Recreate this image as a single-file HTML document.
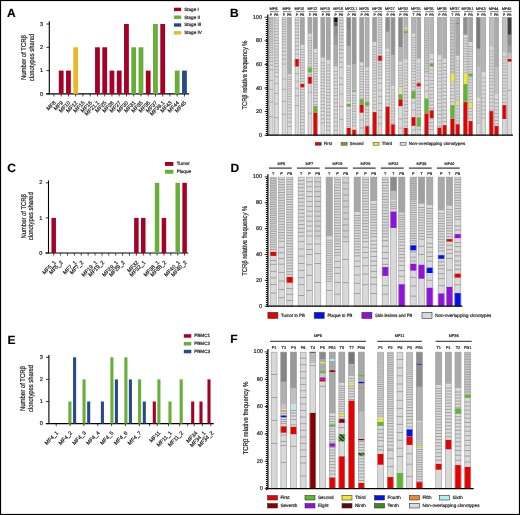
<!DOCTYPE html>
<html><head><meta charset="utf-8"><style>
html,body{margin:0;padding:0;background:#fff;}
svg{display:block;will-change:transform;}
text{font-family:"Liberation Sans", sans-serif;text-rendering:geometricPrecision;stroke:#333;stroke-width:0.22px;}
</style></head><body>
<svg width="520" height="515" viewBox="0 0 520 515">
<rect x="0" y="0" width="520" height="515" fill="#fff"/>
<defs>
<pattern id="hr" patternUnits="userSpaceOnUse" width="2.8" height="2.8" patternTransform="rotate(-45)"><rect width="2.8" height="2.8" fill="#e60000"/><rect width="1.3" height="2.8" fill="#111"/></pattern>
<pattern id="hg" patternUnits="userSpaceOnUse" width="2.8" height="2.8" patternTransform="rotate(-45)"><rect width="2.8" height="2.8" fill="#5cb82e"/><rect width="1.3" height="2.8" fill="#111"/></pattern>
</defs>
<text x="7.00" y="17.20" font-size="12" text-anchor="start" font-weight="bold" fill="#000" >A</text>
<text x="229.90" y="17.00" font-size="12" text-anchor="start" font-weight="bold" fill="#000" >B</text>
<text x="7.20" y="172.20" font-size="12" text-anchor="start" font-weight="bold" fill="#000" >C</text>
<text x="230.40" y="171.90" font-size="12" text-anchor="start" font-weight="bold" fill="#000" >D</text>
<text x="7.60" y="344.00" font-size="12" text-anchor="start" font-weight="bold" fill="#000" >E</text>
<text x="230.20" y="343.30" font-size="12" text-anchor="start" font-weight="bold" fill="#000" >F</text>
<line x1="49.30" y1="21.20" x2="49.30" y2="94.40" stroke="#000" stroke-width="1.1" />
<line x1="46.30" y1="93.90" x2="189.10" y2="93.90" stroke="#000" stroke-width="1.1" />
<line x1="46.50" y1="93.90" x2="49.30" y2="93.90" stroke="#000" stroke-width="0.8" />
<text x="43.20" y="95.50" font-size="5.6" text-anchor="end" font-weight="normal" fill="#222" >0</text>
<line x1="46.50" y1="70.60" x2="49.30" y2="70.60" stroke="#000" stroke-width="0.8" />
<text x="43.20" y="72.20" font-size="5.6" text-anchor="end" font-weight="normal" fill="#222" >1</text>
<line x1="46.50" y1="47.30" x2="49.30" y2="47.30" stroke="#000" stroke-width="0.8" />
<text x="43.20" y="48.90" font-size="5.6" text-anchor="end" font-weight="normal" fill="#222" >2</text>
<line x1="46.50" y1="24.00" x2="49.30" y2="24.00" stroke="#000" stroke-width="0.8" />
<text x="43.20" y="25.60" font-size="5.6" text-anchor="end" font-weight="normal" fill="#222" >3</text>
<line x1="53.95" y1="93.90" x2="53.95" y2="96.50" stroke="#000" stroke-width="0.7" />
<line x1="61.20" y1="93.90" x2="61.20" y2="96.50" stroke="#000" stroke-width="0.7" />
<line x1="68.45" y1="93.90" x2="68.45" y2="96.50" stroke="#000" stroke-width="0.7" />
<line x1="75.70" y1="93.90" x2="75.70" y2="96.50" stroke="#000" stroke-width="0.7" />
<line x1="82.95" y1="93.90" x2="82.95" y2="96.50" stroke="#000" stroke-width="0.7" />
<line x1="90.20" y1="93.90" x2="90.20" y2="96.50" stroke="#000" stroke-width="0.7" />
<line x1="97.45" y1="93.90" x2="97.45" y2="96.50" stroke="#000" stroke-width="0.7" />
<line x1="104.70" y1="93.90" x2="104.70" y2="96.50" stroke="#000" stroke-width="0.7" />
<line x1="111.95" y1="93.90" x2="111.95" y2="96.50" stroke="#000" stroke-width="0.7" />
<line x1="119.20" y1="93.90" x2="119.20" y2="96.50" stroke="#000" stroke-width="0.7" />
<line x1="126.45" y1="93.90" x2="126.45" y2="96.50" stroke="#000" stroke-width="0.7" />
<line x1="133.70" y1="93.90" x2="133.70" y2="96.50" stroke="#000" stroke-width="0.7" />
<line x1="140.95" y1="93.90" x2="140.95" y2="96.50" stroke="#000" stroke-width="0.7" />
<line x1="148.20" y1="93.90" x2="148.20" y2="96.50" stroke="#000" stroke-width="0.7" />
<line x1="155.45" y1="93.90" x2="155.45" y2="96.50" stroke="#000" stroke-width="0.7" />
<line x1="162.70" y1="93.90" x2="162.70" y2="96.50" stroke="#000" stroke-width="0.7" />
<line x1="169.95" y1="93.90" x2="169.95" y2="96.50" stroke="#000" stroke-width="0.7" />
<line x1="177.20" y1="93.90" x2="177.20" y2="96.50" stroke="#000" stroke-width="0.7" />
<line x1="184.45" y1="93.90" x2="184.45" y2="96.50" stroke="#000" stroke-width="0.7" />
<rect x="58.80" y="70.60" width="4.80" height="23.30" fill="#a50026" />
<rect x="66.05" y="70.60" width="4.80" height="23.30" fill="#a50026" />
<rect x="73.30" y="47.30" width="4.80" height="46.60" fill="#e8b828" />
<rect x="95.05" y="47.30" width="4.80" height="46.60" fill="#a50026" />
<rect x="102.30" y="47.30" width="4.80" height="46.60" fill="#a50026" />
<rect x="109.55" y="70.60" width="4.80" height="23.30" fill="#a50026" />
<rect x="116.80" y="70.60" width="4.80" height="23.30" fill="#a50026" />
<rect x="124.05" y="24.00" width="4.80" height="69.90" fill="#a50026" />
<rect x="131.30" y="47.30" width="4.80" height="46.60" fill="#6aae3a" />
<rect x="138.55" y="47.30" width="4.80" height="46.60" fill="#6aae3a" />
<rect x="145.80" y="70.60" width="4.80" height="23.30" fill="#a50026" />
<rect x="153.05" y="24.00" width="4.80" height="69.90" fill="#6aae3a" />
<rect x="160.30" y="24.00" width="4.80" height="69.90" fill="#a50026" />
<rect x="174.80" y="70.60" width="4.80" height="23.30" fill="#6aae3a" />
<rect x="182.05" y="70.60" width="4.80" height="23.30" fill="#284a8a" />
<text x="26.00" y="57.50" font-size="7" text-anchor="middle" font-weight="normal" fill="#111" transform="rotate(-90 26.00 57.50)" textLength="45" lengthAdjust="spacingAndGlyphs" >Number of TCRβ</text>
<text x="33.50" y="57.50" font-size="7" text-anchor="middle" font-weight="normal" fill="#111" transform="rotate(-90 33.50 57.50)" textLength="47.3" lengthAdjust="spacingAndGlyphs" >clonotypes shared</text>
<text x="56.25" y="103.20" font-size="5.4" text-anchor="end" font-weight="normal" fill="#111" transform="rotate(-45 56.25 103.20)" >MF8</text>
<text x="63.50" y="103.20" font-size="5.4" text-anchor="end" font-weight="normal" fill="#111" transform="rotate(-45 63.50 103.20)" >MF9</text>
<text x="70.75" y="103.20" font-size="5.4" text-anchor="end" font-weight="normal" fill="#111" transform="rotate(-45 70.75 103.20)" >MF10</text>
<text x="78.00" y="103.20" font-size="5.4" text-anchor="end" font-weight="normal" fill="#111" transform="rotate(-45 78.00 103.20)" >MF12</text>
<text x="85.25" y="103.20" font-size="5.4" text-anchor="end" font-weight="normal" fill="#111" transform="rotate(-45 85.25 103.20)" >MF15</text>
<text x="92.50" y="103.20" font-size="5.4" text-anchor="end" font-weight="normal" fill="#111" transform="rotate(-45 92.50 103.20)" >MF16</text>
<text x="99.75" y="103.20" font-size="5.4" text-anchor="end" font-weight="normal" fill="#111" transform="rotate(-45 99.75 103.20)" >MF21.1</text>
<text x="107.00" y="103.20" font-size="5.4" text-anchor="end" font-weight="normal" fill="#111" transform="rotate(-45 107.00 103.20)" >MF25</text>
<text x="114.25" y="103.20" font-size="5.4" text-anchor="end" font-weight="normal" fill="#111" transform="rotate(-45 114.25 103.20)" >MF26</text>
<text x="121.50" y="103.20" font-size="5.4" text-anchor="end" font-weight="normal" fill="#111" transform="rotate(-45 121.50 103.20)" >MF27</text>
<text x="128.75" y="103.20" font-size="5.4" text-anchor="end" font-weight="normal" fill="#111" transform="rotate(-45 128.75 103.20)" >MF30</text>
<text x="136.00" y="103.20" font-size="5.4" text-anchor="end" font-weight="normal" fill="#111" transform="rotate(-45 136.00 103.20)" >MF31</text>
<text x="143.25" y="103.20" font-size="5.4" text-anchor="end" font-weight="normal" fill="#111" transform="rotate(-45 143.25 103.20)" >MF35</text>
<text x="150.50" y="103.20" font-size="5.4" text-anchor="end" font-weight="normal" fill="#111" transform="rotate(-45 150.50 103.20)" >MF36</text>
<text x="157.75" y="103.20" font-size="5.4" text-anchor="end" font-weight="normal" fill="#111" transform="rotate(-45 157.75 103.20)" >MF37</text>
<text x="165.00" y="103.20" font-size="5.4" text-anchor="end" font-weight="normal" fill="#111" transform="rotate(-45 165.00 103.20)" >MF39.1</text>
<text x="172.25" y="103.20" font-size="5.4" text-anchor="end" font-weight="normal" fill="#111" transform="rotate(-45 172.25 103.20)" >MF43</text>
<text x="179.50" y="103.20" font-size="5.4" text-anchor="end" font-weight="normal" fill="#111" transform="rotate(-45 179.50 103.20)" >MF44</text>
<text x="186.75" y="103.20" font-size="5.4" text-anchor="end" font-weight="normal" fill="#111" transform="rotate(-45 186.75 103.20)" >MF45</text>
<rect x="173.90" y="7.70" width="7.30" height="3.40" fill="#a50026" />
<text x="184.20" y="10.80" font-size="4.6" text-anchor="start" font-weight="normal" fill="#111" >Stage I</text>
<rect x="173.90" y="15.50" width="7.30" height="3.40" fill="#6aae3a" />
<text x="184.20" y="18.60" font-size="4.6" text-anchor="start" font-weight="normal" fill="#111" >Stage II</text>
<rect x="173.90" y="23.30" width="7.30" height="3.40" fill="#284a8a" />
<text x="184.20" y="26.40" font-size="4.6" text-anchor="start" font-weight="normal" fill="#111" >Stage III</text>
<rect x="173.90" y="31.10" width="7.30" height="3.40" fill="#e8b828" />
<text x="184.20" y="34.20" font-size="4.6" text-anchor="start" font-weight="normal" fill="#111" >Stage IV</text>
<line x1="48.50" y1="180.40" x2="48.50" y2="253.50" stroke="#000" stroke-width="1.1" />
<line x1="45.50" y1="253.00" x2="188.30" y2="253.00" stroke="#000" stroke-width="1.1" />
<line x1="45.70" y1="253.00" x2="48.50" y2="253.00" stroke="#000" stroke-width="0.8" />
<text x="42.40" y="254.60" font-size="5.6" text-anchor="end" font-weight="normal" fill="#222" >0</text>
<line x1="45.70" y1="217.90" x2="48.50" y2="217.90" stroke="#000" stroke-width="0.8" />
<text x="42.40" y="219.50" font-size="5.6" text-anchor="end" font-weight="normal" fill="#222" >1</text>
<line x1="45.70" y1="182.80" x2="48.50" y2="182.80" stroke="#000" stroke-width="0.8" />
<text x="42.40" y="184.40" font-size="5.6" text-anchor="end" font-weight="normal" fill="#222" >2</text>
<line x1="53.70" y1="253.00" x2="53.70" y2="255.60" stroke="#000" stroke-width="0.7" />
<line x1="60.59" y1="253.00" x2="60.59" y2="255.60" stroke="#000" stroke-width="0.7" />
<line x1="67.48" y1="253.00" x2="67.48" y2="255.60" stroke="#000" stroke-width="0.7" />
<line x1="74.37" y1="253.00" x2="74.37" y2="255.60" stroke="#000" stroke-width="0.7" />
<line x1="81.26" y1="253.00" x2="81.26" y2="255.60" stroke="#000" stroke-width="0.7" />
<line x1="88.15" y1="253.00" x2="88.15" y2="255.60" stroke="#000" stroke-width="0.7" />
<line x1="95.04" y1="253.00" x2="95.04" y2="255.60" stroke="#000" stroke-width="0.7" />
<line x1="101.93" y1="253.00" x2="101.93" y2="255.60" stroke="#000" stroke-width="0.7" />
<line x1="108.82" y1="253.00" x2="108.82" y2="255.60" stroke="#000" stroke-width="0.7" />
<line x1="115.71" y1="253.00" x2="115.71" y2="255.60" stroke="#000" stroke-width="0.7" />
<line x1="122.60" y1="253.00" x2="122.60" y2="255.60" stroke="#000" stroke-width="0.7" />
<line x1="129.49" y1="253.00" x2="129.49" y2="255.60" stroke="#000" stroke-width="0.7" />
<line x1="136.38" y1="253.00" x2="136.38" y2="255.60" stroke="#000" stroke-width="0.7" />
<line x1="143.27" y1="253.00" x2="143.27" y2="255.60" stroke="#000" stroke-width="0.7" />
<line x1="150.16" y1="253.00" x2="150.16" y2="255.60" stroke="#000" stroke-width="0.7" />
<line x1="157.05" y1="253.00" x2="157.05" y2="255.60" stroke="#000" stroke-width="0.7" />
<line x1="163.94" y1="253.00" x2="163.94" y2="255.60" stroke="#000" stroke-width="0.7" />
<line x1="170.83" y1="253.00" x2="170.83" y2="255.60" stroke="#000" stroke-width="0.7" />
<line x1="177.72" y1="253.00" x2="177.72" y2="255.60" stroke="#000" stroke-width="0.7" />
<line x1="184.61" y1="253.00" x2="184.61" y2="255.60" stroke="#000" stroke-width="0.7" />
<rect x="51.45" y="217.90" width="4.50" height="35.10" fill="#a50026" />
<rect x="134.13" y="217.90" width="4.50" height="35.10" fill="#a50026" />
<rect x="141.02" y="217.90" width="4.50" height="35.10" fill="#a50026" />
<rect x="154.80" y="182.80" width="4.50" height="70.20" fill="#6aae3a" />
<rect x="161.69" y="217.90" width="4.50" height="35.10" fill="#a50026" />
<rect x="175.47" y="182.80" width="4.50" height="70.20" fill="#6aae3a" />
<rect x="182.36" y="182.80" width="4.50" height="70.20" fill="#a50026" />
<text x="25.90" y="216.30" font-size="7" text-anchor="middle" font-weight="normal" fill="#111" transform="rotate(-90 25.90 216.30)" textLength="44.5" lengthAdjust="spacingAndGlyphs" >Number of TCRβ</text>
<text x="33.40" y="216.30" font-size="7" text-anchor="middle" font-weight="normal" fill="#111" transform="rotate(-90 33.40 216.30)" textLength="48" lengthAdjust="spacingAndGlyphs" >clonotypes shared</text>
<text x="56.30" y="262.90" font-size="5.4" text-anchor="end" font-weight="normal" fill="#111" transform="rotate(-45 56.30 262.90)" >MF5_1</text>
<text x="63.19" y="262.90" font-size="5.4" text-anchor="end" font-weight="normal" fill="#111" transform="rotate(-45 63.19 262.90)" >MF5_2</text>
<text x="76.97" y="262.90" font-size="5.4" text-anchor="end" font-weight="normal" fill="#111" transform="rotate(-45 76.97 262.90)" >MF7_1</text>
<text x="83.86" y="262.90" font-size="5.4" text-anchor="end" font-weight="normal" fill="#111" transform="rotate(-45 83.86 262.90)" >MF7_2</text>
<text x="97.64" y="262.90" font-size="5.4" text-anchor="end" font-weight="normal" fill="#111" transform="rotate(-45 97.64 262.90)" >MF19_1</text>
<text x="104.53" y="262.90" font-size="5.4" text-anchor="end" font-weight="normal" fill="#111" transform="rotate(-45 104.53 262.90)" >MF19_2</text>
<text x="118.31" y="262.90" font-size="5.4" text-anchor="end" font-weight="normal" fill="#111" transform="rotate(-45 118.31 262.90)" >MF29_1</text>
<text x="125.20" y="262.90" font-size="5.4" text-anchor="end" font-weight="normal" fill="#111" transform="rotate(-45 125.20 262.90)" >MF29_2</text>
<text x="138.98" y="262.90" font-size="5.4" text-anchor="end" font-weight="normal" fill="#111" transform="rotate(-45 138.98 262.90)" >MF32</text>
<text x="145.87" y="262.90" font-size="5.4" text-anchor="end" font-weight="normal" fill="#111" transform="rotate(-45 145.87 262.90)" >MF32_1</text>
<text x="159.65" y="262.90" font-size="5.4" text-anchor="end" font-weight="normal" fill="#111" transform="rotate(-45 159.65 262.90)" >MF38_1</text>
<text x="166.54" y="262.90" font-size="5.4" text-anchor="end" font-weight="normal" fill="#111" transform="rotate(-45 166.54 262.90)" >MF38_2</text>
<text x="180.32" y="262.90" font-size="5.4" text-anchor="end" font-weight="normal" fill="#111" transform="rotate(-45 180.32 262.90)" >MF40_1</text>
<text x="187.21" y="262.90" font-size="5.4" text-anchor="end" font-weight="normal" fill="#111" transform="rotate(-45 187.21 262.90)" >MF40_2</text>
<rect x="165.00" y="162.00" width="8.40" height="3.90" fill="#a50026" />
<text x="176.70" y="165.30" font-size="4.6" text-anchor="start" font-weight="normal" fill="#111" >Tumor</text>
<rect x="165.00" y="169.80" width="8.40" height="3.90" fill="#6aae3a" />
<text x="176.70" y="173.10" font-size="4.6" text-anchor="start" font-weight="normal" fill="#111" >Plaque</text>
<line x1="48.90" y1="354.90" x2="48.90" y2="424.10" stroke="#000" stroke-width="1.1" />
<line x1="45.90" y1="423.60" x2="213.70" y2="423.60" stroke="#000" stroke-width="1.1" />
<line x1="46.10" y1="423.60" x2="48.90" y2="423.60" stroke="#000" stroke-width="0.8" />
<text x="42.80" y="425.20" font-size="5.6" text-anchor="end" font-weight="normal" fill="#222" >0</text>
<line x1="46.10" y1="401.50" x2="48.90" y2="401.50" stroke="#000" stroke-width="0.8" />
<text x="42.80" y="403.10" font-size="5.6" text-anchor="end" font-weight="normal" fill="#222" >1</text>
<line x1="46.10" y1="379.40" x2="48.90" y2="379.40" stroke="#000" stroke-width="0.8" />
<text x="42.80" y="381.00" font-size="5.6" text-anchor="end" font-weight="normal" fill="#222" >2</text>
<line x1="46.10" y1="357.30" x2="48.90" y2="357.30" stroke="#000" stroke-width="0.8" />
<text x="42.80" y="358.90" font-size="5.6" text-anchor="end" font-weight="normal" fill="#222" >3</text>
<line x1="56.20" y1="423.60" x2="56.20" y2="426.20" stroke="#000" stroke-width="0.7" />
<line x1="70.05" y1="423.60" x2="70.05" y2="426.20" stroke="#000" stroke-width="0.7" />
<line x1="83.90" y1="423.60" x2="83.90" y2="426.20" stroke="#000" stroke-width="0.7" />
<line x1="97.75" y1="423.60" x2="97.75" y2="426.20" stroke="#000" stroke-width="0.7" />
<line x1="111.60" y1="423.60" x2="111.60" y2="426.20" stroke="#000" stroke-width="0.7" />
<line x1="125.45" y1="423.60" x2="125.45" y2="426.20" stroke="#000" stroke-width="0.7" />
<line x1="139.30" y1="423.60" x2="139.30" y2="426.20" stroke="#000" stroke-width="0.7" />
<line x1="149.50" y1="423.60" x2="149.50" y2="426.20" stroke="#000" stroke-width="0.7" />
<line x1="157.20" y1="423.60" x2="157.20" y2="426.20" stroke="#000" stroke-width="0.7" />
<line x1="168.50" y1="423.60" x2="168.50" y2="426.20" stroke="#000" stroke-width="0.7" />
<line x1="179.70" y1="423.60" x2="179.70" y2="426.20" stroke="#000" stroke-width="0.7" />
<line x1="187.70" y1="423.60" x2="187.70" y2="426.20" stroke="#000" stroke-width="0.7" />
<line x1="194.20" y1="423.60" x2="194.20" y2="426.20" stroke="#000" stroke-width="0.7" />
<line x1="202.30" y1="423.60" x2="202.30" y2="426.20" stroke="#000" stroke-width="0.7" />
<line x1="210.80" y1="423.60" x2="210.80" y2="426.20" stroke="#000" stroke-width="0.7" />
<rect x="68.35" y="401.50" width="3.10" height="22.10" fill="#6aae3a" />
<rect x="73.05" y="357.30" width="3.10" height="66.30" fill="#284a8a" />
<rect x="82.50" y="379.40" width="3.10" height="44.20" fill="#6aae3a" />
<rect x="87.15" y="401.50" width="3.10" height="22.10" fill="#284a8a" />
<rect x="100.85" y="401.50" width="3.10" height="22.10" fill="#284a8a" />
<rect x="110.35" y="357.30" width="3.10" height="66.30" fill="#6aae3a" />
<rect x="114.85" y="379.40" width="3.10" height="44.20" fill="#284a8a" />
<rect x="124.35" y="357.30" width="3.10" height="66.30" fill="#6aae3a" />
<rect x="128.85" y="379.40" width="3.10" height="44.20" fill="#284a8a" />
<rect x="138.05" y="379.40" width="3.10" height="44.20" fill="#6aae3a" />
<rect x="142.75" y="401.50" width="3.10" height="22.10" fill="#284a8a" />
<rect x="152.75" y="401.50" width="3.10" height="22.10" fill="#a50026" />
<rect x="157.35" y="379.40" width="3.10" height="44.20" fill="#6aae3a" />
<rect x="168.45" y="401.50" width="3.10" height="22.10" fill="#6aae3a" />
<rect x="179.65" y="379.40" width="3.10" height="44.20" fill="#6aae3a" />
<rect x="191.15" y="401.50" width="3.10" height="22.10" fill="#a50026" />
<rect x="199.45" y="401.50" width="3.10" height="22.10" fill="#a50026" />
<rect x="207.45" y="379.40" width="3.10" height="44.20" fill="#a50026" />
<text x="25.10" y="388.50" font-size="7" text-anchor="middle" font-weight="normal" fill="#111" transform="rotate(-90 25.10 388.50)" textLength="45" lengthAdjust="spacingAndGlyphs" >Number of TCRβ</text>
<text x="32.60" y="388.50" font-size="7" text-anchor="middle" font-weight="normal" fill="#111" transform="rotate(-90 32.60 388.50)" textLength="47" lengthAdjust="spacingAndGlyphs" >clonotypes shared</text>
<text x="58.60" y="433.40" font-size="5.4" text-anchor="end" font-weight="normal" fill="#111" transform="rotate(-45 58.60 433.40)" >MF4_1</text>
<text x="72.50" y="433.40" font-size="5.4" text-anchor="end" font-weight="normal" fill="#111" transform="rotate(-45 72.50 433.40)" >MF4_2</text>
<text x="86.30" y="433.40" font-size="5.4" text-anchor="end" font-weight="normal" fill="#111" transform="rotate(-45 86.30 433.40)" >MF4_3</text>
<text x="100.20" y="433.40" font-size="5.4" text-anchor="end" font-weight="normal" fill="#111" transform="rotate(-45 100.20 433.40)" >MF4_4</text>
<text x="114.00" y="433.40" font-size="5.4" text-anchor="end" font-weight="normal" fill="#111" transform="rotate(-45 114.00 433.40)" >MF4_5</text>
<text x="127.80" y="433.40" font-size="5.4" text-anchor="end" font-weight="normal" fill="#111" transform="rotate(-45 127.80 433.40)" >MF4_6</text>
<text x="141.70" y="433.40" font-size="5.4" text-anchor="end" font-weight="normal" fill="#111" transform="rotate(-45 141.70 433.40)" >MF4_7</text>
<text x="160.90" y="433.40" font-size="5.4" text-anchor="end" font-weight="normal" fill="#111" transform="rotate(-45 160.90 433.40)" >MF11</text>
<text x="172.40" y="433.40" font-size="5.4" text-anchor="end" font-weight="normal" fill="#111" transform="rotate(-45 172.40 433.40)" >MF11_1</text>
<text x="183.60" y="433.40" font-size="5.4" text-anchor="end" font-weight="normal" fill="#111" transform="rotate(-45 183.60 433.40)" >MF11_2</text>
<text x="197.90" y="433.40" font-size="5.4" text-anchor="end" font-weight="normal" fill="#111" transform="rotate(-45 197.90 433.40)" >MF34</text>
<text x="205.90" y="433.40" font-size="5.4" text-anchor="end" font-weight="normal" fill="#111" transform="rotate(-45 205.90 433.40)" >MF34_1</text>
<text x="213.90" y="433.40" font-size="5.4" text-anchor="end" font-weight="normal" fill="#111" transform="rotate(-45 213.90 433.40)" >MF34_2</text>
<rect x="183.80" y="334.20" width="7.50" height="3.50" fill="#a50026" />
<text x="194.20" y="337.30" font-size="4.6" text-anchor="start" font-weight="normal" fill="#111" >PBMC1</text>
<rect x="183.80" y="342.00" width="7.50" height="3.50" fill="#6aae3a" />
<text x="194.20" y="345.10" font-size="4.6" text-anchor="start" font-weight="normal" fill="#111" >PBMC2</text>
<rect x="183.80" y="349.80" width="7.50" height="3.50" fill="#284a8a" />
<text x="194.20" y="352.90" font-size="4.6" text-anchor="start" font-weight="normal" fill="#111" >PBMC3</text>
<rect x="268.90" y="17.20" width="4.40" height="118.00" fill="#d9d9d9" />
<line x1="268.90" y1="18.60" x2="273.30" y2="18.60" stroke="#a2a2a2" stroke-width="0.8" />
<line x1="268.90" y1="20.00" x2="273.30" y2="20.00" stroke="#a2a2a2" stroke-width="0.8" />
<line x1="268.90" y1="21.41" x2="273.30" y2="21.41" stroke="#a2a2a2" stroke-width="0.8" />
<line x1="268.90" y1="22.82" x2="273.30" y2="22.82" stroke="#a2a2a2" stroke-width="0.8" />
<line x1="268.90" y1="24.24" x2="273.30" y2="24.24" stroke="#a2a2a2" stroke-width="0.8" />
<line x1="268.90" y1="25.68" x2="273.30" y2="25.68" stroke="#a2a2a2" stroke-width="0.8" />
<line x1="268.90" y1="27.13" x2="273.30" y2="27.13" stroke="#a2a2a2" stroke-width="0.8" />
<line x1="268.90" y1="28.61" x2="273.30" y2="28.61" stroke="#a2a2a2" stroke-width="0.8" />
<line x1="268.90" y1="30.10" x2="273.30" y2="30.10" stroke="#a2a2a2" stroke-width="0.8" />
<line x1="268.90" y1="31.63" x2="273.30" y2="31.63" stroke="#a2a2a2" stroke-width="0.8" />
<line x1="268.90" y1="33.19" x2="273.30" y2="33.19" stroke="#a2a2a2" stroke-width="0.8" />
<line x1="268.90" y1="34.79" x2="273.30" y2="34.79" stroke="#a2a2a2" stroke-width="0.8" />
<line x1="268.90" y1="36.43" x2="273.30" y2="36.43" stroke="#a2a2a2" stroke-width="0.8" />
<line x1="268.90" y1="38.12" x2="273.30" y2="38.12" stroke="#a2a2a2" stroke-width="0.8" />
<line x1="268.90" y1="39.88" x2="273.30" y2="39.88" stroke="#a2a2a2" stroke-width="0.8" />
<line x1="268.90" y1="41.71" x2="273.30" y2="41.71" stroke="#a2a2a2" stroke-width="0.8" />
<line x1="268.90" y1="43.61" x2="273.30" y2="43.61" stroke="#a2a2a2" stroke-width="0.8" />
<line x1="268.90" y1="45.62" x2="273.30" y2="45.62" stroke="#a2a2a2" stroke-width="0.8" />
<line x1="268.90" y1="47.75" x2="273.30" y2="47.75" stroke="#a2a2a2" stroke-width="0.8" />
<line x1="268.90" y1="50.02" x2="273.30" y2="50.02" stroke="#a2a2a2" stroke-width="0.8" />
<line x1="268.90" y1="52.46" x2="273.30" y2="52.46" stroke="#a2a2a2" stroke-width="0.8" />
<line x1="268.90" y1="55.12" x2="273.30" y2="55.12" stroke="#a2a2a2" stroke-width="0.8" />
<line x1="268.90" y1="58.06" x2="273.30" y2="58.06" stroke="#a2a2a2" stroke-width="0.8" />
<line x1="268.90" y1="61.38" x2="273.30" y2="61.38" stroke="#a2a2a2" stroke-width="0.8" />
<line x1="268.90" y1="65.22" x2="273.30" y2="65.22" stroke="#a2a2a2" stroke-width="0.8" />
<line x1="268.90" y1="69.84" x2="273.30" y2="69.84" stroke="#a2a2a2" stroke-width="0.8" />
<line x1="268.90" y1="80.40" x2="273.30" y2="80.40" stroke="#a2a2a2" stroke-width="0.8" />
<line x1="268.90" y1="89.40" x2="273.30" y2="89.40" stroke="#a2a2a2" stroke-width="0.8" />
<line x1="268.90" y1="102.20" x2="273.30" y2="102.20" stroke="#a2a2a2" stroke-width="0.8" />
<line x1="268.90" y1="116.80" x2="273.30" y2="116.80" stroke="#a2a2a2" stroke-width="0.8" />
<rect x="269.20" y="17.50" width="3.80" height="117.70" fill="none" stroke="#a3a3a3" stroke-width="0.6"/>
<rect x="274.20" y="17.20" width="4.40" height="118.00" fill="#d9d9d9" />
<line x1="274.20" y1="20.10" x2="278.60" y2="20.10" stroke="#a2a2a2" stroke-width="0.8" />
<line x1="274.20" y1="23.00" x2="278.60" y2="23.00" stroke="#a2a2a2" stroke-width="0.8" />
<line x1="274.20" y1="25.90" x2="278.60" y2="25.90" stroke="#a2a2a2" stroke-width="0.8" />
<line x1="274.20" y1="28.80" x2="278.60" y2="28.80" stroke="#a2a2a2" stroke-width="0.8" />
<line x1="274.20" y1="31.70" x2="278.60" y2="31.70" stroke="#a2a2a2" stroke-width="0.8" />
<line x1="274.20" y1="34.60" x2="278.60" y2="34.60" stroke="#a2a2a2" stroke-width="0.8" />
<line x1="274.20" y1="37.50" x2="278.60" y2="37.50" stroke="#a2a2a2" stroke-width="0.8" />
<line x1="274.20" y1="40.40" x2="278.60" y2="40.40" stroke="#a2a2a2" stroke-width="0.8" />
<line x1="274.20" y1="43.30" x2="278.60" y2="43.30" stroke="#a2a2a2" stroke-width="0.8" />
<line x1="274.20" y1="46.20" x2="278.60" y2="46.20" stroke="#a2a2a2" stroke-width="0.8" />
<line x1="274.20" y1="49.10" x2="278.60" y2="49.10" stroke="#a2a2a2" stroke-width="0.8" />
<line x1="274.20" y1="52.00" x2="278.60" y2="52.00" stroke="#a2a2a2" stroke-width="0.8" />
<line x1="274.20" y1="54.90" x2="278.60" y2="54.90" stroke="#a2a2a2" stroke-width="0.8" />
<line x1="274.20" y1="57.80" x2="278.60" y2="57.80" stroke="#a2a2a2" stroke-width="0.8" />
<line x1="274.20" y1="60.70" x2="278.60" y2="60.70" stroke="#a2a2a2" stroke-width="0.8" />
<line x1="274.20" y1="63.60" x2="278.60" y2="63.60" stroke="#a2a2a2" stroke-width="0.8" />
<line x1="274.20" y1="66.50" x2="278.60" y2="66.50" stroke="#a2a2a2" stroke-width="0.8" />
<line x1="274.20" y1="69.40" x2="278.60" y2="69.40" stroke="#a2a2a2" stroke-width="0.8" />
<line x1="274.20" y1="72.30" x2="278.60" y2="72.30" stroke="#a2a2a2" stroke-width="0.8" />
<line x1="274.20" y1="76.60" x2="278.60" y2="76.60" stroke="#a2a2a2" stroke-width="0.8" />
<line x1="274.20" y1="83.60" x2="278.60" y2="83.60" stroke="#a2a2a2" stroke-width="0.8" />
<line x1="274.20" y1="93.50" x2="278.60" y2="93.50" stroke="#a2a2a2" stroke-width="0.8" />
<line x1="274.20" y1="104.00" x2="278.60" y2="104.00" stroke="#a2a2a2" stroke-width="0.8" />
<line x1="274.20" y1="117.70" x2="278.60" y2="117.70" stroke="#a2a2a2" stroke-width="0.8" />
<rect x="274.50" y="17.50" width="3.80" height="117.70" fill="none" stroke="#a3a3a3" stroke-width="0.6"/>
<rect x="281.85" y="17.20" width="4.40" height="118.00" fill="#d9d9d9" />
<line x1="281.85" y1="19.50" x2="286.25" y2="19.50" stroke="#a2a2a2" stroke-width="0.8" />
<line x1="281.85" y1="21.81" x2="286.25" y2="21.81" stroke="#a2a2a2" stroke-width="0.8" />
<line x1="281.85" y1="24.13" x2="286.25" y2="24.13" stroke="#a2a2a2" stroke-width="0.8" />
<line x1="281.85" y1="26.47" x2="286.25" y2="26.47" stroke="#a2a2a2" stroke-width="0.8" />
<line x1="281.85" y1="28.86" x2="286.25" y2="28.86" stroke="#a2a2a2" stroke-width="0.8" />
<line x1="281.85" y1="31.29" x2="286.25" y2="31.29" stroke="#a2a2a2" stroke-width="0.8" />
<line x1="281.85" y1="33.79" x2="286.25" y2="33.79" stroke="#a2a2a2" stroke-width="0.8" />
<line x1="281.85" y1="36.36" x2="286.25" y2="36.36" stroke="#a2a2a2" stroke-width="0.8" />
<line x1="281.85" y1="39.04" x2="286.25" y2="39.04" stroke="#a2a2a2" stroke-width="0.8" />
<line x1="281.85" y1="41.85" x2="286.25" y2="41.85" stroke="#a2a2a2" stroke-width="0.8" />
<line x1="281.85" y1="44.80" x2="286.25" y2="44.80" stroke="#a2a2a2" stroke-width="0.8" />
<line x1="281.85" y1="47.96" x2="286.25" y2="47.96" stroke="#a2a2a2" stroke-width="0.8" />
<line x1="281.85" y1="51.36" x2="286.25" y2="51.36" stroke="#a2a2a2" stroke-width="0.8" />
<line x1="281.85" y1="55.10" x2="286.25" y2="55.10" stroke="#a2a2a2" stroke-width="0.8" />
<line x1="281.85" y1="59.27" x2="286.25" y2="59.27" stroke="#a2a2a2" stroke-width="0.8" />
<line x1="281.85" y1="64.06" x2="286.25" y2="64.06" stroke="#a2a2a2" stroke-width="0.8" />
<line x1="281.85" y1="78.90" x2="286.25" y2="78.90" stroke="#a2a2a2" stroke-width="0.8" />
<line x1="281.85" y1="89.40" x2="286.25" y2="89.40" stroke="#a2a2a2" stroke-width="0.8" />
<line x1="281.85" y1="101.40" x2="286.25" y2="101.40" stroke="#a2a2a2" stroke-width="0.8" />
<line x1="281.85" y1="114.20" x2="286.25" y2="114.20" stroke="#a2a2a2" stroke-width="0.8" />
<rect x="282.15" y="17.50" width="3.80" height="117.70" fill="none" stroke="#a3a3a3" stroke-width="0.6"/>
<rect x="287.15" y="17.20" width="4.40" height="118.00" fill="#d9d9d9" />
<rect x="287.15" y="17.20" width="4.40" height="57.10" fill="#acacac" />
<line x1="287.15" y1="77.20" x2="291.55" y2="77.20" stroke="#a2a2a2" stroke-width="0.8" />
<line x1="287.15" y1="79.50" x2="291.55" y2="79.50" stroke="#a2a2a2" stroke-width="0.8" />
<line x1="287.15" y1="81.82" x2="291.55" y2="81.82" stroke="#a2a2a2" stroke-width="0.8" />
<line x1="287.15" y1="84.15" x2="291.55" y2="84.15" stroke="#a2a2a2" stroke-width="0.8" />
<line x1="287.15" y1="86.51" x2="291.55" y2="86.51" stroke="#a2a2a2" stroke-width="0.8" />
<line x1="287.15" y1="88.91" x2="291.55" y2="88.91" stroke="#a2a2a2" stroke-width="0.8" />
<line x1="287.15" y1="91.35" x2="291.55" y2="91.35" stroke="#a2a2a2" stroke-width="0.8" />
<line x1="287.15" y1="93.85" x2="291.55" y2="93.85" stroke="#a2a2a2" stroke-width="0.8" />
<line x1="287.15" y1="96.41" x2="291.55" y2="96.41" stroke="#a2a2a2" stroke-width="0.8" />
<line x1="287.15" y1="99.06" x2="291.55" y2="99.06" stroke="#a2a2a2" stroke-width="0.8" />
<line x1="287.15" y1="101.81" x2="291.55" y2="101.81" stroke="#a2a2a2" stroke-width="0.8" />
<line x1="287.15" y1="104.68" x2="291.55" y2="104.68" stroke="#a2a2a2" stroke-width="0.8" />
<line x1="287.15" y1="107.69" x2="291.55" y2="107.69" stroke="#a2a2a2" stroke-width="0.8" />
<line x1="287.15" y1="110.88" x2="291.55" y2="110.88" stroke="#a2a2a2" stroke-width="0.8" />
<line x1="287.15" y1="114.30" x2="291.55" y2="114.30" stroke="#a2a2a2" stroke-width="0.8" />
<line x1="287.15" y1="117.99" x2="291.55" y2="117.99" stroke="#a2a2a2" stroke-width="0.8" />
<line x1="287.15" y1="122.04" x2="291.55" y2="122.04" stroke="#a2a2a2" stroke-width="0.8" />
<line x1="287.15" y1="126.56" x2="291.55" y2="126.56" stroke="#a2a2a2" stroke-width="0.8" />
<rect x="287.45" y="17.50" width="3.80" height="117.70" fill="none" stroke="#a3a3a3" stroke-width="0.6"/>
<rect x="294.80" y="17.20" width="4.40" height="118.00" fill="#d9d9d9" />
<line x1="294.80" y1="20.10" x2="299.20" y2="20.10" stroke="#a2a2a2" stroke-width="0.8" />
<line x1="294.80" y1="23.01" x2="299.20" y2="23.01" stroke="#a2a2a2" stroke-width="0.8" />
<line x1="294.80" y1="25.95" x2="299.20" y2="25.95" stroke="#a2a2a2" stroke-width="0.8" />
<line x1="294.80" y1="28.94" x2="299.20" y2="28.94" stroke="#a2a2a2" stroke-width="0.8" />
<line x1="294.80" y1="32.00" x2="299.20" y2="32.00" stroke="#a2a2a2" stroke-width="0.8" />
<line x1="294.80" y1="35.17" x2="299.20" y2="35.17" stroke="#a2a2a2" stroke-width="0.8" />
<line x1="294.80" y1="38.47" x2="299.20" y2="38.47" stroke="#a2a2a2" stroke-width="0.8" />
<line x1="294.80" y1="41.95" x2="299.20" y2="41.95" stroke="#a2a2a2" stroke-width="0.8" />
<line x1="294.80" y1="45.65" x2="299.20" y2="45.65" stroke="#a2a2a2" stroke-width="0.8" />
<line x1="294.80" y1="49.66" x2="299.20" y2="49.66" stroke="#a2a2a2" stroke-width="0.8" />
<line x1="294.80" y1="54.09" x2="299.20" y2="54.09" stroke="#a2a2a2" stroke-width="0.8" />
<line x1="294.80" y1="73.70" x2="299.20" y2="73.70" stroke="#a2a2a2" stroke-width="0.8" />
<line x1="294.80" y1="81.20" x2="299.20" y2="81.20" stroke="#a2a2a2" stroke-width="0.8" />
<line x1="294.80" y1="88.20" x2="299.20" y2="88.20" stroke="#a2a2a2" stroke-width="0.8" />
<line x1="294.80" y1="95.80" x2="299.20" y2="95.80" stroke="#a2a2a2" stroke-width="0.8" />
<line x1="294.80" y1="105.70" x2="299.20" y2="105.70" stroke="#a2a2a2" stroke-width="0.8" />
<rect x="294.80" y="58.00" width="4.40" height="0.80" fill="#a8f4f4" />
<rect x="294.80" y="59.10" width="4.40" height="7.60" fill="#e60000" />
<rect x="294.80" y="66.70" width="4.40" height="0.80" fill="#a8f4f4" />
<rect x="295.10" y="17.50" width="3.80" height="117.70" fill="none" stroke="#a3a3a3" stroke-width="0.6"/>
<rect x="300.10" y="17.20" width="4.40" height="118.00" fill="#d9d9d9" />
<rect x="300.10" y="17.20" width="4.40" height="27.50" fill="#a6a6a6" />
<line x1="300.10" y1="49.60" x2="304.50" y2="49.60" stroke="#a2a2a2" stroke-width="0.8" />
<line x1="300.10" y1="52.20" x2="304.50" y2="52.20" stroke="#a2a2a2" stroke-width="0.8" />
<line x1="300.10" y1="54.80" x2="304.50" y2="54.80" stroke="#a2a2a2" stroke-width="0.8" />
<line x1="300.10" y1="57.41" x2="304.50" y2="57.41" stroke="#a2a2a2" stroke-width="0.8" />
<line x1="300.10" y1="60.02" x2="304.50" y2="60.02" stroke="#a2a2a2" stroke-width="0.8" />
<line x1="300.10" y1="62.64" x2="304.50" y2="62.64" stroke="#a2a2a2" stroke-width="0.8" />
<line x1="300.10" y1="65.27" x2="304.50" y2="65.27" stroke="#a2a2a2" stroke-width="0.8" />
<line x1="300.10" y1="67.90" x2="304.50" y2="67.90" stroke="#a2a2a2" stroke-width="0.8" />
<line x1="300.10" y1="70.55" x2="304.50" y2="70.55" stroke="#a2a2a2" stroke-width="0.8" />
<line x1="300.10" y1="73.21" x2="304.50" y2="73.21" stroke="#a2a2a2" stroke-width="0.8" />
<line x1="300.10" y1="75.89" x2="304.50" y2="75.89" stroke="#a2a2a2" stroke-width="0.8" />
<line x1="300.10" y1="78.58" x2="304.50" y2="78.58" stroke="#a2a2a2" stroke-width="0.8" />
<line x1="300.10" y1="81.29" x2="304.50" y2="81.29" stroke="#a2a2a2" stroke-width="0.8" />
<line x1="300.10" y1="84.03" x2="304.50" y2="84.03" stroke="#a2a2a2" stroke-width="0.8" />
<line x1="300.10" y1="86.78" x2="304.50" y2="86.78" stroke="#a2a2a2" stroke-width="0.8" />
<line x1="300.10" y1="89.56" x2="304.50" y2="89.56" stroke="#a2a2a2" stroke-width="0.8" />
<line x1="300.10" y1="92.36" x2="304.50" y2="92.36" stroke="#a2a2a2" stroke-width="0.8" />
<line x1="300.10" y1="95.20" x2="304.50" y2="95.20" stroke="#a2a2a2" stroke-width="0.8" />
<line x1="300.10" y1="98.07" x2="304.50" y2="98.07" stroke="#a2a2a2" stroke-width="0.8" />
<line x1="300.10" y1="100.97" x2="304.50" y2="100.97" stroke="#a2a2a2" stroke-width="0.8" />
<line x1="300.10" y1="103.91" x2="304.50" y2="103.91" stroke="#a2a2a2" stroke-width="0.8" />
<line x1="300.10" y1="106.88" x2="304.50" y2="106.88" stroke="#a2a2a2" stroke-width="0.8" />
<line x1="300.10" y1="109.91" x2="304.50" y2="109.91" stroke="#a2a2a2" stroke-width="0.8" />
<line x1="300.10" y1="112.98" x2="304.50" y2="112.98" stroke="#a2a2a2" stroke-width="0.8" />
<line x1="300.10" y1="116.10" x2="304.50" y2="116.10" stroke="#a2a2a2" stroke-width="0.8" />
<line x1="300.10" y1="119.28" x2="304.50" y2="119.28" stroke="#a2a2a2" stroke-width="0.8" />
<line x1="300.10" y1="122.52" x2="304.50" y2="122.52" stroke="#a2a2a2" stroke-width="0.8" />
<line x1="300.10" y1="125.82" x2="304.50" y2="125.82" stroke="#a2a2a2" stroke-width="0.8" />
<line x1="300.10" y1="129.20" x2="304.50" y2="129.20" stroke="#a2a2a2" stroke-width="0.8" />
<line x1="300.10" y1="132.65" x2="304.50" y2="132.65" stroke="#a2a2a2" stroke-width="0.8" />
<rect x="300.10" y="84.00" width="4.40" height="3.30" fill="#e60000" />
<rect x="300.40" y="17.50" width="3.80" height="117.70" fill="none" stroke="#a3a3a3" stroke-width="0.6"/>
<rect x="307.75" y="17.20" width="4.40" height="118.00" fill="#d9d9d9" />
<rect x="307.75" y="17.20" width="4.40" height="16.40" fill="#a6a6a6" />
<line x1="307.75" y1="38.00" x2="312.15" y2="38.00" stroke="#a2a2a2" stroke-width="0.8" />
<line x1="307.75" y1="40.50" x2="312.15" y2="40.50" stroke="#a2a2a2" stroke-width="0.8" />
<line x1="307.75" y1="43.01" x2="312.15" y2="43.01" stroke="#a2a2a2" stroke-width="0.8" />
<line x1="307.75" y1="45.52" x2="312.15" y2="45.52" stroke="#a2a2a2" stroke-width="0.8" />
<line x1="307.75" y1="48.05" x2="312.15" y2="48.05" stroke="#a2a2a2" stroke-width="0.8" />
<line x1="307.75" y1="50.60" x2="312.15" y2="50.60" stroke="#a2a2a2" stroke-width="0.8" />
<line x1="307.75" y1="53.16" x2="312.15" y2="53.16" stroke="#a2a2a2" stroke-width="0.8" />
<line x1="307.75" y1="55.75" x2="312.15" y2="55.75" stroke="#a2a2a2" stroke-width="0.8" />
<line x1="307.75" y1="58.37" x2="312.15" y2="58.37" stroke="#a2a2a2" stroke-width="0.8" />
<line x1="307.75" y1="61.02" x2="312.15" y2="61.02" stroke="#a2a2a2" stroke-width="0.8" />
<line x1="307.75" y1="63.70" x2="312.15" y2="63.70" stroke="#a2a2a2" stroke-width="0.8" />
<line x1="307.75" y1="66.43" x2="312.15" y2="66.43" stroke="#a2a2a2" stroke-width="0.8" />
<line x1="307.75" y1="69.21" x2="312.15" y2="69.21" stroke="#a2a2a2" stroke-width="0.8" />
<line x1="307.75" y1="72.05" x2="312.15" y2="72.05" stroke="#a2a2a2" stroke-width="0.8" />
<line x1="307.75" y1="74.95" x2="312.15" y2="74.95" stroke="#a2a2a2" stroke-width="0.8" />
<line x1="307.75" y1="92.20" x2="312.15" y2="92.20" stroke="#a2a2a2" stroke-width="0.8" />
<line x1="307.75" y1="113.30" x2="312.15" y2="113.30" stroke="#a2a2a2" stroke-width="0.8" />
<rect x="307.75" y="67.70" width="4.40" height="4.60" fill="#5cb82e" />
<rect x="307.75" y="76.80" width="4.40" height="6.90" fill="#e60000" />
<rect x="308.05" y="17.50" width="3.80" height="117.70" fill="none" stroke="#a3a3a3" stroke-width="0.6"/>
<rect x="313.05" y="17.20" width="4.40" height="118.00" fill="#d9d9d9" />
<rect x="313.05" y="17.20" width="4.40" height="31.60" fill="#a0a0a0" />
<line x1="313.05" y1="53.50" x2="317.45" y2="53.50" stroke="#a2a2a2" stroke-width="0.8" />
<line x1="313.05" y1="56.00" x2="317.45" y2="56.00" stroke="#a2a2a2" stroke-width="0.8" />
<line x1="313.05" y1="58.51" x2="317.45" y2="58.51" stroke="#a2a2a2" stroke-width="0.8" />
<line x1="313.05" y1="61.02" x2="317.45" y2="61.02" stroke="#a2a2a2" stroke-width="0.8" />
<line x1="313.05" y1="63.54" x2="317.45" y2="63.54" stroke="#a2a2a2" stroke-width="0.8" />
<line x1="313.05" y1="66.07" x2="317.45" y2="66.07" stroke="#a2a2a2" stroke-width="0.8" />
<line x1="313.05" y1="68.62" x2="317.45" y2="68.62" stroke="#a2a2a2" stroke-width="0.8" />
<line x1="313.05" y1="71.18" x2="317.45" y2="71.18" stroke="#a2a2a2" stroke-width="0.8" />
<line x1="313.05" y1="73.77" x2="317.45" y2="73.77" stroke="#a2a2a2" stroke-width="0.8" />
<line x1="313.05" y1="76.37" x2="317.45" y2="76.37" stroke="#a2a2a2" stroke-width="0.8" />
<line x1="313.05" y1="79.01" x2="317.45" y2="79.01" stroke="#a2a2a2" stroke-width="0.8" />
<line x1="313.05" y1="81.67" x2="317.45" y2="81.67" stroke="#a2a2a2" stroke-width="0.8" />
<line x1="313.05" y1="84.37" x2="317.45" y2="84.37" stroke="#a2a2a2" stroke-width="0.8" />
<line x1="313.05" y1="87.11" x2="317.45" y2="87.11" stroke="#a2a2a2" stroke-width="0.8" />
<line x1="313.05" y1="89.89" x2="317.45" y2="89.89" stroke="#a2a2a2" stroke-width="0.8" />
<line x1="313.05" y1="92.72" x2="317.45" y2="92.72" stroke="#a2a2a2" stroke-width="0.8" />
<line x1="313.05" y1="95.60" x2="317.45" y2="95.60" stroke="#a2a2a2" stroke-width="0.8" />
<line x1="313.05" y1="98.54" x2="317.45" y2="98.54" stroke="#a2a2a2" stroke-width="0.8" />
<line x1="313.05" y1="101.55" x2="317.45" y2="101.55" stroke="#a2a2a2" stroke-width="0.8" />
<line x1="313.05" y1="104.63" x2="317.45" y2="104.63" stroke="#a2a2a2" stroke-width="0.8" />
<rect x="313.05" y="106.10" width="4.40" height="6.90" fill="#5cb82e" />
<rect x="313.05" y="113.00" width="4.40" height="22.20" fill="#e60000" />
<rect x="313.35" y="17.50" width="3.80" height="117.70" fill="none" stroke="#a3a3a3" stroke-width="0.6"/>
<rect x="320.70" y="17.20" width="4.40" height="118.00" fill="#d9d9d9" />
<rect x="320.70" y="17.20" width="4.40" height="40.30" fill="#a3a3a3" />
<line x1="320.70" y1="62.80" x2="325.10" y2="62.80" stroke="#a2a2a2" stroke-width="0.8" />
<line x1="320.70" y1="65.60" x2="325.10" y2="65.60" stroke="#a2a2a2" stroke-width="0.8" />
<line x1="320.70" y1="68.41" x2="325.10" y2="68.41" stroke="#a2a2a2" stroke-width="0.8" />
<line x1="320.70" y1="71.23" x2="325.10" y2="71.23" stroke="#a2a2a2" stroke-width="0.8" />
<line x1="320.70" y1="74.07" x2="325.10" y2="74.07" stroke="#a2a2a2" stroke-width="0.8" />
<line x1="320.70" y1="76.92" x2="325.10" y2="76.92" stroke="#a2a2a2" stroke-width="0.8" />
<line x1="320.70" y1="79.80" x2="325.10" y2="79.80" stroke="#a2a2a2" stroke-width="0.8" />
<line x1="320.70" y1="82.71" x2="325.10" y2="82.71" stroke="#a2a2a2" stroke-width="0.8" />
<line x1="320.70" y1="85.66" x2="325.10" y2="85.66" stroke="#a2a2a2" stroke-width="0.8" />
<line x1="320.70" y1="88.65" x2="325.10" y2="88.65" stroke="#a2a2a2" stroke-width="0.8" />
<line x1="320.70" y1="91.68" x2="325.10" y2="91.68" stroke="#a2a2a2" stroke-width="0.8" />
<line x1="320.70" y1="94.78" x2="325.10" y2="94.78" stroke="#a2a2a2" stroke-width="0.8" />
<line x1="320.70" y1="97.93" x2="325.10" y2="97.93" stroke="#a2a2a2" stroke-width="0.8" />
<line x1="320.70" y1="101.16" x2="325.10" y2="101.16" stroke="#a2a2a2" stroke-width="0.8" />
<line x1="320.70" y1="104.47" x2="325.10" y2="104.47" stroke="#a2a2a2" stroke-width="0.8" />
<line x1="320.70" y1="107.88" x2="325.10" y2="107.88" stroke="#a2a2a2" stroke-width="0.8" />
<line x1="320.70" y1="111.39" x2="325.10" y2="111.39" stroke="#a2a2a2" stroke-width="0.8" />
<line x1="320.70" y1="115.03" x2="325.10" y2="115.03" stroke="#a2a2a2" stroke-width="0.8" />
<line x1="320.70" y1="118.81" x2="325.10" y2="118.81" stroke="#a2a2a2" stroke-width="0.8" />
<line x1="320.70" y1="122.75" x2="325.10" y2="122.75" stroke="#a2a2a2" stroke-width="0.8" />
<rect x="321.00" y="17.50" width="3.80" height="117.70" fill="none" stroke="#a3a3a3" stroke-width="0.6"/>
<rect x="326.00" y="17.20" width="4.40" height="118.00" fill="#d9d9d9" />
<rect x="326.00" y="17.20" width="4.40" height="42.70" fill="#a8a8a8" />
<line x1="326.00" y1="65.00" x2="330.40" y2="65.00" stroke="#a2a2a2" stroke-width="0.8" />
<line x1="326.00" y1="68.00" x2="330.40" y2="68.00" stroke="#a2a2a2" stroke-width="0.8" />
<line x1="326.00" y1="71.01" x2="330.40" y2="71.01" stroke="#a2a2a2" stroke-width="0.8" />
<line x1="326.00" y1="74.02" x2="330.40" y2="74.02" stroke="#a2a2a2" stroke-width="0.8" />
<line x1="326.00" y1="77.05" x2="330.40" y2="77.05" stroke="#a2a2a2" stroke-width="0.8" />
<line x1="326.00" y1="80.09" x2="330.40" y2="80.09" stroke="#a2a2a2" stroke-width="0.8" />
<line x1="326.00" y1="83.14" x2="330.40" y2="83.14" stroke="#a2a2a2" stroke-width="0.8" />
<line x1="326.00" y1="86.22" x2="330.40" y2="86.22" stroke="#a2a2a2" stroke-width="0.8" />
<line x1="326.00" y1="89.32" x2="330.40" y2="89.32" stroke="#a2a2a2" stroke-width="0.8" />
<line x1="326.00" y1="92.45" x2="330.40" y2="92.45" stroke="#a2a2a2" stroke-width="0.8" />
<line x1="326.00" y1="95.62" x2="330.40" y2="95.62" stroke="#a2a2a2" stroke-width="0.8" />
<line x1="326.00" y1="98.82" x2="330.40" y2="98.82" stroke="#a2a2a2" stroke-width="0.8" />
<line x1="326.00" y1="102.06" x2="330.40" y2="102.06" stroke="#a2a2a2" stroke-width="0.8" />
<line x1="326.00" y1="105.34" x2="330.40" y2="105.34" stroke="#a2a2a2" stroke-width="0.8" />
<line x1="326.00" y1="108.68" x2="330.40" y2="108.68" stroke="#a2a2a2" stroke-width="0.8" />
<line x1="326.00" y1="112.08" x2="330.40" y2="112.08" stroke="#a2a2a2" stroke-width="0.8" />
<line x1="326.00" y1="115.54" x2="330.40" y2="115.54" stroke="#a2a2a2" stroke-width="0.8" />
<line x1="326.00" y1="119.08" x2="330.40" y2="119.08" stroke="#a2a2a2" stroke-width="0.8" />
<line x1="326.00" y1="122.69" x2="330.40" y2="122.69" stroke="#a2a2a2" stroke-width="0.8" />
<line x1="326.00" y1="126.39" x2="330.40" y2="126.39" stroke="#a2a2a2" stroke-width="0.8" />
<line x1="326.00" y1="130.19" x2="330.40" y2="130.19" stroke="#a2a2a2" stroke-width="0.8" />
<rect x="326.30" y="17.50" width="3.80" height="117.70" fill="none" stroke="#a3a3a3" stroke-width="0.6"/>
<rect x="333.65" y="17.20" width="4.40" height="118.00" fill="#d9d9d9" />
<rect x="333.65" y="17.20" width="4.40" height="5.20" fill="#111111" />
<rect x="333.65" y="22.40" width="4.40" height="4.10" fill="#555555" />
<rect x="333.65" y="26.50" width="4.40" height="8.50" fill="#8f8f8f" />
<rect x="333.65" y="35.00" width="4.40" height="10.30" fill="#9a9a9a" />
<rect x="333.65" y="45.30" width="4.40" height="21.00" fill="#adadad" />
<line x1="333.65" y1="71.40" x2="338.05" y2="71.40" stroke="#a2a2a2" stroke-width="0.8" />
<line x1="333.65" y1="74.80" x2="338.05" y2="74.80" stroke="#a2a2a2" stroke-width="0.8" />
<line x1="333.65" y1="78.21" x2="338.05" y2="78.21" stroke="#a2a2a2" stroke-width="0.8" />
<line x1="333.65" y1="81.64" x2="338.05" y2="81.64" stroke="#a2a2a2" stroke-width="0.8" />
<line x1="333.65" y1="85.08" x2="338.05" y2="85.08" stroke="#a2a2a2" stroke-width="0.8" />
<line x1="333.65" y1="88.55" x2="338.05" y2="88.55" stroke="#a2a2a2" stroke-width="0.8" />
<line x1="333.65" y1="92.04" x2="338.05" y2="92.04" stroke="#a2a2a2" stroke-width="0.8" />
<line x1="333.65" y1="95.57" x2="338.05" y2="95.57" stroke="#a2a2a2" stroke-width="0.8" />
<line x1="333.65" y1="99.15" x2="338.05" y2="99.15" stroke="#a2a2a2" stroke-width="0.8" />
<line x1="333.65" y1="102.78" x2="338.05" y2="102.78" stroke="#a2a2a2" stroke-width="0.8" />
<line x1="333.65" y1="106.46" x2="338.05" y2="106.46" stroke="#a2a2a2" stroke-width="0.8" />
<line x1="333.65" y1="110.21" x2="338.05" y2="110.21" stroke="#a2a2a2" stroke-width="0.8" />
<line x1="333.65" y1="114.04" x2="338.05" y2="114.04" stroke="#a2a2a2" stroke-width="0.8" />
<line x1="333.65" y1="117.95" x2="338.05" y2="117.95" stroke="#a2a2a2" stroke-width="0.8" />
<line x1="333.65" y1="121.96" x2="338.05" y2="121.96" stroke="#a2a2a2" stroke-width="0.8" />
<line x1="333.65" y1="126.09" x2="338.05" y2="126.09" stroke="#a2a2a2" stroke-width="0.8" />
<line x1="333.65" y1="130.34" x2="338.05" y2="130.34" stroke="#a2a2a2" stroke-width="0.8" />
<rect x="333.95" y="17.50" width="3.80" height="117.70" fill="none" stroke="#a3a3a3" stroke-width="0.6"/>
<rect x="338.95" y="17.20" width="4.40" height="118.00" fill="#d9d9d9" />
<line x1="338.95" y1="20.20" x2="343.35" y2="20.20" stroke="#a2a2a2" stroke-width="0.8" />
<line x1="338.95" y1="23.21" x2="343.35" y2="23.21" stroke="#a2a2a2" stroke-width="0.8" />
<line x1="338.95" y1="26.23" x2="343.35" y2="26.23" stroke="#a2a2a2" stroke-width="0.8" />
<line x1="338.95" y1="29.30" x2="343.35" y2="29.30" stroke="#a2a2a2" stroke-width="0.8" />
<line x1="338.95" y1="32.41" x2="343.35" y2="32.41" stroke="#a2a2a2" stroke-width="0.8" />
<line x1="338.95" y1="35.60" x2="343.35" y2="35.60" stroke="#a2a2a2" stroke-width="0.8" />
<line x1="338.95" y1="38.87" x2="343.35" y2="38.87" stroke="#a2a2a2" stroke-width="0.8" />
<line x1="338.95" y1="42.26" x2="343.35" y2="42.26" stroke="#a2a2a2" stroke-width="0.8" />
<line x1="338.95" y1="45.78" x2="343.35" y2="45.78" stroke="#a2a2a2" stroke-width="0.8" />
<line x1="338.95" y1="49.49" x2="343.35" y2="49.49" stroke="#a2a2a2" stroke-width="0.8" />
<line x1="338.95" y1="53.41" x2="343.35" y2="53.41" stroke="#a2a2a2" stroke-width="0.8" />
<line x1="338.95" y1="57.61" x2="343.35" y2="57.61" stroke="#a2a2a2" stroke-width="0.8" />
<line x1="338.95" y1="62.18" x2="343.35" y2="62.18" stroke="#a2a2a2" stroke-width="0.8" />
<line x1="338.95" y1="67.23" x2="343.35" y2="67.23" stroke="#a2a2a2" stroke-width="0.8" />
<line x1="338.95" y1="78.10" x2="343.35" y2="78.10" stroke="#a2a2a2" stroke-width="0.8" />
<line x1="338.95" y1="84.40" x2="343.35" y2="84.40" stroke="#a2a2a2" stroke-width="0.8" />
<line x1="338.95" y1="94.10" x2="343.35" y2="94.10" stroke="#a2a2a2" stroke-width="0.8" />
<line x1="338.95" y1="106.50" x2="343.35" y2="106.50" stroke="#a2a2a2" stroke-width="0.8" />
<line x1="338.95" y1="119.40" x2="343.35" y2="119.40" stroke="#a2a2a2" stroke-width="0.8" />
<rect x="339.25" y="17.50" width="3.80" height="117.70" fill="none" stroke="#a3a3a3" stroke-width="0.6"/>
<rect x="346.60" y="17.20" width="4.40" height="118.00" fill="#d9d9d9" />
<rect x="346.60" y="17.20" width="4.40" height="12.80" fill="#848484" />
<rect x="346.60" y="30.00" width="4.40" height="15.90" fill="#8c8c8c" />
<rect x="346.60" y="45.90" width="4.40" height="19.10" fill="#b0b0b0" />
<line x1="346.60" y1="68.20" x2="351.00" y2="68.20" stroke="#a2a2a2" stroke-width="0.8" />
<line x1="346.60" y1="70.40" x2="351.00" y2="70.40" stroke="#a2a2a2" stroke-width="0.8" />
<line x1="346.60" y1="72.61" x2="351.00" y2="72.61" stroke="#a2a2a2" stroke-width="0.8" />
<line x1="346.60" y1="74.82" x2="351.00" y2="74.82" stroke="#a2a2a2" stroke-width="0.8" />
<line x1="346.60" y1="77.04" x2="351.00" y2="77.04" stroke="#a2a2a2" stroke-width="0.8" />
<line x1="346.60" y1="79.27" x2="351.00" y2="79.27" stroke="#a2a2a2" stroke-width="0.8" />
<line x1="346.60" y1="81.52" x2="351.00" y2="81.52" stroke="#a2a2a2" stroke-width="0.8" />
<line x1="346.60" y1="83.79" x2="351.00" y2="83.79" stroke="#a2a2a2" stroke-width="0.8" />
<line x1="346.60" y1="86.07" x2="351.00" y2="86.07" stroke="#a2a2a2" stroke-width="0.8" />
<line x1="346.60" y1="88.38" x2="351.00" y2="88.38" stroke="#a2a2a2" stroke-width="0.8" />
<line x1="346.60" y1="90.72" x2="351.00" y2="90.72" stroke="#a2a2a2" stroke-width="0.8" />
<line x1="346.60" y1="93.09" x2="351.00" y2="93.09" stroke="#a2a2a2" stroke-width="0.8" />
<line x1="346.60" y1="95.50" x2="351.00" y2="95.50" stroke="#a2a2a2" stroke-width="0.8" />
<line x1="346.60" y1="97.94" x2="351.00" y2="97.94" stroke="#a2a2a2" stroke-width="0.8" />
<line x1="346.60" y1="100.44" x2="351.00" y2="100.44" stroke="#a2a2a2" stroke-width="0.8" />
<line x1="346.60" y1="110.60" x2="351.00" y2="110.60" stroke="#a2a2a2" stroke-width="0.8" />
<line x1="346.60" y1="113.21" x2="351.00" y2="113.21" stroke="#a2a2a2" stroke-width="0.8" />
<line x1="346.60" y1="115.83" x2="351.00" y2="115.83" stroke="#a2a2a2" stroke-width="0.8" />
<line x1="346.60" y1="118.49" x2="351.00" y2="118.49" stroke="#a2a2a2" stroke-width="0.8" />
<line x1="346.60" y1="121.19" x2="351.00" y2="121.19" stroke="#a2a2a2" stroke-width="0.8" />
<line x1="346.60" y1="123.96" x2="351.00" y2="123.96" stroke="#a2a2a2" stroke-width="0.8" />
<line x1="346.60" y1="126.81" x2="351.00" y2="126.81" stroke="#a2a2a2" stroke-width="0.8" />
<rect x="346.60" y="103.90" width="4.40" height="2.70" fill="#5cb82e" />
<rect x="346.60" y="128.00" width="4.40" height="7.20" fill="#e60000" />
<rect x="346.90" y="17.50" width="3.80" height="117.70" fill="none" stroke="#a3a3a3" stroke-width="0.6"/>
<rect x="351.90" y="17.20" width="4.40" height="118.00" fill="#d9d9d9" />
<rect x="351.90" y="17.20" width="4.40" height="46.80" fill="#979797" />
<rect x="351.90" y="64.00" width="4.40" height="25.50" fill="#b4b4b4" />
<line x1="351.90" y1="95.60" x2="356.30" y2="95.60" stroke="#a2a2a2" stroke-width="0.8" />
<line x1="351.90" y1="98.20" x2="356.30" y2="98.20" stroke="#a2a2a2" stroke-width="0.8" />
<line x1="351.90" y1="100.81" x2="356.30" y2="100.81" stroke="#a2a2a2" stroke-width="0.8" />
<line x1="351.90" y1="103.44" x2="356.30" y2="103.44" stroke="#a2a2a2" stroke-width="0.8" />
<line x1="351.90" y1="106.09" x2="356.30" y2="106.09" stroke="#a2a2a2" stroke-width="0.8" />
<line x1="351.90" y1="108.76" x2="356.30" y2="108.76" stroke="#a2a2a2" stroke-width="0.8" />
<line x1="351.90" y1="111.46" x2="356.30" y2="111.46" stroke="#a2a2a2" stroke-width="0.8" />
<line x1="351.90" y1="114.21" x2="356.30" y2="114.21" stroke="#a2a2a2" stroke-width="0.8" />
<line x1="351.90" y1="117.00" x2="356.30" y2="117.00" stroke="#a2a2a2" stroke-width="0.8" />
<line x1="351.90" y1="119.86" x2="356.30" y2="119.86" stroke="#a2a2a2" stroke-width="0.8" />
<line x1="351.90" y1="122.77" x2="356.30" y2="122.77" stroke="#a2a2a2" stroke-width="0.8" />
<line x1="351.90" y1="125.77" x2="356.30" y2="125.77" stroke="#a2a2a2" stroke-width="0.8" />
<rect x="351.90" y="90.30" width="4.40" height="1.60" fill="#5cb82e" />
<rect x="351.90" y="129.80" width="4.40" height="5.40" fill="#e60000" />
<rect x="352.20" y="17.50" width="3.80" height="117.70" fill="none" stroke="#a3a3a3" stroke-width="0.6"/>
<rect x="359.55" y="17.20" width="4.40" height="118.00" fill="#d9d9d9" />
<rect x="359.55" y="17.20" width="4.40" height="45.00" fill="#a0a0a0" />
<line x1="359.55" y1="66.50" x2="363.95" y2="66.50" stroke="#a2a2a2" stroke-width="0.8" />
<line x1="359.55" y1="69.00" x2="363.95" y2="69.00" stroke="#a2a2a2" stroke-width="0.8" />
<line x1="359.55" y1="71.51" x2="363.95" y2="71.51" stroke="#a2a2a2" stroke-width="0.8" />
<line x1="359.55" y1="74.03" x2="363.95" y2="74.03" stroke="#a2a2a2" stroke-width="0.8" />
<line x1="359.55" y1="76.57" x2="363.95" y2="76.57" stroke="#a2a2a2" stroke-width="0.8" />
<line x1="359.55" y1="79.13" x2="363.95" y2="79.13" stroke="#a2a2a2" stroke-width="0.8" />
<line x1="359.55" y1="81.72" x2="363.95" y2="81.72" stroke="#a2a2a2" stroke-width="0.8" />
<line x1="359.55" y1="84.34" x2="363.95" y2="84.34" stroke="#a2a2a2" stroke-width="0.8" />
<line x1="359.55" y1="86.99" x2="363.95" y2="86.99" stroke="#a2a2a2" stroke-width="0.8" />
<line x1="359.55" y1="89.70" x2="363.95" y2="89.70" stroke="#a2a2a2" stroke-width="0.8" />
<line x1="359.55" y1="92.46" x2="363.95" y2="92.46" stroke="#a2a2a2" stroke-width="0.8" />
<line x1="359.55" y1="95.28" x2="363.95" y2="95.28" stroke="#a2a2a2" stroke-width="0.8" />
<line x1="359.55" y1="98.17" x2="363.95" y2="98.17" stroke="#a2a2a2" stroke-width="0.8" />
<line x1="359.55" y1="120.00" x2="363.95" y2="120.00" stroke="#a2a2a2" stroke-width="0.8" />
<line x1="359.55" y1="128.00" x2="363.95" y2="128.00" stroke="#a2a2a2" stroke-width="0.8" />
<rect x="359.55" y="99.10" width="4.40" height="4.80" fill="#5cb82e" />
<rect x="359.55" y="104.50" width="4.40" height="8.20" fill="#e60000" />
<rect x="359.85" y="17.50" width="3.80" height="117.70" fill="none" stroke="#a3a3a3" stroke-width="0.6"/>
<rect x="364.85" y="17.20" width="4.40" height="118.00" fill="#d9d9d9" />
<rect x="364.85" y="17.20" width="4.40" height="50.20" fill="#b0b0b0" />
<line x1="364.85" y1="71.60" x2="369.25" y2="71.60" stroke="#a2a2a2" stroke-width="0.8" />
<line x1="364.85" y1="74.20" x2="369.25" y2="74.20" stroke="#a2a2a2" stroke-width="0.8" />
<line x1="364.85" y1="76.81" x2="369.25" y2="76.81" stroke="#a2a2a2" stroke-width="0.8" />
<line x1="364.85" y1="79.42" x2="369.25" y2="79.42" stroke="#a2a2a2" stroke-width="0.8" />
<line x1="364.85" y1="82.04" x2="369.25" y2="82.04" stroke="#a2a2a2" stroke-width="0.8" />
<line x1="364.85" y1="84.68" x2="369.25" y2="84.68" stroke="#a2a2a2" stroke-width="0.8" />
<line x1="364.85" y1="87.33" x2="369.25" y2="87.33" stroke="#a2a2a2" stroke-width="0.8" />
<line x1="364.85" y1="90.01" x2="369.25" y2="90.01" stroke="#a2a2a2" stroke-width="0.8" />
<line x1="364.85" y1="92.70" x2="369.25" y2="92.70" stroke="#a2a2a2" stroke-width="0.8" />
<line x1="364.85" y1="95.43" x2="369.25" y2="95.43" stroke="#a2a2a2" stroke-width="0.8" />
<line x1="364.85" y1="98.18" x2="369.25" y2="98.18" stroke="#a2a2a2" stroke-width="0.8" />
<line x1="364.85" y1="100.97" x2="369.25" y2="100.97" stroke="#a2a2a2" stroke-width="0.8" />
<line x1="364.85" y1="103.80" x2="369.25" y2="103.80" stroke="#a2a2a2" stroke-width="0.8" />
<line x1="364.85" y1="106.67" x2="369.25" y2="106.67" stroke="#a2a2a2" stroke-width="0.8" />
<line x1="364.85" y1="109.60" x2="369.25" y2="109.60" stroke="#a2a2a2" stroke-width="0.8" />
<line x1="364.85" y1="112.58" x2="369.25" y2="112.58" stroke="#a2a2a2" stroke-width="0.8" />
<line x1="364.85" y1="115.62" x2="369.25" y2="115.62" stroke="#a2a2a2" stroke-width="0.8" />
<line x1="364.85" y1="118.73" x2="369.25" y2="118.73" stroke="#a2a2a2" stroke-width="0.8" />
<line x1="364.85" y1="121.92" x2="369.25" y2="121.92" stroke="#a2a2a2" stroke-width="0.8" />
<line x1="364.85" y1="125.19" x2="369.25" y2="125.19" stroke="#a2a2a2" stroke-width="0.8" />
<rect x="364.85" y="102.10" width="4.40" height="3.60" fill="#5cb82e" />
<rect x="364.85" y="126.20" width="4.40" height="9.00" fill="#e60000" />
<rect x="365.15" y="17.50" width="3.80" height="117.70" fill="none" stroke="#a3a3a3" stroke-width="0.6"/>
<rect x="372.50" y="17.20" width="4.40" height="118.00" fill="#d9d9d9" />
<rect x="372.50" y="17.20" width="4.40" height="24.60" fill="#a0a0a0" />
<line x1="372.50" y1="46.60" x2="376.90" y2="46.60" stroke="#a2a2a2" stroke-width="0.8" />
<line x1="372.50" y1="49.20" x2="376.90" y2="49.20" stroke="#a2a2a2" stroke-width="0.8" />
<line x1="372.50" y1="51.81" x2="376.90" y2="51.81" stroke="#a2a2a2" stroke-width="0.8" />
<line x1="372.50" y1="54.42" x2="376.90" y2="54.42" stroke="#a2a2a2" stroke-width="0.8" />
<line x1="372.50" y1="57.05" x2="376.90" y2="57.05" stroke="#a2a2a2" stroke-width="0.8" />
<line x1="372.50" y1="59.69" x2="376.90" y2="59.69" stroke="#a2a2a2" stroke-width="0.8" />
<line x1="372.50" y1="62.35" x2="376.90" y2="62.35" stroke="#a2a2a2" stroke-width="0.8" />
<line x1="372.50" y1="65.03" x2="376.90" y2="65.03" stroke="#a2a2a2" stroke-width="0.8" />
<line x1="372.50" y1="67.74" x2="376.90" y2="67.74" stroke="#a2a2a2" stroke-width="0.8" />
<line x1="372.50" y1="70.48" x2="376.90" y2="70.48" stroke="#a2a2a2" stroke-width="0.8" />
<line x1="372.50" y1="73.26" x2="376.90" y2="73.26" stroke="#a2a2a2" stroke-width="0.8" />
<line x1="372.50" y1="76.08" x2="376.90" y2="76.08" stroke="#a2a2a2" stroke-width="0.8" />
<line x1="372.50" y1="78.94" x2="376.90" y2="78.94" stroke="#a2a2a2" stroke-width="0.8" />
<line x1="372.50" y1="81.85" x2="376.90" y2="81.85" stroke="#a2a2a2" stroke-width="0.8" />
<line x1="372.50" y1="84.82" x2="376.90" y2="84.82" stroke="#a2a2a2" stroke-width="0.8" />
<line x1="372.50" y1="87.86" x2="376.90" y2="87.86" stroke="#a2a2a2" stroke-width="0.8" />
<line x1="372.50" y1="90.97" x2="376.90" y2="90.97" stroke="#a2a2a2" stroke-width="0.8" />
<line x1="372.50" y1="94.16" x2="376.90" y2="94.16" stroke="#a2a2a2" stroke-width="0.8" />
<line x1="372.50" y1="97.45" x2="376.90" y2="97.45" stroke="#a2a2a2" stroke-width="0.8" />
<line x1="372.50" y1="100.84" x2="376.90" y2="100.84" stroke="#a2a2a2" stroke-width="0.8" />
<line x1="372.50" y1="104.35" x2="376.90" y2="104.35" stroke="#a2a2a2" stroke-width="0.8" />
<line x1="372.50" y1="108.00" x2="376.90" y2="108.00" stroke="#a2a2a2" stroke-width="0.8" />
<rect x="372.50" y="112.10" width="4.40" height="23.10" fill="#e60000" />
<rect x="372.80" y="17.50" width="3.80" height="117.70" fill="none" stroke="#a3a3a3" stroke-width="0.6"/>
<rect x="377.80" y="17.20" width="4.40" height="118.00" fill="#d9d9d9" />
<line x1="377.80" y1="19.70" x2="382.20" y2="19.70" stroke="#a2a2a2" stroke-width="0.8" />
<line x1="377.80" y1="22.20" x2="382.20" y2="22.20" stroke="#a2a2a2" stroke-width="0.8" />
<line x1="377.80" y1="24.70" x2="382.20" y2="24.70" stroke="#a2a2a2" stroke-width="0.8" />
<line x1="377.80" y1="27.21" x2="382.20" y2="27.21" stroke="#a2a2a2" stroke-width="0.8" />
<line x1="377.80" y1="29.72" x2="382.20" y2="29.72" stroke="#a2a2a2" stroke-width="0.8" />
<line x1="377.80" y1="32.24" x2="382.20" y2="32.24" stroke="#a2a2a2" stroke-width="0.8" />
<line x1="377.80" y1="34.77" x2="382.20" y2="34.77" stroke="#a2a2a2" stroke-width="0.8" />
<line x1="377.80" y1="37.31" x2="382.20" y2="37.31" stroke="#a2a2a2" stroke-width="0.8" />
<line x1="377.80" y1="39.86" x2="382.20" y2="39.86" stroke="#a2a2a2" stroke-width="0.8" />
<line x1="377.80" y1="42.42" x2="382.20" y2="42.42" stroke="#a2a2a2" stroke-width="0.8" />
<line x1="377.80" y1="45.00" x2="382.20" y2="45.00" stroke="#a2a2a2" stroke-width="0.8" />
<line x1="377.80" y1="47.60" x2="382.20" y2="47.60" stroke="#a2a2a2" stroke-width="0.8" />
<line x1="377.80" y1="50.22" x2="382.20" y2="50.22" stroke="#a2a2a2" stroke-width="0.8" />
<line x1="377.80" y1="52.86" x2="382.20" y2="52.86" stroke="#a2a2a2" stroke-width="0.8" />
<line x1="377.80" y1="55.52" x2="382.20" y2="55.52" stroke="#a2a2a2" stroke-width="0.8" />
<line x1="377.80" y1="58.20" x2="382.20" y2="58.20" stroke="#a2a2a2" stroke-width="0.8" />
<line x1="377.80" y1="60.92" x2="382.20" y2="60.92" stroke="#a2a2a2" stroke-width="0.8" />
<line x1="377.80" y1="63.67" x2="382.20" y2="63.67" stroke="#a2a2a2" stroke-width="0.8" />
<line x1="377.80" y1="66.45" x2="382.20" y2="66.45" stroke="#a2a2a2" stroke-width="0.8" />
<line x1="377.80" y1="69.27" x2="382.20" y2="69.27" stroke="#a2a2a2" stroke-width="0.8" />
<line x1="377.80" y1="72.12" x2="382.20" y2="72.12" stroke="#a2a2a2" stroke-width="0.8" />
<line x1="377.80" y1="75.03" x2="382.20" y2="75.03" stroke="#a2a2a2" stroke-width="0.8" />
<line x1="377.80" y1="78.40" x2="382.20" y2="78.40" stroke="#a2a2a2" stroke-width="0.8" />
<line x1="377.80" y1="83.40" x2="382.20" y2="83.40" stroke="#a2a2a2" stroke-width="0.8" />
<line x1="377.80" y1="90.10" x2="382.20" y2="90.10" stroke="#a2a2a2" stroke-width="0.8" />
<line x1="377.80" y1="96.70" x2="382.20" y2="96.70" stroke="#a2a2a2" stroke-width="0.8" />
<line x1="377.80" y1="103.30" x2="382.20" y2="103.30" stroke="#a2a2a2" stroke-width="0.8" />
<line x1="377.80" y1="110.50" x2="382.20" y2="110.50" stroke="#a2a2a2" stroke-width="0.8" />
<line x1="377.80" y1="117.20" x2="382.20" y2="117.20" stroke="#a2a2a2" stroke-width="0.8" />
<line x1="377.80" y1="123.80" x2="382.20" y2="123.80" stroke="#a2a2a2" stroke-width="0.8" />
<rect x="377.80" y="56.00" width="4.40" height="4.70" fill="#e60000" />
<rect x="378.10" y="17.50" width="3.80" height="117.70" fill="none" stroke="#a3a3a3" stroke-width="0.6"/>
<rect x="385.45" y="17.20" width="4.40" height="118.00" fill="#d9d9d9" />
<rect x="385.45" y="17.20" width="4.40" height="14.70" fill="#8e8e8e" />
<rect x="385.45" y="31.90" width="4.40" height="16.90" fill="#b6b6b6" />
<line x1="385.45" y1="52.60" x2="389.85" y2="52.60" stroke="#a2a2a2" stroke-width="0.8" />
<line x1="385.45" y1="55.20" x2="389.85" y2="55.20" stroke="#a2a2a2" stroke-width="0.8" />
<line x1="385.45" y1="57.82" x2="389.85" y2="57.82" stroke="#a2a2a2" stroke-width="0.8" />
<line x1="385.45" y1="60.44" x2="389.85" y2="60.44" stroke="#a2a2a2" stroke-width="0.8" />
<line x1="385.45" y1="63.09" x2="389.85" y2="63.09" stroke="#a2a2a2" stroke-width="0.8" />
<line x1="385.45" y1="65.77" x2="389.85" y2="65.77" stroke="#a2a2a2" stroke-width="0.8" />
<line x1="385.45" y1="68.48" x2="389.85" y2="68.48" stroke="#a2a2a2" stroke-width="0.8" />
<line x1="385.45" y1="71.24" x2="389.85" y2="71.24" stroke="#a2a2a2" stroke-width="0.8" />
<line x1="385.45" y1="74.05" x2="389.85" y2="74.05" stroke="#a2a2a2" stroke-width="0.8" />
<line x1="385.45" y1="76.92" x2="389.85" y2="76.92" stroke="#a2a2a2" stroke-width="0.8" />
<line x1="385.45" y1="79.86" x2="389.85" y2="79.86" stroke="#a2a2a2" stroke-width="0.8" />
<line x1="385.45" y1="82.89" x2="389.85" y2="82.89" stroke="#a2a2a2" stroke-width="0.8" />
<line x1="385.45" y1="86.02" x2="389.85" y2="86.02" stroke="#a2a2a2" stroke-width="0.8" />
<line x1="385.45" y1="89.27" x2="389.85" y2="89.27" stroke="#a2a2a2" stroke-width="0.8" />
<line x1="385.45" y1="92.65" x2="389.85" y2="92.65" stroke="#a2a2a2" stroke-width="0.8" />
<line x1="385.45" y1="96.20" x2="389.85" y2="96.20" stroke="#a2a2a2" stroke-width="0.8" />
<line x1="385.45" y1="99.95" x2="389.85" y2="99.95" stroke="#a2a2a2" stroke-width="0.8" />
<line x1="385.45" y1="103.94" x2="389.85" y2="103.94" stroke="#a2a2a2" stroke-width="0.8" />
<rect x="385.45" y="106.60" width="4.40" height="28.60" fill="#e60000" />
<rect x="385.75" y="17.50" width="3.80" height="117.70" fill="none" stroke="#a3a3a3" stroke-width="0.6"/>
<rect x="390.75" y="17.20" width="4.40" height="118.00" fill="#d9d9d9" />
<rect x="390.75" y="17.20" width="4.40" height="38.00" fill="#939393" />
<rect x="390.75" y="55.20" width="4.40" height="30.60" fill="#b8b8b8" />
<line x1="390.75" y1="90.00" x2="395.15" y2="90.00" stroke="#a2a2a2" stroke-width="0.8" />
<line x1="390.75" y1="93.00" x2="395.15" y2="93.00" stroke="#a2a2a2" stroke-width="0.8" />
<line x1="390.75" y1="96.00" x2="395.15" y2="96.00" stroke="#a2a2a2" stroke-width="0.8" />
<line x1="390.75" y1="99.00" x2="395.15" y2="99.00" stroke="#a2a2a2" stroke-width="0.8" />
<line x1="390.75" y1="102.00" x2="395.15" y2="102.00" stroke="#a2a2a2" stroke-width="0.8" />
<line x1="390.75" y1="105.00" x2="395.15" y2="105.00" stroke="#a2a2a2" stroke-width="0.8" />
<line x1="390.75" y1="108.00" x2="395.15" y2="108.00" stroke="#a2a2a2" stroke-width="0.8" />
<line x1="390.75" y1="111.00" x2="395.15" y2="111.00" stroke="#a2a2a2" stroke-width="0.8" />
<line x1="390.75" y1="114.00" x2="395.15" y2="114.00" stroke="#a2a2a2" stroke-width="0.8" />
<line x1="390.75" y1="117.00" x2="395.15" y2="117.00" stroke="#a2a2a2" stroke-width="0.8" />
<line x1="390.75" y1="120.00" x2="395.15" y2="120.00" stroke="#a2a2a2" stroke-width="0.8" />
<line x1="390.75" y1="123.00" x2="395.15" y2="123.00" stroke="#a2a2a2" stroke-width="0.8" />
<rect x="390.75" y="124.40" width="4.40" height="10.80" fill="#e60000" />
<rect x="391.05" y="17.50" width="3.80" height="117.70" fill="none" stroke="#a3a3a3" stroke-width="0.6"/>
<rect x="398.40" y="17.20" width="4.40" height="118.00" fill="#d9d9d9" />
<rect x="398.40" y="17.20" width="4.40" height="29.80" fill="#8a8a8a" />
<rect x="398.40" y="47.00" width="4.40" height="14.60" fill="#b4b4b4" />
<line x1="398.40" y1="65.50" x2="402.80" y2="65.50" stroke="#a2a2a2" stroke-width="0.8" />
<line x1="398.40" y1="68.00" x2="402.80" y2="68.00" stroke="#a2a2a2" stroke-width="0.8" />
<line x1="398.40" y1="70.52" x2="402.80" y2="70.52" stroke="#a2a2a2" stroke-width="0.8" />
<line x1="398.40" y1="73.06" x2="402.80" y2="73.06" stroke="#a2a2a2" stroke-width="0.8" />
<line x1="398.40" y1="75.63" x2="402.80" y2="75.63" stroke="#a2a2a2" stroke-width="0.8" />
<line x1="398.40" y1="78.25" x2="402.80" y2="78.25" stroke="#a2a2a2" stroke-width="0.8" />
<line x1="398.40" y1="80.92" x2="402.80" y2="80.92" stroke="#a2a2a2" stroke-width="0.8" />
<line x1="398.40" y1="83.65" x2="402.80" y2="83.65" stroke="#a2a2a2" stroke-width="0.8" />
<line x1="398.40" y1="86.47" x2="402.80" y2="86.47" stroke="#a2a2a2" stroke-width="0.8" />
<line x1="398.40" y1="119.00" x2="402.80" y2="119.00" stroke="#a2a2a2" stroke-width="0.8" />
<line x1="398.40" y1="128.00" x2="402.80" y2="128.00" stroke="#a2a2a2" stroke-width="0.8" />
<rect x="398.40" y="88.50" width="4.40" height="2.40" fill="#f2e830" />
<rect x="398.40" y="94.30" width="4.40" height="4.60" fill="#5cb82e" />
<rect x="398.40" y="99.30" width="4.40" height="6.80" fill="#e60000" />
<rect x="398.70" y="17.50" width="3.80" height="117.70" fill="none" stroke="#a3a3a3" stroke-width="0.6"/>
<rect x="403.70" y="17.20" width="4.40" height="118.00" fill="#d9d9d9" />
<rect x="403.70" y="17.20" width="4.40" height="42.10" fill="#b6b6b6" />
<line x1="403.70" y1="64.00" x2="408.10" y2="64.00" stroke="#a2a2a2" stroke-width="0.8" />
<line x1="403.70" y1="67.00" x2="408.10" y2="67.00" stroke="#a2a2a2" stroke-width="0.8" />
<line x1="403.70" y1="70.01" x2="408.10" y2="70.01" stroke="#a2a2a2" stroke-width="0.8" />
<line x1="403.70" y1="73.02" x2="408.10" y2="73.02" stroke="#a2a2a2" stroke-width="0.8" />
<line x1="403.70" y1="76.05" x2="408.10" y2="76.05" stroke="#a2a2a2" stroke-width="0.8" />
<line x1="403.70" y1="79.10" x2="408.10" y2="79.10" stroke="#a2a2a2" stroke-width="0.8" />
<line x1="403.70" y1="82.16" x2="408.10" y2="82.16" stroke="#a2a2a2" stroke-width="0.8" />
<line x1="403.70" y1="85.25" x2="408.10" y2="85.25" stroke="#a2a2a2" stroke-width="0.8" />
<line x1="403.70" y1="88.36" x2="408.10" y2="88.36" stroke="#a2a2a2" stroke-width="0.8" />
<line x1="403.70" y1="91.51" x2="408.10" y2="91.51" stroke="#a2a2a2" stroke-width="0.8" />
<line x1="403.70" y1="94.69" x2="408.10" y2="94.69" stroke="#a2a2a2" stroke-width="0.8" />
<line x1="403.70" y1="97.92" x2="408.10" y2="97.92" stroke="#a2a2a2" stroke-width="0.8" />
<line x1="403.70" y1="101.19" x2="408.10" y2="101.19" stroke="#a2a2a2" stroke-width="0.8" />
<line x1="403.70" y1="104.52" x2="408.10" y2="104.52" stroke="#a2a2a2" stroke-width="0.8" />
<line x1="403.70" y1="107.91" x2="408.10" y2="107.91" stroke="#a2a2a2" stroke-width="0.8" />
<line x1="403.70" y1="111.36" x2="408.10" y2="111.36" stroke="#a2a2a2" stroke-width="0.8" />
<line x1="403.70" y1="114.89" x2="408.10" y2="114.89" stroke="#a2a2a2" stroke-width="0.8" />
<line x1="403.70" y1="118.51" x2="408.10" y2="118.51" stroke="#a2a2a2" stroke-width="0.8" />
<line x1="403.70" y1="122.21" x2="408.10" y2="122.21" stroke="#a2a2a2" stroke-width="0.8" />
<line x1="403.70" y1="126.03" x2="408.10" y2="126.03" stroke="#a2a2a2" stroke-width="0.8" />
<rect x="403.70" y="27.60" width="4.40" height="1.40" fill="#f2e830" />
<rect x="403.70" y="31.30" width="4.40" height="1.80" fill="#5cb82e" />
<rect x="403.70" y="128.00" width="4.40" height="7.20" fill="#e60000" />
<rect x="404.00" y="17.50" width="3.80" height="117.70" fill="none" stroke="#a3a3a3" stroke-width="0.6"/>
<rect x="411.35" y="17.20" width="4.40" height="118.00" fill="#d9d9d9" />
<rect x="411.35" y="17.20" width="4.40" height="16.40" fill="#b4b4b4" />
<line x1="411.35" y1="37.50" x2="415.75" y2="37.50" stroke="#a2a2a2" stroke-width="0.8" />
<line x1="411.35" y1="40.00" x2="415.75" y2="40.00" stroke="#a2a2a2" stroke-width="0.8" />
<line x1="411.35" y1="42.51" x2="415.75" y2="42.51" stroke="#a2a2a2" stroke-width="0.8" />
<line x1="411.35" y1="45.02" x2="415.75" y2="45.02" stroke="#a2a2a2" stroke-width="0.8" />
<line x1="411.35" y1="47.55" x2="415.75" y2="47.55" stroke="#a2a2a2" stroke-width="0.8" />
<line x1="411.35" y1="50.09" x2="415.75" y2="50.09" stroke="#a2a2a2" stroke-width="0.8" />
<line x1="411.35" y1="52.66" x2="415.75" y2="52.66" stroke="#a2a2a2" stroke-width="0.8" />
<line x1="411.35" y1="55.24" x2="415.75" y2="55.24" stroke="#a2a2a2" stroke-width="0.8" />
<line x1="411.35" y1="57.85" x2="415.75" y2="57.85" stroke="#a2a2a2" stroke-width="0.8" />
<line x1="411.35" y1="60.50" x2="415.75" y2="60.50" stroke="#a2a2a2" stroke-width="0.8" />
<line x1="411.35" y1="63.18" x2="415.75" y2="63.18" stroke="#a2a2a2" stroke-width="0.8" />
<line x1="411.35" y1="65.90" x2="415.75" y2="65.90" stroke="#a2a2a2" stroke-width="0.8" />
<line x1="411.35" y1="68.67" x2="415.75" y2="68.67" stroke="#a2a2a2" stroke-width="0.8" />
<line x1="411.35" y1="71.49" x2="415.75" y2="71.49" stroke="#a2a2a2" stroke-width="0.8" />
<line x1="411.35" y1="74.38" x2="415.75" y2="74.38" stroke="#a2a2a2" stroke-width="0.8" />
<line x1="411.35" y1="77.33" x2="415.75" y2="77.33" stroke="#a2a2a2" stroke-width="0.8" />
<line x1="411.35" y1="80.36" x2="415.75" y2="80.36" stroke="#a2a2a2" stroke-width="0.8" />
<line x1="411.35" y1="83.48" x2="415.75" y2="83.48" stroke="#a2a2a2" stroke-width="0.8" />
<line x1="411.35" y1="86.69" x2="415.75" y2="86.69" stroke="#a2a2a2" stroke-width="0.8" />
<line x1="411.35" y1="90.02" x2="415.75" y2="90.02" stroke="#a2a2a2" stroke-width="0.8" />
<line x1="411.35" y1="103.00" x2="415.75" y2="103.00" stroke="#a2a2a2" stroke-width="0.8" />
<line x1="411.35" y1="110.00" x2="415.75" y2="110.00" stroke="#a2a2a2" stroke-width="0.8" />
<line x1="411.35" y1="130.00" x2="415.75" y2="130.00" stroke="#a2a2a2" stroke-width="0.8" />
<rect x="411.35" y="91.00" width="4.40" height="7.60" fill="#5cb82e" />
<rect x="411.35" y="117.20" width="4.40" height="8.60" fill="#e60000" />
<rect x="411.65" y="17.50" width="3.80" height="117.70" fill="none" stroke="#a3a3a3" stroke-width="0.6"/>
<rect x="416.65" y="17.20" width="4.40" height="118.00" fill="#d9d9d9" />
<rect x="416.65" y="17.20" width="4.40" height="41.50" fill="#a8a8a8" />
<line x1="416.65" y1="64.00" x2="421.05" y2="64.00" stroke="#a2a2a2" stroke-width="0.8" />
<line x1="416.65" y1="67.00" x2="421.05" y2="67.00" stroke="#a2a2a2" stroke-width="0.8" />
<line x1="416.65" y1="70.01" x2="421.05" y2="70.01" stroke="#a2a2a2" stroke-width="0.8" />
<line x1="416.65" y1="73.02" x2="421.05" y2="73.02" stroke="#a2a2a2" stroke-width="0.8" />
<line x1="416.65" y1="76.04" x2="421.05" y2="76.04" stroke="#a2a2a2" stroke-width="0.8" />
<line x1="416.65" y1="79.07" x2="421.05" y2="79.07" stroke="#a2a2a2" stroke-width="0.8" />
<line x1="416.65" y1="82.12" x2="421.05" y2="82.12" stroke="#a2a2a2" stroke-width="0.8" />
<line x1="416.65" y1="85.19" x2="421.05" y2="85.19" stroke="#a2a2a2" stroke-width="0.8" />
<line x1="416.65" y1="88.27" x2="421.05" y2="88.27" stroke="#a2a2a2" stroke-width="0.8" />
<line x1="416.65" y1="91.38" x2="421.05" y2="91.38" stroke="#a2a2a2" stroke-width="0.8" />
<line x1="416.65" y1="94.52" x2="421.05" y2="94.52" stroke="#a2a2a2" stroke-width="0.8" />
<line x1="416.65" y1="97.69" x2="421.05" y2="97.69" stroke="#a2a2a2" stroke-width="0.8" />
<line x1="416.65" y1="100.89" x2="421.05" y2="100.89" stroke="#a2a2a2" stroke-width="0.8" />
<line x1="416.65" y1="104.13" x2="421.05" y2="104.13" stroke="#a2a2a2" stroke-width="0.8" />
<line x1="416.65" y1="107.41" x2="421.05" y2="107.41" stroke="#a2a2a2" stroke-width="0.8" />
<line x1="416.65" y1="110.74" x2="421.05" y2="110.74" stroke="#a2a2a2" stroke-width="0.8" />
<line x1="416.65" y1="114.13" x2="421.05" y2="114.13" stroke="#a2a2a2" stroke-width="0.8" />
<line x1="416.65" y1="129.50" x2="421.05" y2="129.50" stroke="#a2a2a2" stroke-width="0.8" />
<rect x="416.65" y="83.20" width="4.40" height="3.20" fill="#e60000" />
<rect x="416.65" y="117.40" width="4.40" height="9.20" fill="#5cb82e" />
<rect x="416.95" y="17.50" width="3.80" height="117.70" fill="none" stroke="#a3a3a3" stroke-width="0.6"/>
<rect x="424.30" y="17.20" width="4.40" height="118.00" fill="#d9d9d9" />
<rect x="424.30" y="17.20" width="4.40" height="56.80" fill="#c8c8c8" />
<line x1="424.30" y1="19.50" x2="428.70" y2="19.50" stroke="#a2a2a2" stroke-width="0.8" />
<line x1="424.30" y1="21.80" x2="428.70" y2="21.80" stroke="#a2a2a2" stroke-width="0.8" />
<line x1="424.30" y1="24.11" x2="428.70" y2="24.11" stroke="#a2a2a2" stroke-width="0.8" />
<line x1="424.30" y1="26.41" x2="428.70" y2="26.41" stroke="#a2a2a2" stroke-width="0.8" />
<line x1="424.30" y1="28.73" x2="428.70" y2="28.73" stroke="#a2a2a2" stroke-width="0.8" />
<line x1="424.30" y1="31.06" x2="428.70" y2="31.06" stroke="#a2a2a2" stroke-width="0.8" />
<line x1="424.30" y1="33.39" x2="428.70" y2="33.39" stroke="#a2a2a2" stroke-width="0.8" />
<line x1="424.30" y1="35.74" x2="428.70" y2="35.74" stroke="#a2a2a2" stroke-width="0.8" />
<line x1="424.30" y1="38.11" x2="428.70" y2="38.11" stroke="#a2a2a2" stroke-width="0.8" />
<line x1="424.30" y1="40.49" x2="428.70" y2="40.49" stroke="#a2a2a2" stroke-width="0.8" />
<line x1="424.30" y1="42.90" x2="428.70" y2="42.90" stroke="#a2a2a2" stroke-width="0.8" />
<line x1="424.30" y1="45.33" x2="428.70" y2="45.33" stroke="#a2a2a2" stroke-width="0.8" />
<line x1="424.30" y1="47.78" x2="428.70" y2="47.78" stroke="#a2a2a2" stroke-width="0.8" />
<line x1="424.30" y1="50.27" x2="428.70" y2="50.27" stroke="#a2a2a2" stroke-width="0.8" />
<line x1="424.30" y1="52.78" x2="428.70" y2="52.78" stroke="#a2a2a2" stroke-width="0.8" />
<line x1="424.30" y1="55.33" x2="428.70" y2="55.33" stroke="#a2a2a2" stroke-width="0.8" />
<line x1="424.30" y1="57.93" x2="428.70" y2="57.93" stroke="#a2a2a2" stroke-width="0.8" />
<line x1="424.30" y1="60.56" x2="428.70" y2="60.56" stroke="#a2a2a2" stroke-width="0.8" />
<line x1="424.30" y1="63.25" x2="428.70" y2="63.25" stroke="#a2a2a2" stroke-width="0.8" />
<line x1="424.30" y1="65.99" x2="428.70" y2="65.99" stroke="#a2a2a2" stroke-width="0.8" />
<line x1="424.30" y1="68.79" x2="428.70" y2="68.79" stroke="#a2a2a2" stroke-width="0.8" />
<line x1="424.30" y1="71.65" x2="428.70" y2="71.65" stroke="#a2a2a2" stroke-width="0.8" />
<line x1="424.30" y1="76.20" x2="428.70" y2="76.20" stroke="#a2a2a2" stroke-width="0.8" />
<line x1="424.30" y1="80.40" x2="428.70" y2="80.40" stroke="#a2a2a2" stroke-width="0.8" />
<line x1="424.30" y1="85.20" x2="428.70" y2="85.20" stroke="#a2a2a2" stroke-width="0.8" />
<line x1="424.30" y1="91.00" x2="428.70" y2="91.00" stroke="#a2a2a2" stroke-width="0.8" />
<rect x="424.30" y="98.50" width="4.40" height="14.80" fill="#5cb82e" />
<rect x="424.30" y="113.60" width="4.40" height="21.60" fill="#e60000" />
<rect x="424.60" y="17.50" width="3.80" height="117.70" fill="none" stroke="#a3a3a3" stroke-width="0.6"/>
<rect x="429.60" y="17.20" width="4.40" height="118.00" fill="#d9d9d9" />
<rect x="429.60" y="17.20" width="4.40" height="36.80" fill="#b8b8b8" />
<line x1="429.60" y1="59.50" x2="434.00" y2="59.50" stroke="#a2a2a2" stroke-width="0.8" />
<line x1="429.60" y1="63.00" x2="434.00" y2="63.00" stroke="#a2a2a2" stroke-width="0.8" />
<line x1="429.60" y1="66.50" x2="434.00" y2="66.50" stroke="#a2a2a2" stroke-width="0.8" />
<line x1="429.60" y1="70.00" x2="434.00" y2="70.00" stroke="#a2a2a2" stroke-width="0.8" />
<line x1="429.60" y1="73.50" x2="434.00" y2="73.50" stroke="#a2a2a2" stroke-width="0.8" />
<line x1="429.60" y1="77.00" x2="434.00" y2="77.00" stroke="#a2a2a2" stroke-width="0.8" />
<line x1="429.60" y1="80.50" x2="434.00" y2="80.50" stroke="#a2a2a2" stroke-width="0.8" />
<line x1="429.60" y1="84.00" x2="434.00" y2="84.00" stroke="#a2a2a2" stroke-width="0.8" />
<line x1="429.60" y1="87.50" x2="434.00" y2="87.50" stroke="#a2a2a2" stroke-width="0.8" />
<line x1="429.60" y1="91.00" x2="434.00" y2="91.00" stroke="#a2a2a2" stroke-width="0.8" />
<line x1="429.60" y1="94.50" x2="434.00" y2="94.50" stroke="#a2a2a2" stroke-width="0.8" />
<line x1="429.60" y1="98.00" x2="434.00" y2="98.00" stroke="#a2a2a2" stroke-width="0.8" />
<line x1="429.60" y1="101.50" x2="434.00" y2="101.50" stroke="#a2a2a2" stroke-width="0.8" />
<line x1="429.60" y1="105.00" x2="434.00" y2="105.00" stroke="#a2a2a2" stroke-width="0.8" />
<line x1="429.60" y1="108.50" x2="434.00" y2="108.50" stroke="#a2a2a2" stroke-width="0.8" />
<line x1="429.60" y1="112.00" x2="434.00" y2="112.00" stroke="#a2a2a2" stroke-width="0.8" />
<line x1="429.60" y1="115.50" x2="434.00" y2="115.50" stroke="#a2a2a2" stroke-width="0.8" />
<line x1="429.60" y1="119.00" x2="434.00" y2="119.00" stroke="#a2a2a2" stroke-width="0.8" />
<line x1="429.60" y1="122.50" x2="434.00" y2="122.50" stroke="#a2a2a2" stroke-width="0.8" />
<line x1="429.60" y1="126.00" x2="434.00" y2="126.00" stroke="#a2a2a2" stroke-width="0.8" />
<line x1="429.60" y1="129.50" x2="434.00" y2="129.50" stroke="#a2a2a2" stroke-width="0.8" />
<rect x="429.60" y="63.40" width="4.40" height="2.60" fill="#5cb82e" />
<rect x="429.60" y="110.30" width="4.40" height="7.80" fill="#e60000" />
<rect x="429.90" y="17.50" width="3.80" height="117.70" fill="none" stroke="#a3a3a3" stroke-width="0.6"/>
<rect x="437.25" y="17.20" width="4.40" height="118.00" fill="#d9d9d9" />
<rect x="437.25" y="17.20" width="4.40" height="38.00" fill="#b0b0b0" />
<line x1="437.25" y1="60.50" x2="441.65" y2="60.50" stroke="#a2a2a2" stroke-width="0.8" />
<line x1="437.25" y1="64.00" x2="441.65" y2="64.00" stroke="#a2a2a2" stroke-width="0.8" />
<line x1="437.25" y1="67.51" x2="441.65" y2="67.51" stroke="#a2a2a2" stroke-width="0.8" />
<line x1="437.25" y1="71.02" x2="441.65" y2="71.02" stroke="#a2a2a2" stroke-width="0.8" />
<line x1="437.25" y1="74.53" x2="441.65" y2="74.53" stroke="#a2a2a2" stroke-width="0.8" />
<line x1="437.25" y1="78.06" x2="441.65" y2="78.06" stroke="#a2a2a2" stroke-width="0.8" />
<line x1="437.25" y1="81.61" x2="441.65" y2="81.61" stroke="#a2a2a2" stroke-width="0.8" />
<line x1="437.25" y1="85.16" x2="441.65" y2="85.16" stroke="#a2a2a2" stroke-width="0.8" />
<line x1="437.25" y1="88.74" x2="441.65" y2="88.74" stroke="#a2a2a2" stroke-width="0.8" />
<line x1="437.25" y1="92.33" x2="441.65" y2="92.33" stroke="#a2a2a2" stroke-width="0.8" />
<line x1="437.25" y1="95.95" x2="441.65" y2="95.95" stroke="#a2a2a2" stroke-width="0.8" />
<line x1="437.25" y1="99.60" x2="441.65" y2="99.60" stroke="#a2a2a2" stroke-width="0.8" />
<line x1="437.25" y1="103.27" x2="441.65" y2="103.27" stroke="#a2a2a2" stroke-width="0.8" />
<line x1="437.25" y1="106.98" x2="441.65" y2="106.98" stroke="#a2a2a2" stroke-width="0.8" />
<line x1="437.25" y1="110.72" x2="441.65" y2="110.72" stroke="#a2a2a2" stroke-width="0.8" />
<line x1="437.25" y1="114.50" x2="441.65" y2="114.50" stroke="#a2a2a2" stroke-width="0.8" />
<line x1="437.25" y1="118.32" x2="441.65" y2="118.32" stroke="#a2a2a2" stroke-width="0.8" />
<line x1="437.25" y1="122.19" x2="441.65" y2="122.19" stroke="#a2a2a2" stroke-width="0.8" />
<line x1="437.25" y1="126.11" x2="441.65" y2="126.11" stroke="#a2a2a2" stroke-width="0.8" />
<rect x="437.25" y="127.70" width="4.40" height="7.50" fill="#e60000" />
<rect x="437.55" y="17.50" width="3.80" height="117.70" fill="none" stroke="#a3a3a3" stroke-width="0.6"/>
<rect x="442.55" y="17.20" width="4.40" height="118.00" fill="#d9d9d9" />
<rect x="442.55" y="17.20" width="4.40" height="41.50" fill="#b0b0b0" />
<line x1="442.55" y1="63.50" x2="446.95" y2="63.50" stroke="#a2a2a2" stroke-width="0.8" />
<line x1="442.55" y1="67.00" x2="446.95" y2="67.00" stroke="#a2a2a2" stroke-width="0.8" />
<line x1="442.55" y1="70.51" x2="446.95" y2="70.51" stroke="#a2a2a2" stroke-width="0.8" />
<line x1="442.55" y1="74.02" x2="446.95" y2="74.02" stroke="#a2a2a2" stroke-width="0.8" />
<line x1="442.55" y1="77.54" x2="446.95" y2="77.54" stroke="#a2a2a2" stroke-width="0.8" />
<line x1="442.55" y1="81.07" x2="446.95" y2="81.07" stroke="#a2a2a2" stroke-width="0.8" />
<line x1="442.55" y1="84.62" x2="446.95" y2="84.62" stroke="#a2a2a2" stroke-width="0.8" />
<line x1="442.55" y1="88.19" x2="446.95" y2="88.19" stroke="#a2a2a2" stroke-width="0.8" />
<line x1="442.55" y1="91.78" x2="446.95" y2="91.78" stroke="#a2a2a2" stroke-width="0.8" />
<line x1="442.55" y1="95.39" x2="446.95" y2="95.39" stroke="#a2a2a2" stroke-width="0.8" />
<line x1="442.55" y1="99.03" x2="446.95" y2="99.03" stroke="#a2a2a2" stroke-width="0.8" />
<line x1="442.55" y1="102.70" x2="446.95" y2="102.70" stroke="#a2a2a2" stroke-width="0.8" />
<line x1="442.55" y1="106.41" x2="446.95" y2="106.41" stroke="#a2a2a2" stroke-width="0.8" />
<line x1="442.55" y1="110.16" x2="446.95" y2="110.16" stroke="#a2a2a2" stroke-width="0.8" />
<line x1="442.55" y1="113.94" x2="446.95" y2="113.94" stroke="#a2a2a2" stroke-width="0.8" />
<line x1="442.55" y1="117.78" x2="446.95" y2="117.78" stroke="#a2a2a2" stroke-width="0.8" />
<line x1="442.55" y1="121.67" x2="446.95" y2="121.67" stroke="#a2a2a2" stroke-width="0.8" />
<rect x="442.55" y="125.20" width="4.40" height="10.00" fill="#e60000" />
<rect x="442.85" y="17.50" width="3.80" height="117.70" fill="none" stroke="#a3a3a3" stroke-width="0.6"/>
<rect x="450.20" y="17.20" width="4.40" height="118.00" fill="#d9d9d9" />
<rect x="450.20" y="17.20" width="4.40" height="56.70" fill="#c6c6c6" />
<line x1="450.20" y1="20.40" x2="454.60" y2="20.40" stroke="#a2a2a2" stroke-width="0.8" />
<line x1="450.20" y1="23.60" x2="454.60" y2="23.60" stroke="#a2a2a2" stroke-width="0.8" />
<line x1="450.20" y1="26.80" x2="454.60" y2="26.80" stroke="#a2a2a2" stroke-width="0.8" />
<line x1="450.20" y1="30.00" x2="454.60" y2="30.00" stroke="#a2a2a2" stroke-width="0.8" />
<line x1="450.20" y1="33.21" x2="454.60" y2="33.21" stroke="#a2a2a2" stroke-width="0.8" />
<line x1="450.20" y1="36.41" x2="454.60" y2="36.41" stroke="#a2a2a2" stroke-width="0.8" />
<line x1="450.20" y1="39.62" x2="454.60" y2="39.62" stroke="#a2a2a2" stroke-width="0.8" />
<line x1="450.20" y1="42.84" x2="454.60" y2="42.84" stroke="#a2a2a2" stroke-width="0.8" />
<line x1="450.20" y1="46.05" x2="454.60" y2="46.05" stroke="#a2a2a2" stroke-width="0.8" />
<line x1="450.20" y1="49.27" x2="454.60" y2="49.27" stroke="#a2a2a2" stroke-width="0.8" />
<line x1="450.20" y1="52.50" x2="454.60" y2="52.50" stroke="#a2a2a2" stroke-width="0.8" />
<line x1="450.20" y1="55.73" x2="454.60" y2="55.73" stroke="#a2a2a2" stroke-width="0.8" />
<line x1="450.20" y1="58.97" x2="454.60" y2="58.97" stroke="#a2a2a2" stroke-width="0.8" />
<line x1="450.20" y1="62.21" x2="454.60" y2="62.21" stroke="#a2a2a2" stroke-width="0.8" />
<line x1="450.20" y1="65.46" x2="454.60" y2="65.46" stroke="#a2a2a2" stroke-width="0.8" />
<line x1="450.20" y1="68.72" x2="454.60" y2="68.72" stroke="#a2a2a2" stroke-width="0.8" />
<line x1="450.20" y1="71.99" x2="454.60" y2="71.99" stroke="#a2a2a2" stroke-width="0.8" />
<line x1="450.20" y1="75.27" x2="454.60" y2="75.27" stroke="#a2a2a2" stroke-width="0.8" />
<line x1="450.20" y1="78.55" x2="454.60" y2="78.55" stroke="#a2a2a2" stroke-width="0.8" />
<line x1="450.20" y1="81.85" x2="454.60" y2="81.85" stroke="#a2a2a2" stroke-width="0.8" />
<line x1="450.20" y1="85.16" x2="454.60" y2="85.16" stroke="#a2a2a2" stroke-width="0.8" />
<line x1="450.20" y1="88.48" x2="454.60" y2="88.48" stroke="#a2a2a2" stroke-width="0.8" />
<line x1="450.20" y1="91.81" x2="454.60" y2="91.81" stroke="#a2a2a2" stroke-width="0.8" />
<line x1="450.20" y1="95.15" x2="454.60" y2="95.15" stroke="#a2a2a2" stroke-width="0.8" />
<line x1="450.20" y1="98.51" x2="454.60" y2="98.51" stroke="#a2a2a2" stroke-width="0.8" />
<line x1="450.20" y1="101.88" x2="454.60" y2="101.88" stroke="#a2a2a2" stroke-width="0.8" />
<rect x="450.20" y="73.90" width="4.40" height="7.40" fill="#f2e830" />
<rect x="450.20" y="105.10" width="4.40" height="13.00" fill="#5cb82e" />
<rect x="450.20" y="118.60" width="4.40" height="16.60" fill="#e60000" />
<rect x="450.50" y="17.50" width="3.80" height="117.70" fill="none" stroke="#a3a3a3" stroke-width="0.6"/>
<rect x="455.50" y="17.20" width="4.40" height="118.00" fill="#d9d9d9" />
<rect x="455.50" y="17.20" width="4.40" height="38.60" fill="#a8a8a8" />
<line x1="455.50" y1="61.00" x2="459.90" y2="61.00" stroke="#a2a2a2" stroke-width="0.8" />
<line x1="455.50" y1="64.00" x2="459.90" y2="64.00" stroke="#a2a2a2" stroke-width="0.8" />
<line x1="455.50" y1="67.00" x2="459.90" y2="67.00" stroke="#a2a2a2" stroke-width="0.8" />
<line x1="455.50" y1="70.00" x2="459.90" y2="70.00" stroke="#a2a2a2" stroke-width="0.8" />
<line x1="455.50" y1="73.00" x2="459.90" y2="73.00" stroke="#a2a2a2" stroke-width="0.8" />
<line x1="455.50" y1="76.00" x2="459.90" y2="76.00" stroke="#a2a2a2" stroke-width="0.8" />
<line x1="455.50" y1="79.00" x2="459.90" y2="79.00" stroke="#a2a2a2" stroke-width="0.8" />
<line x1="455.50" y1="82.00" x2="459.90" y2="82.00" stroke="#a2a2a2" stroke-width="0.8" />
<line x1="455.50" y1="85.00" x2="459.90" y2="85.00" stroke="#a2a2a2" stroke-width="0.8" />
<line x1="455.50" y1="88.00" x2="459.90" y2="88.00" stroke="#a2a2a2" stroke-width="0.8" />
<line x1="455.50" y1="91.00" x2="459.90" y2="91.00" stroke="#a2a2a2" stroke-width="0.8" />
<line x1="455.50" y1="94.00" x2="459.90" y2="94.00" stroke="#a2a2a2" stroke-width="0.8" />
<line x1="455.50" y1="97.00" x2="459.90" y2="97.00" stroke="#a2a2a2" stroke-width="0.8" />
<line x1="455.50" y1="100.00" x2="459.90" y2="100.00" stroke="#a2a2a2" stroke-width="0.8" />
<line x1="455.50" y1="103.00" x2="459.90" y2="103.00" stroke="#a2a2a2" stroke-width="0.8" />
<line x1="455.50" y1="106.00" x2="459.90" y2="106.00" stroke="#a2a2a2" stroke-width="0.8" />
<line x1="455.50" y1="109.00" x2="459.90" y2="109.00" stroke="#a2a2a2" stroke-width="0.8" />
<line x1="455.50" y1="112.00" x2="459.90" y2="112.00" stroke="#a2a2a2" stroke-width="0.8" />
<line x1="455.50" y1="115.00" x2="459.90" y2="115.00" stroke="#a2a2a2" stroke-width="0.8" />
<line x1="455.50" y1="118.00" x2="459.90" y2="118.00" stroke="#a2a2a2" stroke-width="0.8" />
<line x1="455.50" y1="121.00" x2="459.90" y2="121.00" stroke="#a2a2a2" stroke-width="0.8" />
<line x1="455.50" y1="124.00" x2="459.90" y2="124.00" stroke="#a2a2a2" stroke-width="0.8" />
<rect x="455.50" y="22.90" width="4.40" height="1.20" fill="#5cb82e" />
<rect x="455.50" y="101.30" width="4.40" height="2.90" fill="#f2e830" />
<rect x="455.50" y="124.40" width="4.40" height="10.80" fill="#e60000" />
<rect x="455.80" y="17.50" width="3.80" height="117.70" fill="none" stroke="#a3a3a3" stroke-width="0.6"/>
<rect x="463.15" y="17.20" width="4.40" height="118.00" fill="#d9d9d9" />
<rect x="463.15" y="17.20" width="4.40" height="17.60" fill="#909090" />
<line x1="463.15" y1="38.50" x2="467.55" y2="38.50" stroke="#a2a2a2" stroke-width="0.8" />
<line x1="463.15" y1="41.00" x2="467.55" y2="41.00" stroke="#a2a2a2" stroke-width="0.8" />
<line x1="463.15" y1="43.51" x2="467.55" y2="43.51" stroke="#a2a2a2" stroke-width="0.8" />
<line x1="463.15" y1="46.03" x2="467.55" y2="46.03" stroke="#a2a2a2" stroke-width="0.8" />
<line x1="463.15" y1="48.56" x2="467.55" y2="48.56" stroke="#a2a2a2" stroke-width="0.8" />
<line x1="463.15" y1="51.11" x2="467.55" y2="51.11" stroke="#a2a2a2" stroke-width="0.8" />
<line x1="463.15" y1="53.68" x2="467.55" y2="53.68" stroke="#a2a2a2" stroke-width="0.8" />
<line x1="463.15" y1="56.29" x2="467.55" y2="56.29" stroke="#a2a2a2" stroke-width="0.8" />
<line x1="463.15" y1="58.92" x2="467.55" y2="58.92" stroke="#a2a2a2" stroke-width="0.8" />
<line x1="463.15" y1="61.59" x2="467.55" y2="61.59" stroke="#a2a2a2" stroke-width="0.8" />
<line x1="463.15" y1="64.31" x2="467.55" y2="64.31" stroke="#a2a2a2" stroke-width="0.8" />
<line x1="463.15" y1="67.08" x2="467.55" y2="67.08" stroke="#a2a2a2" stroke-width="0.8" />
<line x1="463.15" y1="69.90" x2="467.55" y2="69.90" stroke="#a2a2a2" stroke-width="0.8" />
<line x1="463.15" y1="72.79" x2="467.55" y2="72.79" stroke="#a2a2a2" stroke-width="0.8" />
<rect x="463.15" y="73.90" width="4.40" height="10.10" fill="#f2e830" />
<rect x="463.15" y="84.00" width="4.40" height="17.70" fill="#5cb82e" />
<rect x="463.15" y="102.10" width="4.40" height="33.10" fill="#e60000" />
<rect x="463.45" y="17.50" width="3.80" height="117.70" fill="none" stroke="#a3a3a3" stroke-width="0.6"/>
<rect x="468.45" y="17.20" width="4.40" height="118.00" fill="#d9d9d9" />
<rect x="468.45" y="17.20" width="4.40" height="24.80" fill="#a4a4a4" />
<line x1="468.45" y1="46.50" x2="472.85" y2="46.50" stroke="#a2a2a2" stroke-width="0.8" />
<line x1="468.45" y1="49.00" x2="472.85" y2="49.00" stroke="#a2a2a2" stroke-width="0.8" />
<line x1="468.45" y1="51.50" x2="472.85" y2="51.50" stroke="#a2a2a2" stroke-width="0.8" />
<line x1="468.45" y1="54.01" x2="472.85" y2="54.01" stroke="#a2a2a2" stroke-width="0.8" />
<line x1="468.45" y1="56.53" x2="472.85" y2="56.53" stroke="#a2a2a2" stroke-width="0.8" />
<line x1="468.45" y1="59.05" x2="472.85" y2="59.05" stroke="#a2a2a2" stroke-width="0.8" />
<line x1="468.45" y1="61.58" x2="472.85" y2="61.58" stroke="#a2a2a2" stroke-width="0.8" />
<line x1="468.45" y1="64.13" x2="472.85" y2="64.13" stroke="#a2a2a2" stroke-width="0.8" />
<line x1="468.45" y1="66.68" x2="472.85" y2="66.68" stroke="#a2a2a2" stroke-width="0.8" />
<line x1="468.45" y1="69.26" x2="472.85" y2="69.26" stroke="#a2a2a2" stroke-width="0.8" />
<line x1="468.45" y1="71.85" x2="472.85" y2="71.85" stroke="#a2a2a2" stroke-width="0.8" />
<line x1="468.45" y1="74.46" x2="472.85" y2="74.46" stroke="#a2a2a2" stroke-width="0.8" />
<line x1="468.45" y1="77.10" x2="472.85" y2="77.10" stroke="#a2a2a2" stroke-width="0.8" />
<line x1="468.45" y1="79.76" x2="472.85" y2="79.76" stroke="#a2a2a2" stroke-width="0.8" />
<line x1="468.45" y1="82.45" x2="472.85" y2="82.45" stroke="#a2a2a2" stroke-width="0.8" />
<line x1="468.45" y1="85.16" x2="472.85" y2="85.16" stroke="#a2a2a2" stroke-width="0.8" />
<line x1="468.45" y1="87.92" x2="472.85" y2="87.92" stroke="#a2a2a2" stroke-width="0.8" />
<line x1="468.45" y1="90.71" x2="472.85" y2="90.71" stroke="#a2a2a2" stroke-width="0.8" />
<line x1="468.45" y1="93.54" x2="472.85" y2="93.54" stroke="#a2a2a2" stroke-width="0.8" />
<line x1="468.45" y1="96.41" x2="472.85" y2="96.41" stroke="#a2a2a2" stroke-width="0.8" />
<line x1="468.45" y1="99.33" x2="472.85" y2="99.33" stroke="#a2a2a2" stroke-width="0.8" />
<line x1="468.45" y1="102.31" x2="472.85" y2="102.31" stroke="#a2a2a2" stroke-width="0.8" />
<line x1="468.45" y1="105.34" x2="472.85" y2="105.34" stroke="#a2a2a2" stroke-width="0.8" />
<line x1="468.45" y1="108.43" x2="472.85" y2="108.43" stroke="#a2a2a2" stroke-width="0.8" />
<line x1="468.45" y1="111.60" x2="472.85" y2="111.60" stroke="#a2a2a2" stroke-width="0.8" />
<line x1="468.45" y1="114.84" x2="472.85" y2="114.84" stroke="#a2a2a2" stroke-width="0.8" />
<line x1="468.45" y1="118.16" x2="472.85" y2="118.16" stroke="#a2a2a2" stroke-width="0.8" />
<rect x="468.45" y="73.50" width="4.40" height="2.90" fill="#5cb82e" />
<rect x="468.45" y="103.00" width="4.40" height="4.30" fill="#f2e830" />
<rect x="468.45" y="121.10" width="4.40" height="14.10" fill="#e60000" />
<rect x="468.75" y="17.50" width="3.80" height="117.70" fill="none" stroke="#a3a3a3" stroke-width="0.6"/>
<rect x="476.10" y="17.20" width="4.40" height="118.00" fill="#d9d9d9" />
<rect x="476.10" y="17.20" width="4.40" height="31.60" fill="#7a7a7a" />
<rect x="476.10" y="48.80" width="4.40" height="18.60" fill="#b0b0b0" />
<rect x="476.10" y="67.40" width="4.40" height="30.50" fill="#c0c0c0" />
<line x1="476.10" y1="102.00" x2="480.50" y2="102.00" stroke="#a2a2a2" stroke-width="0.8" />
<line x1="476.10" y1="105.00" x2="480.50" y2="105.00" stroke="#a2a2a2" stroke-width="0.8" />
<line x1="476.10" y1="108.00" x2="480.50" y2="108.00" stroke="#a2a2a2" stroke-width="0.8" />
<line x1="476.10" y1="111.00" x2="480.50" y2="111.00" stroke="#a2a2a2" stroke-width="0.8" />
<line x1="476.10" y1="114.00" x2="480.50" y2="114.00" stroke="#a2a2a2" stroke-width="0.8" />
<line x1="476.10" y1="117.00" x2="480.50" y2="117.00" stroke="#a2a2a2" stroke-width="0.8" />
<line x1="476.10" y1="120.00" x2="480.50" y2="120.00" stroke="#a2a2a2" stroke-width="0.8" />
<line x1="476.10" y1="123.00" x2="480.50" y2="123.00" stroke="#a2a2a2" stroke-width="0.8" />
<rect x="476.40" y="17.50" width="3.80" height="117.70" fill="none" stroke="#a3a3a3" stroke-width="0.6"/>
<rect x="481.40" y="17.20" width="4.40" height="118.00" fill="#d9d9d9" />
<rect x="481.40" y="17.20" width="4.40" height="54.80" fill="#b5b5b5" />
<line x1="481.40" y1="78.00" x2="485.80" y2="78.00" stroke="#a2a2a2" stroke-width="0.8" />
<line x1="481.40" y1="82.00" x2="485.80" y2="82.00" stroke="#a2a2a2" stroke-width="0.8" />
<line x1="481.40" y1="86.00" x2="485.80" y2="86.00" stroke="#a2a2a2" stroke-width="0.8" />
<line x1="481.40" y1="90.00" x2="485.80" y2="90.00" stroke="#a2a2a2" stroke-width="0.8" />
<line x1="481.40" y1="94.00" x2="485.80" y2="94.00" stroke="#a2a2a2" stroke-width="0.8" />
<line x1="481.40" y1="98.00" x2="485.80" y2="98.00" stroke="#a2a2a2" stroke-width="0.8" />
<line x1="481.40" y1="102.00" x2="485.80" y2="102.00" stroke="#a2a2a2" stroke-width="0.8" />
<line x1="481.40" y1="106.00" x2="485.80" y2="106.00" stroke="#a2a2a2" stroke-width="0.8" />
<line x1="481.40" y1="110.00" x2="485.80" y2="110.00" stroke="#a2a2a2" stroke-width="0.8" />
<line x1="481.40" y1="114.00" x2="485.80" y2="114.00" stroke="#a2a2a2" stroke-width="0.8" />
<line x1="481.40" y1="118.00" x2="485.80" y2="118.00" stroke="#a2a2a2" stroke-width="0.8" />
<rect x="481.70" y="17.50" width="3.80" height="117.70" fill="none" stroke="#a3a3a3" stroke-width="0.6"/>
<rect x="489.05" y="17.20" width="4.40" height="118.00" fill="#d9d9d9" />
<rect x="489.05" y="17.20" width="4.40" height="29.30" fill="#c0c0c0" />
<line x1="489.05" y1="51.00" x2="493.45" y2="51.00" stroke="#a2a2a2" stroke-width="0.8" />
<line x1="489.05" y1="54.00" x2="493.45" y2="54.00" stroke="#a2a2a2" stroke-width="0.8" />
<line x1="489.05" y1="57.01" x2="493.45" y2="57.01" stroke="#a2a2a2" stroke-width="0.8" />
<line x1="489.05" y1="60.03" x2="493.45" y2="60.03" stroke="#a2a2a2" stroke-width="0.8" />
<line x1="489.05" y1="63.06" x2="493.45" y2="63.06" stroke="#a2a2a2" stroke-width="0.8" />
<line x1="489.05" y1="66.11" x2="493.45" y2="66.11" stroke="#a2a2a2" stroke-width="0.8" />
<line x1="489.05" y1="69.18" x2="493.45" y2="69.18" stroke="#a2a2a2" stroke-width="0.8" />
<line x1="489.05" y1="72.28" x2="493.45" y2="72.28" stroke="#a2a2a2" stroke-width="0.8" />
<line x1="489.05" y1="75.41" x2="493.45" y2="75.41" stroke="#a2a2a2" stroke-width="0.8" />
<line x1="489.05" y1="78.58" x2="493.45" y2="78.58" stroke="#a2a2a2" stroke-width="0.8" />
<line x1="489.05" y1="81.79" x2="493.45" y2="81.79" stroke="#a2a2a2" stroke-width="0.8" />
<line x1="489.05" y1="85.05" x2="493.45" y2="85.05" stroke="#a2a2a2" stroke-width="0.8" />
<line x1="489.05" y1="88.36" x2="493.45" y2="88.36" stroke="#a2a2a2" stroke-width="0.8" />
<line x1="489.05" y1="91.74" x2="493.45" y2="91.74" stroke="#a2a2a2" stroke-width="0.8" />
<line x1="489.05" y1="95.18" x2="493.45" y2="95.18" stroke="#a2a2a2" stroke-width="0.8" />
<line x1="489.05" y1="98.71" x2="493.45" y2="98.71" stroke="#a2a2a2" stroke-width="0.8" />
<line x1="489.05" y1="102.32" x2="493.45" y2="102.32" stroke="#a2a2a2" stroke-width="0.8" />
<line x1="489.05" y1="106.04" x2="493.45" y2="106.04" stroke="#a2a2a2" stroke-width="0.8" />
<line x1="489.05" y1="109.87" x2="493.45" y2="109.87" stroke="#a2a2a2" stroke-width="0.8" />
<rect x="489.05" y="111.10" width="4.40" height="24.10" fill="#e60000" />
<rect x="489.35" y="17.50" width="3.80" height="117.70" fill="none" stroke="#a3a3a3" stroke-width="0.6"/>
<rect x="494.35" y="17.20" width="4.40" height="118.00" fill="#d9d9d9" />
<rect x="494.35" y="17.20" width="4.40" height="50.20" fill="#ababab" />
<rect x="494.35" y="67.40" width="4.40" height="26.60" fill="#c0c0c0" />
<line x1="494.35" y1="99.50" x2="498.75" y2="99.50" stroke="#a2a2a2" stroke-width="0.8" />
<line x1="494.35" y1="103.00" x2="498.75" y2="103.00" stroke="#a2a2a2" stroke-width="0.8" />
<line x1="494.35" y1="106.50" x2="498.75" y2="106.50" stroke="#a2a2a2" stroke-width="0.8" />
<line x1="494.35" y1="110.00" x2="498.75" y2="110.00" stroke="#a2a2a2" stroke-width="0.8" />
<line x1="494.35" y1="113.50" x2="498.75" y2="113.50" stroke="#a2a2a2" stroke-width="0.8" />
<line x1="494.35" y1="117.00" x2="498.75" y2="117.00" stroke="#a2a2a2" stroke-width="0.8" />
<line x1="494.35" y1="120.50" x2="498.75" y2="120.50" stroke="#a2a2a2" stroke-width="0.8" />
<line x1="494.35" y1="124.00" x2="498.75" y2="124.00" stroke="#a2a2a2" stroke-width="0.8" />
<rect x="494.35" y="126.00" width="4.40" height="9.20" fill="#e60000" />
<rect x="494.65" y="17.50" width="3.80" height="117.70" fill="none" stroke="#a3a3a3" stroke-width="0.6"/>
<rect x="502.00" y="17.20" width="4.40" height="118.00" fill="#d9d9d9" />
<rect x="502.00" y="17.20" width="4.40" height="35.10" fill="#c0c0c0" />
<line x1="502.00" y1="57.00" x2="506.40" y2="57.00" stroke="#a2a2a2" stroke-width="0.8" />
<line x1="502.00" y1="60.00" x2="506.40" y2="60.00" stroke="#a2a2a2" stroke-width="0.8" />
<line x1="502.00" y1="63.01" x2="506.40" y2="63.01" stroke="#a2a2a2" stroke-width="0.8" />
<line x1="502.00" y1="66.04" x2="506.40" y2="66.04" stroke="#a2a2a2" stroke-width="0.8" />
<line x1="502.00" y1="69.09" x2="506.40" y2="69.09" stroke="#a2a2a2" stroke-width="0.8" />
<line x1="502.00" y1="72.17" x2="506.40" y2="72.17" stroke="#a2a2a2" stroke-width="0.8" />
<line x1="502.00" y1="75.28" x2="506.40" y2="75.28" stroke="#a2a2a2" stroke-width="0.8" />
<line x1="502.00" y1="78.43" x2="506.40" y2="78.43" stroke="#a2a2a2" stroke-width="0.8" />
<line x1="502.00" y1="81.64" x2="506.40" y2="81.64" stroke="#a2a2a2" stroke-width="0.8" />
<line x1="502.00" y1="84.90" x2="506.40" y2="84.90" stroke="#a2a2a2" stroke-width="0.8" />
<line x1="502.00" y1="88.24" x2="506.40" y2="88.24" stroke="#a2a2a2" stroke-width="0.8" />
<line x1="502.00" y1="91.65" x2="506.40" y2="91.65" stroke="#a2a2a2" stroke-width="0.8" />
<line x1="502.00" y1="95.16" x2="506.40" y2="95.16" stroke="#a2a2a2" stroke-width="0.8" />
<line x1="502.00" y1="98.78" x2="506.40" y2="98.78" stroke="#a2a2a2" stroke-width="0.8" />
<line x1="502.00" y1="102.52" x2="506.40" y2="102.52" stroke="#a2a2a2" stroke-width="0.8" />
<rect x="502.00" y="105.10" width="4.40" height="13.90" fill="#e60000" />
<rect x="502.30" y="17.50" width="3.80" height="117.70" fill="none" stroke="#a3a3a3" stroke-width="0.6"/>
<rect x="507.30" y="17.20" width="4.40" height="118.00" fill="#d9d9d9" />
<rect x="507.30" y="17.20" width="4.40" height="17.60" fill="#404040" />
<rect x="507.30" y="34.80" width="4.40" height="11.10" fill="#8a8a8a" />
<rect x="507.30" y="45.90" width="4.40" height="7.00" fill="#a0a0a0" />
<rect x="507.30" y="52.90" width="4.40" height="5.80" fill="#c0c0c0" />
<line x1="507.30" y1="90.40" x2="511.70" y2="90.40" stroke="#a2a2a2" stroke-width="0.8" />
<rect x="507.30" y="59.00" width="4.40" height="2.60" fill="#e60000" />
<rect x="507.60" y="17.50" width="3.80" height="117.70" fill="none" stroke="#a3a3a3" stroke-width="0.6"/>
<path d="M265.8 135.5h1.6M265.8 133.5h1.6M265.8 131.5h1.6M265.8 129.5h1.6M265.8 127.5h1.6M265.8 125.5h1.6M265.8 123.5h1.6M265.8 121.5h1.6M265.8 119.5h1.6M265.8 117.5h1.6M265.8 115.5h1.6M265.8 113.5h1.6M265.8 111.5h1.6M265.8 109.5h1.6M265.8 107.5h1.6M265.8 105.5h1.6M265.8 103.5h1.6M265.8 101.5h1.6M265.8 99.5h1.6M265.8 97.5h1.6M265.8 95.5h1.6M265.8 93.5h1.6M265.8 91.5h1.6M265.8 89.5h1.6M265.8 87.5h1.6M265.8 85.5h1.6M265.8 83.5h1.6M265.8 81.5h1.6M265.8 79.5h1.6M265.8 77.5h1.6M265.8 75.5h1.6M265.8 73.5h1.6M265.8 71.5h1.6M265.8 69.5h1.6M265.8 67.5h1.6M265.8 65.5h1.6M265.8 63.5h1.6M265.8 61.5h1.6M265.8 59.5h1.6M265.8 57.5h1.6M265.8 55.5h1.6M265.8 53.5h1.6M265.8 51.5h1.6M265.8 49.5h1.6M265.8 47.5h1.6M265.8 45.5h1.6M265.8 43.5h1.6M265.8 41.5h1.6M265.8 39.5h1.6M265.8 37.5h1.6M265.8 35.5h1.6M265.8 33.5h1.6M265.8 31.5h1.6M265.8 29.5h1.6M265.8 27.5h1.6M265.8 25.5h1.6M265.8 23.5h1.6M265.8 21.5h1.6M265.8 19.5h1.6" stroke="#000" stroke-width="1" fill="none"/>
<line x1="267.80" y1="14.60" x2="267.80" y2="135.80" stroke="#000" stroke-width="1.2" />
<line x1="264.60" y1="135.20" x2="267.80" y2="135.20" stroke="#000" stroke-width="0.8" />
<text x="262.00" y="136.70" font-size="5.5" text-anchor="end" font-weight="normal" fill="#222" >0</text>
<line x1="264.60" y1="111.60" x2="267.80" y2="111.60" stroke="#000" stroke-width="0.8" />
<text x="262.00" y="113.10" font-size="5.5" text-anchor="end" font-weight="normal" fill="#222" >20</text>
<line x1="264.60" y1="88.00" x2="267.80" y2="88.00" stroke="#000" stroke-width="0.8" />
<text x="262.00" y="89.50" font-size="5.5" text-anchor="end" font-weight="normal" fill="#222" >40</text>
<line x1="264.60" y1="64.40" x2="267.80" y2="64.40" stroke="#000" stroke-width="0.8" />
<text x="262.00" y="65.90" font-size="5.5" text-anchor="end" font-weight="normal" fill="#222" >60</text>
<line x1="264.60" y1="40.80" x2="267.80" y2="40.80" stroke="#000" stroke-width="0.8" />
<text x="262.00" y="42.30" font-size="5.5" text-anchor="end" font-weight="normal" fill="#222" >80</text>
<line x1="264.60" y1="17.20" x2="267.80" y2="17.20" stroke="#000" stroke-width="0.8" />
<text x="262.00" y="18.70" font-size="5.5" text-anchor="end" font-weight="normal" fill="#222" >100</text>
<line x1="267.00" y1="135.20" x2="513.00" y2="135.20" stroke="#000" stroke-width="1.2" />
<text x="247.30" y="75.00" font-size="7" text-anchor="middle" font-weight="normal" fill="#111" transform="rotate(-90 247.30 75.00)" textLength="69" lengthAdjust="spacingAndGlyphs" >TCRβ relative frequency %</text>
<text x="273.45" y="9.90" font-size="4.0" text-anchor="middle" font-weight="normal" fill="#333" textLength="8.0" lengthAdjust="spacingAndGlyphs" >MF8</text>
<line x1="269.90" y1="11.70" x2="278.70" y2="11.70" stroke="#555" stroke-width="0.8" />
<text x="271.00" y="15.90" font-size="3.4" text-anchor="middle" font-weight="normal" fill="#333" >P</text>
<text x="276.20" y="15.90" font-size="3.4" text-anchor="middle" font-weight="normal" fill="#333" >PB</text>
<text x="286.40" y="9.90" font-size="4.0" text-anchor="middle" font-weight="normal" fill="#333" textLength="8.0" lengthAdjust="spacingAndGlyphs" >MF9</text>
<line x1="282.85" y1="11.70" x2="291.65" y2="11.70" stroke="#555" stroke-width="0.8" />
<text x="283.95" y="15.90" font-size="3.4" text-anchor="middle" font-weight="normal" fill="#333" >P</text>
<text x="289.15" y="15.90" font-size="3.4" text-anchor="middle" font-weight="normal" fill="#333" >PB</text>
<text x="299.35" y="9.90" font-size="4.0" text-anchor="middle" font-weight="normal" fill="#333" textLength="9.8" lengthAdjust="spacingAndGlyphs" >MF10</text>
<line x1="295.80" y1="11.70" x2="304.60" y2="11.70" stroke="#555" stroke-width="0.8" />
<text x="296.90" y="15.90" font-size="3.4" text-anchor="middle" font-weight="normal" fill="#333" >P</text>
<text x="302.10" y="15.90" font-size="3.4" text-anchor="middle" font-weight="normal" fill="#333" >PB</text>
<text x="312.30" y="9.90" font-size="4.0" text-anchor="middle" font-weight="normal" fill="#333" textLength="9.8" lengthAdjust="spacingAndGlyphs" >MF12</text>
<line x1="308.75" y1="11.70" x2="317.55" y2="11.70" stroke="#555" stroke-width="0.8" />
<text x="309.85" y="15.90" font-size="3.4" text-anchor="middle" font-weight="normal" fill="#333" >P</text>
<text x="315.05" y="15.90" font-size="3.4" text-anchor="middle" font-weight="normal" fill="#333" >PB</text>
<text x="325.25" y="9.90" font-size="4.0" text-anchor="middle" font-weight="normal" fill="#333" textLength="9.8" lengthAdjust="spacingAndGlyphs" >MF15</text>
<line x1="321.70" y1="11.70" x2="330.50" y2="11.70" stroke="#555" stroke-width="0.8" />
<text x="322.80" y="15.90" font-size="3.4" text-anchor="middle" font-weight="normal" fill="#333" >P</text>
<text x="328.00" y="15.90" font-size="3.4" text-anchor="middle" font-weight="normal" fill="#333" >PB</text>
<text x="338.20" y="9.90" font-size="4.0" text-anchor="middle" font-weight="normal" fill="#333" textLength="9.8" lengthAdjust="spacingAndGlyphs" >MF16</text>
<line x1="334.65" y1="11.70" x2="343.45" y2="11.70" stroke="#555" stroke-width="0.8" />
<text x="335.75" y="15.90" font-size="3.4" text-anchor="middle" font-weight="normal" fill="#333" >P</text>
<text x="340.95" y="15.90" font-size="3.4" text-anchor="middle" font-weight="normal" fill="#333" >PB</text>
<text x="351.15" y="9.90" font-size="4.0" text-anchor="middle" font-weight="normal" fill="#333" textLength="12.4" lengthAdjust="spacingAndGlyphs" >MF23.1</text>
<line x1="347.60" y1="11.70" x2="356.40" y2="11.70" stroke="#555" stroke-width="0.8" />
<text x="348.70" y="15.90" font-size="3.4" text-anchor="middle" font-weight="normal" fill="#333" >P</text>
<text x="353.90" y="15.90" font-size="3.4" text-anchor="middle" font-weight="normal" fill="#333" >PB</text>
<text x="364.10" y="9.90" font-size="4.0" text-anchor="middle" font-weight="normal" fill="#333" textLength="9.8" lengthAdjust="spacingAndGlyphs" >MF25</text>
<line x1="360.55" y1="11.70" x2="369.35" y2="11.70" stroke="#555" stroke-width="0.8" />
<text x="361.65" y="15.90" font-size="3.4" text-anchor="middle" font-weight="normal" fill="#333" >P</text>
<text x="366.85" y="15.90" font-size="3.4" text-anchor="middle" font-weight="normal" fill="#333" >PB</text>
<text x="377.05" y="9.90" font-size="4.0" text-anchor="middle" font-weight="normal" fill="#333" textLength="9.8" lengthAdjust="spacingAndGlyphs" >MF26</text>
<line x1="373.50" y1="11.70" x2="382.30" y2="11.70" stroke="#555" stroke-width="0.8" />
<text x="374.60" y="15.90" font-size="3.4" text-anchor="middle" font-weight="normal" fill="#333" >P</text>
<text x="379.80" y="15.90" font-size="3.4" text-anchor="middle" font-weight="normal" fill="#333" >PB</text>
<text x="390.00" y="9.90" font-size="4.0" text-anchor="middle" font-weight="normal" fill="#333" textLength="9.8" lengthAdjust="spacingAndGlyphs" >MF27</text>
<line x1="386.45" y1="11.70" x2="395.25" y2="11.70" stroke="#555" stroke-width="0.8" />
<text x="387.55" y="15.90" font-size="3.4" text-anchor="middle" font-weight="normal" fill="#333" >P</text>
<text x="392.75" y="15.90" font-size="3.4" text-anchor="middle" font-weight="normal" fill="#333" >PB</text>
<text x="402.95" y="9.90" font-size="4.0" text-anchor="middle" font-weight="normal" fill="#333" textLength="9.8" lengthAdjust="spacingAndGlyphs" >MF30</text>
<line x1="399.40" y1="11.70" x2="408.20" y2="11.70" stroke="#555" stroke-width="0.8" />
<text x="400.50" y="15.90" font-size="3.4" text-anchor="middle" font-weight="normal" fill="#333" >P</text>
<text x="405.70" y="15.90" font-size="3.4" text-anchor="middle" font-weight="normal" fill="#333" >PB</text>
<text x="415.90" y="9.90" font-size="4.0" text-anchor="middle" font-weight="normal" fill="#333" textLength="9.8" lengthAdjust="spacingAndGlyphs" >MF31</text>
<line x1="412.35" y1="11.70" x2="421.15" y2="11.70" stroke="#555" stroke-width="0.8" />
<text x="413.45" y="15.90" font-size="3.4" text-anchor="middle" font-weight="normal" fill="#333" >T</text>
<text x="418.65" y="15.90" font-size="3.4" text-anchor="middle" font-weight="normal" fill="#333" >PB</text>
<text x="428.85" y="9.90" font-size="4.0" text-anchor="middle" font-weight="normal" fill="#333" textLength="9.8" lengthAdjust="spacingAndGlyphs" >MF35</text>
<line x1="425.30" y1="11.70" x2="434.10" y2="11.70" stroke="#555" stroke-width="0.8" />
<text x="426.40" y="15.90" font-size="3.4" text-anchor="middle" font-weight="normal" fill="#333" >P</text>
<text x="431.60" y="15.90" font-size="3.4" text-anchor="middle" font-weight="normal" fill="#333" >PB</text>
<text x="441.80" y="9.90" font-size="4.0" text-anchor="middle" font-weight="normal" fill="#333" textLength="9.8" lengthAdjust="spacingAndGlyphs" >MF36</text>
<line x1="438.25" y1="11.70" x2="447.05" y2="11.70" stroke="#555" stroke-width="0.8" />
<text x="439.35" y="15.90" font-size="3.4" text-anchor="middle" font-weight="normal" fill="#333" >P</text>
<text x="444.55" y="15.90" font-size="3.4" text-anchor="middle" font-weight="normal" fill="#333" >PB</text>
<text x="454.75" y="9.90" font-size="4.0" text-anchor="middle" font-weight="normal" fill="#333" textLength="9.8" lengthAdjust="spacingAndGlyphs" >MF37</text>
<line x1="451.20" y1="11.70" x2="460.00" y2="11.70" stroke="#555" stroke-width="0.8" />
<text x="452.30" y="15.90" font-size="3.4" text-anchor="middle" font-weight="normal" fill="#333" >T</text>
<text x="457.50" y="15.90" font-size="3.4" text-anchor="middle" font-weight="normal" fill="#333" >PB</text>
<text x="467.70" y="9.90" font-size="4.0" text-anchor="middle" font-weight="normal" fill="#333" textLength="12.4" lengthAdjust="spacingAndGlyphs" >MF39.1</text>
<line x1="464.15" y1="11.70" x2="472.95" y2="11.70" stroke="#555" stroke-width="0.8" />
<text x="465.25" y="15.90" font-size="3.4" text-anchor="middle" font-weight="normal" fill="#333" >P</text>
<text x="470.45" y="15.90" font-size="3.4" text-anchor="middle" font-weight="normal" fill="#333" >PB</text>
<text x="480.65" y="9.90" font-size="4.0" text-anchor="middle" font-weight="normal" fill="#333" textLength="9.8" lengthAdjust="spacingAndGlyphs" >MF43</text>
<line x1="477.10" y1="11.70" x2="485.90" y2="11.70" stroke="#555" stroke-width="0.8" />
<text x="478.20" y="15.90" font-size="3.4" text-anchor="middle" font-weight="normal" fill="#333" >P</text>
<text x="483.40" y="15.90" font-size="3.4" text-anchor="middle" font-weight="normal" fill="#333" >PB</text>
<text x="493.60" y="9.90" font-size="4.0" text-anchor="middle" font-weight="normal" fill="#333" textLength="9.8" lengthAdjust="spacingAndGlyphs" >MF44</text>
<line x1="490.05" y1="11.70" x2="498.85" y2="11.70" stroke="#555" stroke-width="0.8" />
<text x="491.15" y="15.90" font-size="3.4" text-anchor="middle" font-weight="normal" fill="#333" >T</text>
<text x="496.35" y="15.90" font-size="3.4" text-anchor="middle" font-weight="normal" fill="#333" >PB</text>
<text x="506.55" y="9.90" font-size="4.0" text-anchor="middle" font-weight="normal" fill="#333" textLength="9.8" lengthAdjust="spacingAndGlyphs" >MF45</text>
<line x1="503.00" y1="11.70" x2="511.80" y2="11.70" stroke="#555" stroke-width="0.8" />
<text x="504.10" y="15.90" font-size="3.4" text-anchor="middle" font-weight="normal" fill="#333" >P</text>
<text x="509.30" y="15.90" font-size="3.4" text-anchor="middle" font-weight="normal" fill="#333" >PB</text>
<rect x="315.20" y="142.40" width="6.00" height="2.80" fill="#e60000" stroke="#333" stroke-width="0.5"/>
<text x="323.80" y="145.40" font-size="4.4" text-anchor="start" font-weight="normal" fill="#222" textLength="8.1" lengthAdjust="spacingAndGlyphs" >First</text>
<rect x="341.10" y="142.40" width="6.00" height="2.80" fill="#5cb82e" stroke="#333" stroke-width="0.5"/>
<text x="349.70" y="145.40" font-size="4.4" text-anchor="start" font-weight="normal" fill="#222" textLength="13.8" lengthAdjust="spacingAndGlyphs" >Second</text>
<rect x="373.10" y="142.40" width="6.00" height="2.80" fill="#f2e830" stroke="#333" stroke-width="0.5"/>
<text x="381.70" y="145.40" font-size="4.4" text-anchor="start" font-weight="normal" fill="#222" textLength="10.3" lengthAdjust="spacingAndGlyphs" >Third</text>
<rect x="400.10" y="142.40" width="6.00" height="2.80" fill="#d9d9d9" stroke="#333" stroke-width="0.5"/>
<text x="408.70" y="145.40" font-size="4.4" text-anchor="start" font-weight="normal" fill="#222" textLength="56.5" lengthAdjust="spacingAndGlyphs" >Non-overlapping clonotypes</text>
<rect x="269.90" y="176.90" width="6.60" height="129.30" fill="#d9d9d9" />
<line x1="269.90" y1="178.60" x2="276.50" y2="178.60" stroke="#a2a2a2" stroke-width="1.0" />
<line x1="269.90" y1="180.30" x2="276.50" y2="180.30" stroke="#a2a2a2" stroke-width="1.0" />
<line x1="269.90" y1="182.00" x2="276.50" y2="182.00" stroke="#a2a2a2" stroke-width="1.0" />
<line x1="269.90" y1="183.70" x2="276.50" y2="183.70" stroke="#a2a2a2" stroke-width="1.0" />
<line x1="269.90" y1="185.41" x2="276.50" y2="185.41" stroke="#a2a2a2" stroke-width="1.0" />
<line x1="269.90" y1="187.12" x2="276.50" y2="187.12" stroke="#a2a2a2" stroke-width="1.0" />
<line x1="269.90" y1="188.83" x2="276.50" y2="188.83" stroke="#a2a2a2" stroke-width="1.0" />
<line x1="269.90" y1="190.55" x2="276.50" y2="190.55" stroke="#a2a2a2" stroke-width="1.0" />
<line x1="269.90" y1="192.27" x2="276.50" y2="192.27" stroke="#a2a2a2" stroke-width="1.0" />
<line x1="269.90" y1="194.00" x2="276.50" y2="194.00" stroke="#a2a2a2" stroke-width="1.0" />
<line x1="269.90" y1="195.74" x2="276.50" y2="195.74" stroke="#a2a2a2" stroke-width="1.0" />
<line x1="269.90" y1="197.48" x2="276.50" y2="197.48" stroke="#a2a2a2" stroke-width="1.0" />
<line x1="269.90" y1="199.24" x2="276.50" y2="199.24" stroke="#a2a2a2" stroke-width="1.0" />
<line x1="269.90" y1="201.00" x2="276.50" y2="201.00" stroke="#a2a2a2" stroke-width="1.0" />
<line x1="269.90" y1="202.77" x2="276.50" y2="202.77" stroke="#a2a2a2" stroke-width="1.0" />
<line x1="269.90" y1="204.55" x2="276.50" y2="204.55" stroke="#a2a2a2" stroke-width="1.0" />
<line x1="269.90" y1="206.35" x2="276.50" y2="206.35" stroke="#a2a2a2" stroke-width="1.0" />
<line x1="269.90" y1="208.16" x2="276.50" y2="208.16" stroke="#a2a2a2" stroke-width="1.0" />
<line x1="269.90" y1="209.99" x2="276.50" y2="209.99" stroke="#a2a2a2" stroke-width="1.0" />
<line x1="269.90" y1="211.82" x2="276.50" y2="211.82" stroke="#a2a2a2" stroke-width="1.0" />
<line x1="269.90" y1="213.68" x2="276.50" y2="213.68" stroke="#a2a2a2" stroke-width="1.0" />
<line x1="269.90" y1="215.56" x2="276.50" y2="215.56" stroke="#a2a2a2" stroke-width="1.0" />
<line x1="269.90" y1="217.45" x2="276.50" y2="217.45" stroke="#a2a2a2" stroke-width="1.0" />
<line x1="269.90" y1="219.36" x2="276.50" y2="219.36" stroke="#a2a2a2" stroke-width="1.0" />
<line x1="269.90" y1="221.30" x2="276.50" y2="221.30" stroke="#a2a2a2" stroke-width="1.0" />
<line x1="269.90" y1="223.26" x2="276.50" y2="223.26" stroke="#a2a2a2" stroke-width="1.0" />
<line x1="269.90" y1="225.24" x2="276.50" y2="225.24" stroke="#a2a2a2" stroke-width="1.0" />
<line x1="269.90" y1="227.26" x2="276.50" y2="227.26" stroke="#a2a2a2" stroke-width="1.0" />
<line x1="269.90" y1="229.30" x2="276.50" y2="229.30" stroke="#a2a2a2" stroke-width="1.0" />
<line x1="269.90" y1="231.37" x2="276.50" y2="231.37" stroke="#a2a2a2" stroke-width="1.0" />
<line x1="269.90" y1="233.48" x2="276.50" y2="233.48" stroke="#a2a2a2" stroke-width="1.0" />
<line x1="269.90" y1="235.62" x2="276.50" y2="235.62" stroke="#a2a2a2" stroke-width="1.0" />
<line x1="269.90" y1="237.80" x2="276.50" y2="237.80" stroke="#a2a2a2" stroke-width="1.0" />
<line x1="269.90" y1="240.02" x2="276.50" y2="240.02" stroke="#a2a2a2" stroke-width="1.0" />
<line x1="269.90" y1="242.29" x2="276.50" y2="242.29" stroke="#a2a2a2" stroke-width="1.0" />
<line x1="269.90" y1="244.60" x2="276.50" y2="244.60" stroke="#a2a2a2" stroke-width="1.0" />
<line x1="269.90" y1="246.97" x2="276.50" y2="246.97" stroke="#a2a2a2" stroke-width="1.0" />
<line x1="269.90" y1="249.39" x2="276.50" y2="249.39" stroke="#a2a2a2" stroke-width="1.0" />
<line x1="269.90" y1="260.50" x2="276.50" y2="260.50" stroke="#a2a2a2" stroke-width="1.0" />
<line x1="269.90" y1="264.40" x2="276.50" y2="264.40" stroke="#a2a2a2" stroke-width="1.0" />
<line x1="269.90" y1="271.40" x2="276.50" y2="271.40" stroke="#a2a2a2" stroke-width="1.0" />
<line x1="269.90" y1="277.90" x2="276.50" y2="277.90" stroke="#a2a2a2" stroke-width="1.0" />
<line x1="269.90" y1="284.50" x2="276.50" y2="284.50" stroke="#a2a2a2" stroke-width="1.0" />
<line x1="269.90" y1="293.20" x2="276.50" y2="293.20" stroke="#a2a2a2" stroke-width="1.0" />
<rect x="269.90" y="251.90" width="6.60" height="4.00" fill="#e60000" />
<rect x="270.20" y="177.20" width="6.00" height="129.00" fill="none" stroke="#a3a3a3" stroke-width="0.6"/>
<text x="273.20" y="174.50" font-size="3.8" text-anchor="middle" font-weight="normal" fill="#333" >T</text>
<rect x="278.20" y="176.90" width="6.60" height="129.30" fill="#d9d9d9" />
<line x1="278.20" y1="179.50" x2="284.80" y2="179.50" stroke="#a2a2a2" stroke-width="1.0" />
<line x1="278.20" y1="182.10" x2="284.80" y2="182.10" stroke="#a2a2a2" stroke-width="1.0" />
<line x1="278.20" y1="184.70" x2="284.80" y2="184.70" stroke="#a2a2a2" stroke-width="1.0" />
<line x1="278.20" y1="187.30" x2="284.80" y2="187.30" stroke="#a2a2a2" stroke-width="1.0" />
<line x1="278.20" y1="189.91" x2="284.80" y2="189.91" stroke="#a2a2a2" stroke-width="1.0" />
<line x1="278.20" y1="192.52" x2="284.80" y2="192.52" stroke="#a2a2a2" stroke-width="1.0" />
<line x1="278.20" y1="195.13" x2="284.80" y2="195.13" stroke="#a2a2a2" stroke-width="1.0" />
<line x1="278.20" y1="197.75" x2="284.80" y2="197.75" stroke="#a2a2a2" stroke-width="1.0" />
<line x1="278.20" y1="200.37" x2="284.80" y2="200.37" stroke="#a2a2a2" stroke-width="1.0" />
<line x1="278.20" y1="202.99" x2="284.80" y2="202.99" stroke="#a2a2a2" stroke-width="1.0" />
<line x1="278.20" y1="205.63" x2="284.80" y2="205.63" stroke="#a2a2a2" stroke-width="1.0" />
<line x1="278.20" y1="208.27" x2="284.80" y2="208.27" stroke="#a2a2a2" stroke-width="1.0" />
<line x1="278.20" y1="210.92" x2="284.80" y2="210.92" stroke="#a2a2a2" stroke-width="1.0" />
<line x1="278.20" y1="213.57" x2="284.80" y2="213.57" stroke="#a2a2a2" stroke-width="1.0" />
<line x1="278.20" y1="216.24" x2="284.80" y2="216.24" stroke="#a2a2a2" stroke-width="1.0" />
<line x1="278.20" y1="218.91" x2="284.80" y2="218.91" stroke="#a2a2a2" stroke-width="1.0" />
<line x1="278.20" y1="221.60" x2="284.80" y2="221.60" stroke="#a2a2a2" stroke-width="1.0" />
<line x1="278.20" y1="224.30" x2="284.80" y2="224.30" stroke="#a2a2a2" stroke-width="1.0" />
<line x1="278.20" y1="227.01" x2="284.80" y2="227.01" stroke="#a2a2a2" stroke-width="1.0" />
<line x1="278.20" y1="229.73" x2="284.80" y2="229.73" stroke="#a2a2a2" stroke-width="1.0" />
<line x1="278.20" y1="232.47" x2="284.80" y2="232.47" stroke="#a2a2a2" stroke-width="1.0" />
<line x1="278.20" y1="235.23" x2="284.80" y2="235.23" stroke="#a2a2a2" stroke-width="1.0" />
<line x1="278.20" y1="238.00" x2="284.80" y2="238.00" stroke="#a2a2a2" stroke-width="1.0" />
<line x1="278.20" y1="241.30" x2="284.80" y2="241.30" stroke="#a2a2a2" stroke-width="1.0" />
<line x1="278.20" y1="247.30" x2="284.80" y2="247.30" stroke="#a2a2a2" stroke-width="1.0" />
<line x1="278.20" y1="252.80" x2="284.80" y2="252.80" stroke="#a2a2a2" stroke-width="1.0" />
<line x1="278.20" y1="258.50" x2="284.80" y2="258.50" stroke="#a2a2a2" stroke-width="1.0" />
<line x1="278.20" y1="264.20" x2="284.80" y2="264.20" stroke="#a2a2a2" stroke-width="1.0" />
<line x1="278.20" y1="272.40" x2="284.80" y2="272.40" stroke="#a2a2a2" stroke-width="1.0" />
<line x1="278.20" y1="281.00" x2="284.80" y2="281.00" stroke="#a2a2a2" stroke-width="1.0" />
<line x1="278.20" y1="289.50" x2="284.80" y2="289.50" stroke="#a2a2a2" stroke-width="1.0" />
<line x1="278.20" y1="297.70" x2="284.80" y2="297.70" stroke="#a2a2a2" stroke-width="1.0" />
<rect x="278.50" y="177.20" width="6.00" height="129.00" fill="none" stroke="#a3a3a3" stroke-width="0.6"/>
<text x="281.50" y="174.50" font-size="3.8" text-anchor="middle" font-weight="normal" fill="#333" >P</text>
<rect x="286.50" y="176.90" width="6.60" height="129.30" fill="#d9d9d9" />
<line x1="286.50" y1="179.40" x2="293.10" y2="179.40" stroke="#a2a2a2" stroke-width="1.0" />
<line x1="286.50" y1="181.90" x2="293.10" y2="181.90" stroke="#a2a2a2" stroke-width="1.0" />
<line x1="286.50" y1="184.40" x2="293.10" y2="184.40" stroke="#a2a2a2" stroke-width="1.0" />
<line x1="286.50" y1="186.90" x2="293.10" y2="186.90" stroke="#a2a2a2" stroke-width="1.0" />
<line x1="286.50" y1="189.41" x2="293.10" y2="189.41" stroke="#a2a2a2" stroke-width="1.0" />
<line x1="286.50" y1="191.92" x2="293.10" y2="191.92" stroke="#a2a2a2" stroke-width="1.0" />
<line x1="286.50" y1="194.43" x2="293.10" y2="194.43" stroke="#a2a2a2" stroke-width="1.0" />
<line x1="286.50" y1="196.94" x2="293.10" y2="196.94" stroke="#a2a2a2" stroke-width="1.0" />
<line x1="286.50" y1="199.46" x2="293.10" y2="199.46" stroke="#a2a2a2" stroke-width="1.0" />
<line x1="286.50" y1="201.98" x2="293.10" y2="201.98" stroke="#a2a2a2" stroke-width="1.0" />
<line x1="286.50" y1="204.51" x2="293.10" y2="204.51" stroke="#a2a2a2" stroke-width="1.0" />
<line x1="286.50" y1="207.05" x2="293.10" y2="207.05" stroke="#a2a2a2" stroke-width="1.0" />
<line x1="286.50" y1="209.59" x2="293.10" y2="209.59" stroke="#a2a2a2" stroke-width="1.0" />
<line x1="286.50" y1="212.14" x2="293.10" y2="212.14" stroke="#a2a2a2" stroke-width="1.0" />
<line x1="286.50" y1="214.70" x2="293.10" y2="214.70" stroke="#a2a2a2" stroke-width="1.0" />
<line x1="286.50" y1="217.27" x2="293.10" y2="217.27" stroke="#a2a2a2" stroke-width="1.0" />
<line x1="286.50" y1="219.84" x2="293.10" y2="219.84" stroke="#a2a2a2" stroke-width="1.0" />
<line x1="286.50" y1="222.43" x2="293.10" y2="222.43" stroke="#a2a2a2" stroke-width="1.0" />
<line x1="286.50" y1="225.03" x2="293.10" y2="225.03" stroke="#a2a2a2" stroke-width="1.0" />
<line x1="286.50" y1="227.64" x2="293.10" y2="227.64" stroke="#a2a2a2" stroke-width="1.0" />
<line x1="286.50" y1="230.26" x2="293.10" y2="230.26" stroke="#a2a2a2" stroke-width="1.0" />
<line x1="286.50" y1="232.90" x2="293.10" y2="232.90" stroke="#a2a2a2" stroke-width="1.0" />
<line x1="286.50" y1="235.55" x2="293.10" y2="235.55" stroke="#a2a2a2" stroke-width="1.0" />
<line x1="286.50" y1="238.21" x2="293.10" y2="238.21" stroke="#a2a2a2" stroke-width="1.0" />
<line x1="286.50" y1="240.89" x2="293.10" y2="240.89" stroke="#a2a2a2" stroke-width="1.0" />
<line x1="286.50" y1="243.59" x2="293.10" y2="243.59" stroke="#a2a2a2" stroke-width="1.0" />
<line x1="286.50" y1="246.30" x2="293.10" y2="246.30" stroke="#a2a2a2" stroke-width="1.0" />
<line x1="286.50" y1="249.04" x2="293.10" y2="249.04" stroke="#a2a2a2" stroke-width="1.0" />
<line x1="286.50" y1="251.79" x2="293.10" y2="251.79" stroke="#a2a2a2" stroke-width="1.0" />
<line x1="286.50" y1="254.57" x2="293.10" y2="254.57" stroke="#a2a2a2" stroke-width="1.0" />
<line x1="286.50" y1="257.36" x2="293.10" y2="257.36" stroke="#a2a2a2" stroke-width="1.0" />
<line x1="286.50" y1="260.18" x2="293.10" y2="260.18" stroke="#a2a2a2" stroke-width="1.0" />
<line x1="286.50" y1="263.03" x2="293.10" y2="263.03" stroke="#a2a2a2" stroke-width="1.0" />
<line x1="286.50" y1="265.89" x2="293.10" y2="265.89" stroke="#a2a2a2" stroke-width="1.0" />
<line x1="286.50" y1="268.79" x2="293.10" y2="268.79" stroke="#a2a2a2" stroke-width="1.0" />
<line x1="286.50" y1="271.71" x2="293.10" y2="271.71" stroke="#a2a2a2" stroke-width="1.0" />
<line x1="286.50" y1="274.67" x2="293.10" y2="274.67" stroke="#a2a2a2" stroke-width="1.0" />
<line x1="286.50" y1="288.60" x2="293.10" y2="288.60" stroke="#a2a2a2" stroke-width="1.0" />
<line x1="286.50" y1="294.40" x2="293.10" y2="294.40" stroke="#a2a2a2" stroke-width="1.0" />
<line x1="286.50" y1="300.50" x2="293.10" y2="300.50" stroke="#a2a2a2" stroke-width="1.0" />
<rect x="286.50" y="277.00" width="6.60" height="5.70" fill="#e60000" />
<rect x="286.80" y="177.20" width="6.00" height="129.00" fill="none" stroke="#a3a3a3" stroke-width="0.6"/>
<text x="289.80" y="174.50" font-size="3.8" text-anchor="middle" font-weight="normal" fill="#333" >PB</text>
<line x1="268.90" y1="168.10" x2="291.70" y2="168.10" stroke="#222" stroke-width="1.1" />
<text x="281.40" y="164.80" font-size="3.8" text-anchor="middle" font-weight="normal" fill="#333" >MF5</text>
<rect x="297.90" y="176.90" width="6.60" height="129.30" fill="#d9d9d9" />
<line x1="297.90" y1="180.50" x2="304.50" y2="180.50" stroke="#a2a2a2" stroke-width="1.0" />
<line x1="297.90" y1="184.10" x2="304.50" y2="184.10" stroke="#a2a2a2" stroke-width="1.0" />
<line x1="297.90" y1="187.71" x2="304.50" y2="187.71" stroke="#a2a2a2" stroke-width="1.0" />
<line x1="297.90" y1="191.32" x2="304.50" y2="191.32" stroke="#a2a2a2" stroke-width="1.0" />
<line x1="297.90" y1="194.94" x2="304.50" y2="194.94" stroke="#a2a2a2" stroke-width="1.0" />
<line x1="297.90" y1="198.57" x2="304.50" y2="198.57" stroke="#a2a2a2" stroke-width="1.0" />
<line x1="297.90" y1="202.21" x2="304.50" y2="202.21" stroke="#a2a2a2" stroke-width="1.0" />
<line x1="297.90" y1="205.87" x2="304.50" y2="205.87" stroke="#a2a2a2" stroke-width="1.0" />
<line x1="297.90" y1="209.56" x2="304.50" y2="209.56" stroke="#a2a2a2" stroke-width="1.0" />
<line x1="297.90" y1="213.26" x2="304.50" y2="213.26" stroke="#a2a2a2" stroke-width="1.0" />
<line x1="297.90" y1="216.99" x2="304.50" y2="216.99" stroke="#a2a2a2" stroke-width="1.0" />
<line x1="297.90" y1="220.74" x2="304.50" y2="220.74" stroke="#a2a2a2" stroke-width="1.0" />
<line x1="297.90" y1="224.53" x2="304.50" y2="224.53" stroke="#a2a2a2" stroke-width="1.0" />
<line x1="297.90" y1="228.35" x2="304.50" y2="228.35" stroke="#a2a2a2" stroke-width="1.0" />
<line x1="297.90" y1="232.22" x2="304.50" y2="232.22" stroke="#a2a2a2" stroke-width="1.0" />
<line x1="297.90" y1="236.12" x2="304.50" y2="236.12" stroke="#a2a2a2" stroke-width="1.0" />
<line x1="297.90" y1="241.60" x2="304.50" y2="241.60" stroke="#a2a2a2" stroke-width="1.0" />
<line x1="297.90" y1="249.00" x2="304.50" y2="249.00" stroke="#a2a2a2" stroke-width="1.0" />
<line x1="297.90" y1="256.10" x2="304.50" y2="256.10" stroke="#a2a2a2" stroke-width="1.0" />
<line x1="297.90" y1="263.50" x2="304.50" y2="263.50" stroke="#a2a2a2" stroke-width="1.0" />
<line x1="297.90" y1="270.40" x2="304.50" y2="270.40" stroke="#a2a2a2" stroke-width="1.0" />
<line x1="297.90" y1="277.60" x2="304.50" y2="277.60" stroke="#a2a2a2" stroke-width="1.0" />
<line x1="297.90" y1="284.60" x2="304.50" y2="284.60" stroke="#a2a2a2" stroke-width="1.0" />
<line x1="297.90" y1="295.50" x2="304.50" y2="295.50" stroke="#a2a2a2" stroke-width="1.0" />
<rect x="298.20" y="177.20" width="6.00" height="129.00" fill="none" stroke="#a3a3a3" stroke-width="0.6"/>
<text x="301.20" y="174.50" font-size="3.8" text-anchor="middle" font-weight="normal" fill="#333" >T</text>
<rect x="306.20" y="176.90" width="6.60" height="129.30" fill="#d9d9d9" />
<line x1="306.20" y1="181.80" x2="312.80" y2="181.80" stroke="#a2a2a2" stroke-width="1.0" />
<line x1="306.20" y1="186.70" x2="312.80" y2="186.70" stroke="#a2a2a2" stroke-width="1.0" />
<line x1="306.20" y1="191.60" x2="312.80" y2="191.60" stroke="#a2a2a2" stroke-width="1.0" />
<line x1="306.20" y1="196.51" x2="312.80" y2="196.51" stroke="#a2a2a2" stroke-width="1.0" />
<line x1="306.20" y1="201.42" x2="312.80" y2="201.42" stroke="#a2a2a2" stroke-width="1.0" />
<line x1="306.20" y1="206.33" x2="312.80" y2="206.33" stroke="#a2a2a2" stroke-width="1.0" />
<line x1="306.20" y1="211.25" x2="312.80" y2="211.25" stroke="#a2a2a2" stroke-width="1.0" />
<line x1="306.20" y1="216.18" x2="312.80" y2="216.18" stroke="#a2a2a2" stroke-width="1.0" />
<line x1="306.20" y1="221.12" x2="312.80" y2="221.12" stroke="#a2a2a2" stroke-width="1.0" />
<line x1="306.20" y1="226.07" x2="312.80" y2="226.07" stroke="#a2a2a2" stroke-width="1.0" />
<line x1="306.20" y1="231.03" x2="312.80" y2="231.03" stroke="#a2a2a2" stroke-width="1.0" />
<line x1="306.20" y1="236.01" x2="312.80" y2="236.01" stroke="#a2a2a2" stroke-width="1.0" />
<line x1="306.20" y1="244.20" x2="312.80" y2="244.20" stroke="#a2a2a2" stroke-width="1.0" />
<line x1="306.20" y1="249.50" x2="312.80" y2="249.50" stroke="#a2a2a2" stroke-width="1.0" />
<line x1="306.20" y1="254.50" x2="312.80" y2="254.50" stroke="#a2a2a2" stroke-width="1.0" />
<line x1="306.20" y1="264.80" x2="312.80" y2="264.80" stroke="#a2a2a2" stroke-width="1.0" />
<line x1="306.20" y1="275.40" x2="312.80" y2="275.40" stroke="#a2a2a2" stroke-width="1.0" />
<line x1="306.20" y1="290.50" x2="312.80" y2="290.50" stroke="#a2a2a2" stroke-width="1.0" />
<rect x="306.50" y="177.20" width="6.00" height="129.00" fill="none" stroke="#a3a3a3" stroke-width="0.6"/>
<text x="309.50" y="174.50" font-size="3.8" text-anchor="middle" font-weight="normal" fill="#333" >P</text>
<rect x="314.50" y="176.90" width="6.60" height="129.30" fill="#d9d9d9" />
<rect x="314.50" y="176.90" width="6.60" height="63.10" fill="#d0d0d0" />
<line x1="314.50" y1="181.80" x2="321.10" y2="181.80" stroke="#a2a2a2" stroke-width="1.0" />
<line x1="314.50" y1="186.70" x2="321.10" y2="186.70" stroke="#a2a2a2" stroke-width="1.0" />
<line x1="314.50" y1="191.60" x2="321.10" y2="191.60" stroke="#a2a2a2" stroke-width="1.0" />
<line x1="314.50" y1="196.51" x2="321.10" y2="196.51" stroke="#a2a2a2" stroke-width="1.0" />
<line x1="314.50" y1="201.42" x2="321.10" y2="201.42" stroke="#a2a2a2" stroke-width="1.0" />
<line x1="314.50" y1="206.33" x2="321.10" y2="206.33" stroke="#a2a2a2" stroke-width="1.0" />
<line x1="314.50" y1="211.25" x2="321.10" y2="211.25" stroke="#a2a2a2" stroke-width="1.0" />
<line x1="314.50" y1="216.18" x2="321.10" y2="216.18" stroke="#a2a2a2" stroke-width="1.0" />
<line x1="314.50" y1="221.12" x2="321.10" y2="221.12" stroke="#a2a2a2" stroke-width="1.0" />
<line x1="314.50" y1="226.07" x2="321.10" y2="226.07" stroke="#a2a2a2" stroke-width="1.0" />
<line x1="314.50" y1="231.03" x2="321.10" y2="231.03" stroke="#a2a2a2" stroke-width="1.0" />
<line x1="314.50" y1="236.01" x2="321.10" y2="236.01" stroke="#a2a2a2" stroke-width="1.0" />
<line x1="314.50" y1="244.00" x2="321.10" y2="244.00" stroke="#a2a2a2" stroke-width="1.0" />
<line x1="314.50" y1="253.60" x2="321.10" y2="253.60" stroke="#a2a2a2" stroke-width="1.0" />
<line x1="314.50" y1="263.50" x2="321.10" y2="263.50" stroke="#a2a2a2" stroke-width="1.0" />
<line x1="314.50" y1="282.50" x2="321.10" y2="282.50" stroke="#a2a2a2" stroke-width="1.0" />
<rect x="314.80" y="177.20" width="6.00" height="129.00" fill="none" stroke="#a3a3a3" stroke-width="0.6"/>
<text x="317.80" y="174.50" font-size="3.8" text-anchor="middle" font-weight="normal" fill="#333" >PB</text>
<line x1="296.90" y1="168.10" x2="319.70" y2="168.10" stroke="#222" stroke-width="1.1" />
<text x="309.40" y="164.80" font-size="3.8" text-anchor="middle" font-weight="normal" fill="#333" >MF7</text>
<rect x="325.90" y="176.90" width="6.60" height="129.30" fill="#d9d9d9" />
<rect x="325.90" y="176.90" width="6.60" height="59.50" fill="#a8a8a8" />
<line x1="325.90" y1="240.20" x2="332.50" y2="240.20" stroke="#a2a2a2" stroke-width="1.0" />
<line x1="325.90" y1="242.40" x2="332.50" y2="242.40" stroke="#a2a2a2" stroke-width="1.0" />
<line x1="325.90" y1="244.60" x2="332.50" y2="244.60" stroke="#a2a2a2" stroke-width="1.0" />
<line x1="325.90" y1="246.81" x2="332.50" y2="246.81" stroke="#a2a2a2" stroke-width="1.0" />
<line x1="325.90" y1="249.02" x2="332.50" y2="249.02" stroke="#a2a2a2" stroke-width="1.0" />
<line x1="325.90" y1="251.24" x2="332.50" y2="251.24" stroke="#a2a2a2" stroke-width="1.0" />
<line x1="325.90" y1="253.46" x2="332.50" y2="253.46" stroke="#a2a2a2" stroke-width="1.0" />
<line x1="325.90" y1="255.70" x2="332.50" y2="255.70" stroke="#a2a2a2" stroke-width="1.0" />
<line x1="325.90" y1="257.94" x2="332.50" y2="257.94" stroke="#a2a2a2" stroke-width="1.0" />
<line x1="325.90" y1="260.19" x2="332.50" y2="260.19" stroke="#a2a2a2" stroke-width="1.0" />
<line x1="325.90" y1="262.46" x2="332.50" y2="262.46" stroke="#a2a2a2" stroke-width="1.0" />
<line x1="325.90" y1="264.75" x2="332.50" y2="264.75" stroke="#a2a2a2" stroke-width="1.0" />
<line x1="325.90" y1="267.05" x2="332.50" y2="267.05" stroke="#a2a2a2" stroke-width="1.0" />
<line x1="325.90" y1="269.37" x2="332.50" y2="269.37" stroke="#a2a2a2" stroke-width="1.0" />
<line x1="325.90" y1="271.71" x2="332.50" y2="271.71" stroke="#a2a2a2" stroke-width="1.0" />
<line x1="325.90" y1="274.08" x2="332.50" y2="274.08" stroke="#a2a2a2" stroke-width="1.0" />
<line x1="325.90" y1="276.46" x2="332.50" y2="276.46" stroke="#a2a2a2" stroke-width="1.0" />
<line x1="325.90" y1="278.88" x2="332.50" y2="278.88" stroke="#a2a2a2" stroke-width="1.0" />
<line x1="325.90" y1="281.32" x2="332.50" y2="281.32" stroke="#a2a2a2" stroke-width="1.0" />
<line x1="325.90" y1="290.50" x2="332.50" y2="290.50" stroke="#a2a2a2" stroke-width="1.0" />
<rect x="326.20" y="177.20" width="6.00" height="129.00" fill="none" stroke="#a3a3a3" stroke-width="0.6"/>
<text x="329.20" y="174.50" font-size="3.8" text-anchor="middle" font-weight="normal" fill="#333" >T</text>
<rect x="334.20" y="176.90" width="6.60" height="129.30" fill="#d9d9d9" />
<line x1="334.20" y1="179.60" x2="340.80" y2="179.60" stroke="#a2a2a2" stroke-width="1.0" />
<line x1="334.20" y1="182.30" x2="340.80" y2="182.30" stroke="#a2a2a2" stroke-width="1.0" />
<line x1="334.20" y1="185.00" x2="340.80" y2="185.00" stroke="#a2a2a2" stroke-width="1.0" />
<line x1="334.20" y1="187.70" x2="340.80" y2="187.70" stroke="#a2a2a2" stroke-width="1.0" />
<line x1="334.20" y1="190.40" x2="340.80" y2="190.40" stroke="#a2a2a2" stroke-width="1.0" />
<line x1="334.20" y1="193.10" x2="340.80" y2="193.10" stroke="#a2a2a2" stroke-width="1.0" />
<line x1="334.20" y1="195.80" x2="340.80" y2="195.80" stroke="#a2a2a2" stroke-width="1.0" />
<line x1="334.20" y1="198.50" x2="340.80" y2="198.50" stroke="#a2a2a2" stroke-width="1.0" />
<line x1="334.20" y1="201.20" x2="340.80" y2="201.20" stroke="#a2a2a2" stroke-width="1.0" />
<line x1="334.20" y1="203.90" x2="340.80" y2="203.90" stroke="#a2a2a2" stroke-width="1.0" />
<line x1="334.20" y1="206.60" x2="340.80" y2="206.60" stroke="#a2a2a2" stroke-width="1.0" />
<line x1="334.20" y1="209.30" x2="340.80" y2="209.30" stroke="#a2a2a2" stroke-width="1.0" />
<line x1="334.20" y1="212.00" x2="340.80" y2="212.00" stroke="#a2a2a2" stroke-width="1.0" />
<line x1="334.20" y1="214.70" x2="340.80" y2="214.70" stroke="#a2a2a2" stroke-width="1.0" />
<line x1="334.20" y1="217.40" x2="340.80" y2="217.40" stroke="#a2a2a2" stroke-width="1.0" />
<line x1="334.20" y1="220.10" x2="340.80" y2="220.10" stroke="#a2a2a2" stroke-width="1.0" />
<line x1="334.20" y1="222.80" x2="340.80" y2="222.80" stroke="#a2a2a2" stroke-width="1.0" />
<line x1="334.20" y1="225.50" x2="340.80" y2="225.50" stroke="#a2a2a2" stroke-width="1.0" />
<line x1="334.20" y1="228.20" x2="340.80" y2="228.20" stroke="#a2a2a2" stroke-width="1.0" />
<line x1="334.20" y1="230.90" x2="340.80" y2="230.90" stroke="#a2a2a2" stroke-width="1.0" />
<line x1="334.20" y1="233.60" x2="340.80" y2="233.60" stroke="#a2a2a2" stroke-width="1.0" />
<line x1="334.20" y1="236.30" x2="340.80" y2="236.30" stroke="#a2a2a2" stroke-width="1.0" />
<line x1="334.20" y1="239.00" x2="340.80" y2="239.00" stroke="#a2a2a2" stroke-width="1.0" />
<line x1="334.20" y1="241.00" x2="340.80" y2="241.00" stroke="#a2a2a2" stroke-width="1.0" />
<line x1="334.20" y1="243.70" x2="340.80" y2="243.70" stroke="#a2a2a2" stroke-width="1.0" />
<line x1="334.20" y1="246.30" x2="340.80" y2="246.30" stroke="#a2a2a2" stroke-width="1.0" />
<line x1="334.20" y1="249.50" x2="340.80" y2="249.50" stroke="#a2a2a2" stroke-width="1.0" />
<line x1="334.20" y1="252.50" x2="340.80" y2="252.50" stroke="#a2a2a2" stroke-width="1.0" />
<line x1="334.20" y1="255.20" x2="340.80" y2="255.20" stroke="#a2a2a2" stroke-width="1.0" />
<line x1="334.20" y1="261.40" x2="340.80" y2="261.40" stroke="#a2a2a2" stroke-width="1.0" />
<line x1="334.20" y1="267.50" x2="340.80" y2="267.50" stroke="#a2a2a2" stroke-width="1.0" />
<line x1="334.20" y1="273.30" x2="340.80" y2="273.30" stroke="#a2a2a2" stroke-width="1.0" />
<line x1="334.20" y1="282.50" x2="340.80" y2="282.50" stroke="#a2a2a2" stroke-width="1.0" />
<line x1="334.20" y1="294.20" x2="340.80" y2="294.20" stroke="#a2a2a2" stroke-width="1.0" />
<rect x="334.50" y="177.20" width="6.00" height="129.00" fill="none" stroke="#a3a3a3" stroke-width="0.6"/>
<text x="337.50" y="174.50" font-size="3.8" text-anchor="middle" font-weight="normal" fill="#333" >P</text>
<rect x="342.50" y="176.90" width="6.60" height="129.30" fill="#d9d9d9" />
<rect x="342.50" y="176.90" width="6.60" height="63.10" fill="#cdcdcd" />
<line x1="342.50" y1="182.90" x2="349.10" y2="182.90" stroke="#a2a2a2" stroke-width="1.0" />
<line x1="342.50" y1="188.90" x2="349.10" y2="188.90" stroke="#a2a2a2" stroke-width="1.0" />
<line x1="342.50" y1="194.90" x2="349.10" y2="194.90" stroke="#a2a2a2" stroke-width="1.0" />
<line x1="342.50" y1="200.90" x2="349.10" y2="200.90" stroke="#a2a2a2" stroke-width="1.0" />
<line x1="342.50" y1="206.90" x2="349.10" y2="206.90" stroke="#a2a2a2" stroke-width="1.0" />
<line x1="342.50" y1="212.90" x2="349.10" y2="212.90" stroke="#a2a2a2" stroke-width="1.0" />
<line x1="342.50" y1="218.90" x2="349.10" y2="218.90" stroke="#a2a2a2" stroke-width="1.0" />
<line x1="342.50" y1="224.90" x2="349.10" y2="224.90" stroke="#a2a2a2" stroke-width="1.0" />
<line x1="342.50" y1="230.90" x2="349.10" y2="230.90" stroke="#a2a2a2" stroke-width="1.0" />
<line x1="342.50" y1="236.90" x2="349.10" y2="236.90" stroke="#a2a2a2" stroke-width="1.0" />
<line x1="342.50" y1="241.60" x2="349.10" y2="241.60" stroke="#a2a2a2" stroke-width="1.0" />
<line x1="342.50" y1="259.40" x2="349.10" y2="259.40" stroke="#a2a2a2" stroke-width="1.0" />
<line x1="342.50" y1="282.70" x2="349.10" y2="282.70" stroke="#a2a2a2" stroke-width="1.0" />
<rect x="342.80" y="177.20" width="6.00" height="129.00" fill="none" stroke="#a3a3a3" stroke-width="0.6"/>
<text x="345.80" y="174.50" font-size="3.8" text-anchor="middle" font-weight="normal" fill="#333" >PB</text>
<line x1="324.90" y1="168.10" x2="347.70" y2="168.10" stroke="#222" stroke-width="1.1" />
<text x="337.40" y="164.80" font-size="3.8" text-anchor="middle" font-weight="normal" fill="#333" >MF19</text>
<rect x="353.90" y="176.90" width="6.60" height="129.30" fill="#d9d9d9" />
<rect x="353.90" y="176.90" width="6.60" height="35.10" fill="#a8a8a8" />
<line x1="353.90" y1="215.50" x2="360.50" y2="215.50" stroke="#a2a2a2" stroke-width="1.0" />
<line x1="353.90" y1="218.00" x2="360.50" y2="218.00" stroke="#a2a2a2" stroke-width="1.0" />
<line x1="353.90" y1="220.51" x2="360.50" y2="220.51" stroke="#a2a2a2" stroke-width="1.0" />
<line x1="353.90" y1="223.03" x2="360.50" y2="223.03" stroke="#a2a2a2" stroke-width="1.0" />
<line x1="353.90" y1="225.56" x2="360.50" y2="225.56" stroke="#a2a2a2" stroke-width="1.0" />
<line x1="353.90" y1="228.11" x2="360.50" y2="228.11" stroke="#a2a2a2" stroke-width="1.0" />
<line x1="353.90" y1="230.68" x2="360.50" y2="230.68" stroke="#a2a2a2" stroke-width="1.0" />
<line x1="353.90" y1="233.29" x2="360.50" y2="233.29" stroke="#a2a2a2" stroke-width="1.0" />
<line x1="353.90" y1="235.92" x2="360.50" y2="235.92" stroke="#a2a2a2" stroke-width="1.0" />
<line x1="353.90" y1="238.59" x2="360.50" y2="238.59" stroke="#a2a2a2" stroke-width="1.0" />
<line x1="353.90" y1="241.31" x2="360.50" y2="241.31" stroke="#a2a2a2" stroke-width="1.0" />
<line x1="353.90" y1="244.08" x2="360.50" y2="244.08" stroke="#a2a2a2" stroke-width="1.0" />
<line x1="353.90" y1="246.91" x2="360.50" y2="246.91" stroke="#a2a2a2" stroke-width="1.0" />
<line x1="353.90" y1="249.80" x2="360.50" y2="249.80" stroke="#a2a2a2" stroke-width="1.0" />
<line x1="353.90" y1="252.78" x2="360.50" y2="252.78" stroke="#a2a2a2" stroke-width="1.0" />
<line x1="353.90" y1="255.83" x2="360.50" y2="255.83" stroke="#a2a2a2" stroke-width="1.0" />
<line x1="353.90" y1="261.10" x2="360.50" y2="261.10" stroke="#a2a2a2" stroke-width="1.0" />
<line x1="353.90" y1="266.40" x2="360.50" y2="266.40" stroke="#a2a2a2" stroke-width="1.0" />
<line x1="353.90" y1="275.00" x2="360.50" y2="275.00" stroke="#a2a2a2" stroke-width="1.0" />
<line x1="353.90" y1="283.30" x2="360.50" y2="283.30" stroke="#a2a2a2" stroke-width="1.0" />
<line x1="353.90" y1="293.50" x2="360.50" y2="293.50" stroke="#a2a2a2" stroke-width="1.0" />
<rect x="354.20" y="177.20" width="6.00" height="129.00" fill="none" stroke="#a3a3a3" stroke-width="0.6"/>
<text x="357.20" y="174.50" font-size="3.8" text-anchor="middle" font-weight="normal" fill="#333" >P</text>
<rect x="362.20" y="176.90" width="6.60" height="129.30" fill="#d9d9d9" />
<line x1="362.20" y1="179.60" x2="368.80" y2="179.60" stroke="#a2a2a2" stroke-width="1.0" />
<line x1="362.20" y1="182.30" x2="368.80" y2="182.30" stroke="#a2a2a2" stroke-width="1.0" />
<line x1="362.20" y1="185.00" x2="368.80" y2="185.00" stroke="#a2a2a2" stroke-width="1.0" />
<line x1="362.20" y1="187.71" x2="368.80" y2="187.71" stroke="#a2a2a2" stroke-width="1.0" />
<line x1="362.20" y1="190.42" x2="368.80" y2="190.42" stroke="#a2a2a2" stroke-width="1.0" />
<line x1="362.20" y1="193.13" x2="368.80" y2="193.13" stroke="#a2a2a2" stroke-width="1.0" />
<line x1="362.20" y1="195.85" x2="368.80" y2="195.85" stroke="#a2a2a2" stroke-width="1.0" />
<line x1="362.20" y1="198.57" x2="368.80" y2="198.57" stroke="#a2a2a2" stroke-width="1.0" />
<line x1="362.20" y1="201.31" x2="368.80" y2="201.31" stroke="#a2a2a2" stroke-width="1.0" />
<line x1="362.20" y1="204.05" x2="368.80" y2="204.05" stroke="#a2a2a2" stroke-width="1.0" />
<line x1="362.20" y1="206.80" x2="368.80" y2="206.80" stroke="#a2a2a2" stroke-width="1.0" />
<line x1="362.20" y1="209.57" x2="368.80" y2="209.57" stroke="#a2a2a2" stroke-width="1.0" />
<line x1="362.20" y1="212.35" x2="368.80" y2="212.35" stroke="#a2a2a2" stroke-width="1.0" />
<line x1="362.20" y1="215.14" x2="368.80" y2="215.14" stroke="#a2a2a2" stroke-width="1.0" />
<line x1="362.20" y1="217.94" x2="368.80" y2="217.94" stroke="#a2a2a2" stroke-width="1.0" />
<line x1="362.20" y1="220.77" x2="368.80" y2="220.77" stroke="#a2a2a2" stroke-width="1.0" />
<line x1="362.20" y1="223.61" x2="368.80" y2="223.61" stroke="#a2a2a2" stroke-width="1.0" />
<line x1="362.20" y1="226.47" x2="368.80" y2="226.47" stroke="#a2a2a2" stroke-width="1.0" />
<line x1="362.20" y1="229.35" x2="368.80" y2="229.35" stroke="#a2a2a2" stroke-width="1.0" />
<line x1="362.20" y1="232.25" x2="368.80" y2="232.25" stroke="#a2a2a2" stroke-width="1.0" />
<line x1="362.20" y1="235.18" x2="368.80" y2="235.18" stroke="#a2a2a2" stroke-width="1.0" />
<line x1="362.20" y1="238.13" x2="368.80" y2="238.13" stroke="#a2a2a2" stroke-width="1.0" />
<line x1="362.20" y1="241.60" x2="368.80" y2="241.60" stroke="#a2a2a2" stroke-width="1.0" />
<line x1="362.20" y1="247.30" x2="368.80" y2="247.30" stroke="#a2a2a2" stroke-width="1.0" />
<line x1="362.20" y1="252.50" x2="368.80" y2="252.50" stroke="#a2a2a2" stroke-width="1.0" />
<line x1="362.20" y1="257.80" x2="368.80" y2="257.80" stroke="#a2a2a2" stroke-width="1.0" />
<line x1="362.20" y1="265.80" x2="368.80" y2="265.80" stroke="#a2a2a2" stroke-width="1.0" />
<line x1="362.20" y1="274.10" x2="368.80" y2="274.10" stroke="#a2a2a2" stroke-width="1.0" />
<line x1="362.20" y1="284.70" x2="368.80" y2="284.70" stroke="#a2a2a2" stroke-width="1.0" />
<rect x="362.50" y="177.20" width="6.00" height="129.00" fill="none" stroke="#a3a3a3" stroke-width="0.6"/>
<text x="365.50" y="174.50" font-size="3.8" text-anchor="middle" font-weight="normal" fill="#333" >P</text>
<rect x="370.50" y="176.90" width="6.60" height="129.30" fill="#d9d9d9" />
<rect x="370.50" y="176.90" width="6.60" height="24.10" fill="#a8a8a8" />
<line x1="370.50" y1="204.50" x2="377.10" y2="204.50" stroke="#a2a2a2" stroke-width="1.0" />
<line x1="370.50" y1="207.00" x2="377.10" y2="207.00" stroke="#a2a2a2" stroke-width="1.0" />
<line x1="370.50" y1="209.52" x2="377.10" y2="209.52" stroke="#a2a2a2" stroke-width="1.0" />
<line x1="370.50" y1="212.04" x2="377.10" y2="212.04" stroke="#a2a2a2" stroke-width="1.0" />
<line x1="370.50" y1="214.59" x2="377.10" y2="214.59" stroke="#a2a2a2" stroke-width="1.0" />
<line x1="370.50" y1="217.17" x2="377.10" y2="217.17" stroke="#a2a2a2" stroke-width="1.0" />
<line x1="370.50" y1="219.78" x2="377.10" y2="219.78" stroke="#a2a2a2" stroke-width="1.0" />
<line x1="370.50" y1="222.44" x2="377.10" y2="222.44" stroke="#a2a2a2" stroke-width="1.0" />
<line x1="370.50" y1="225.15" x2="377.10" y2="225.15" stroke="#a2a2a2" stroke-width="1.0" />
<line x1="370.50" y1="227.92" x2="377.10" y2="227.92" stroke="#a2a2a2" stroke-width="1.0" />
<line x1="370.50" y1="230.76" x2="377.10" y2="230.76" stroke="#a2a2a2" stroke-width="1.0" />
<line x1="370.50" y1="233.69" x2="377.10" y2="233.69" stroke="#a2a2a2" stroke-width="1.0" />
<line x1="370.50" y1="236.73" x2="377.10" y2="236.73" stroke="#a2a2a2" stroke-width="1.0" />
<line x1="370.50" y1="241.00" x2="377.10" y2="241.00" stroke="#a2a2a2" stroke-width="1.0" />
<line x1="370.50" y1="244.60" x2="377.10" y2="244.60" stroke="#a2a2a2" stroke-width="1.0" />
<line x1="370.50" y1="248.20" x2="377.10" y2="248.20" stroke="#a2a2a2" stroke-width="1.0" />
<line x1="370.50" y1="251.60" x2="377.10" y2="251.60" stroke="#a2a2a2" stroke-width="1.0" />
<line x1="370.50" y1="256.50" x2="377.10" y2="256.50" stroke="#a2a2a2" stroke-width="1.0" />
<line x1="370.50" y1="261.10" x2="377.10" y2="261.10" stroke="#a2a2a2" stroke-width="1.0" />
<line x1="370.50" y1="265.50" x2="377.10" y2="265.50" stroke="#a2a2a2" stroke-width="1.0" />
<line x1="370.50" y1="271.40" x2="377.10" y2="271.40" stroke="#a2a2a2" stroke-width="1.0" />
<line x1="370.50" y1="277.40" x2="377.10" y2="277.40" stroke="#a2a2a2" stroke-width="1.0" />
<line x1="370.50" y1="284.30" x2="377.10" y2="284.30" stroke="#a2a2a2" stroke-width="1.0" />
<line x1="370.50" y1="293.50" x2="377.10" y2="293.50" stroke="#a2a2a2" stroke-width="1.0" />
<rect x="370.80" y="177.20" width="6.00" height="129.00" fill="none" stroke="#a3a3a3" stroke-width="0.6"/>
<text x="373.80" y="174.50" font-size="3.8" text-anchor="middle" font-weight="normal" fill="#333" >PB</text>
<line x1="352.90" y1="168.10" x2="375.70" y2="168.10" stroke="#222" stroke-width="1.1" />
<text x="365.40" y="164.80" font-size="3.8" text-anchor="middle" font-weight="normal" fill="#333" >MF29</text>
<rect x="381.90" y="176.90" width="6.60" height="129.30" fill="#d9d9d9" />
<line x1="381.90" y1="179.70" x2="388.50" y2="179.70" stroke="#a2a2a2" stroke-width="1.0" />
<line x1="381.90" y1="182.50" x2="388.50" y2="182.50" stroke="#a2a2a2" stroke-width="1.0" />
<line x1="381.90" y1="185.30" x2="388.50" y2="185.30" stroke="#a2a2a2" stroke-width="1.0" />
<line x1="381.90" y1="188.11" x2="388.50" y2="188.11" stroke="#a2a2a2" stroke-width="1.0" />
<line x1="381.90" y1="190.91" x2="388.50" y2="190.91" stroke="#a2a2a2" stroke-width="1.0" />
<line x1="381.90" y1="193.72" x2="388.50" y2="193.72" stroke="#a2a2a2" stroke-width="1.0" />
<line x1="381.90" y1="196.53" x2="388.50" y2="196.53" stroke="#a2a2a2" stroke-width="1.0" />
<line x1="381.90" y1="199.35" x2="388.50" y2="199.35" stroke="#a2a2a2" stroke-width="1.0" />
<line x1="381.90" y1="202.18" x2="388.50" y2="202.18" stroke="#a2a2a2" stroke-width="1.0" />
<line x1="381.90" y1="205.01" x2="388.50" y2="205.01" stroke="#a2a2a2" stroke-width="1.0" />
<line x1="381.90" y1="207.85" x2="388.50" y2="207.85" stroke="#a2a2a2" stroke-width="1.0" />
<line x1="381.90" y1="210.69" x2="388.50" y2="210.69" stroke="#a2a2a2" stroke-width="1.0" />
<line x1="381.90" y1="213.55" x2="388.50" y2="213.55" stroke="#a2a2a2" stroke-width="1.0" />
<line x1="381.90" y1="216.42" x2="388.50" y2="216.42" stroke="#a2a2a2" stroke-width="1.0" />
<line x1="381.90" y1="219.29" x2="388.50" y2="219.29" stroke="#a2a2a2" stroke-width="1.0" />
<line x1="381.90" y1="222.18" x2="388.50" y2="222.18" stroke="#a2a2a2" stroke-width="1.0" />
<line x1="381.90" y1="225.08" x2="388.50" y2="225.08" stroke="#a2a2a2" stroke-width="1.0" />
<line x1="381.90" y1="228.00" x2="388.50" y2="228.00" stroke="#a2a2a2" stroke-width="1.0" />
<line x1="381.90" y1="230.93" x2="388.50" y2="230.93" stroke="#a2a2a2" stroke-width="1.0" />
<line x1="381.90" y1="233.87" x2="388.50" y2="233.87" stroke="#a2a2a2" stroke-width="1.0" />
<line x1="381.90" y1="236.84" x2="388.50" y2="236.84" stroke="#a2a2a2" stroke-width="1.0" />
<line x1="381.90" y1="240.70" x2="388.50" y2="240.70" stroke="#a2a2a2" stroke-width="1.0" />
<line x1="381.90" y1="246.30" x2="388.50" y2="246.30" stroke="#a2a2a2" stroke-width="1.0" />
<line x1="381.90" y1="252.50" x2="388.50" y2="252.50" stroke="#a2a2a2" stroke-width="1.0" />
<line x1="381.90" y1="258.50" x2="388.50" y2="258.50" stroke="#a2a2a2" stroke-width="1.0" />
<line x1="381.90" y1="264.40" x2="388.50" y2="264.40" stroke="#a2a2a2" stroke-width="1.0" />
<line x1="381.90" y1="285.60" x2="388.50" y2="285.60" stroke="#a2a2a2" stroke-width="1.0" />
<line x1="381.90" y1="294.20" x2="388.50" y2="294.20" stroke="#a2a2a2" stroke-width="1.0" />
<rect x="381.90" y="267.10" width="6.60" height="8.80" fill="#9010e0" />
<rect x="382.20" y="177.20" width="6.00" height="129.00" fill="none" stroke="#a3a3a3" stroke-width="0.6"/>
<text x="385.20" y="174.50" font-size="3.8" text-anchor="middle" font-weight="normal" fill="#333" >T</text>
<rect x="390.20" y="176.90" width="6.60" height="129.30" fill="#d9d9d9" />
<rect x="390.20" y="176.90" width="6.60" height="14.00" fill="#8c8c8c" />
<rect x="390.20" y="190.90" width="6.60" height="8.90" fill="#bcbcbc" />
<line x1="390.20" y1="202.20" x2="396.80" y2="202.20" stroke="#a2a2a2" stroke-width="1.0" />
<line x1="390.20" y1="204.40" x2="396.80" y2="204.40" stroke="#a2a2a2" stroke-width="1.0" />
<line x1="390.20" y1="206.60" x2="396.80" y2="206.60" stroke="#a2a2a2" stroke-width="1.0" />
<line x1="390.20" y1="208.80" x2="396.80" y2="208.80" stroke="#a2a2a2" stroke-width="1.0" />
<rect x="390.20" y="211.60" width="6.60" height="16.30" fill="#9010e0" />
<rect x="390.50" y="177.20" width="6.00" height="129.00" fill="none" stroke="#a3a3a3" stroke-width="0.6"/>
<text x="393.50" y="174.50" font-size="3.8" text-anchor="middle" font-weight="normal" fill="#333" >T</text>
<rect x="398.50" y="176.90" width="6.60" height="129.30" fill="#d9d9d9" />
<rect x="398.50" y="176.90" width="6.60" height="35.80" fill="#a4a4a4" />
<line x1="398.50" y1="215.20" x2="405.10" y2="215.20" stroke="#a2a2a2" stroke-width="1.0" />
<line x1="398.50" y1="217.40" x2="405.10" y2="217.40" stroke="#a2a2a2" stroke-width="1.0" />
<line x1="398.50" y1="219.62" x2="405.10" y2="219.62" stroke="#a2a2a2" stroke-width="1.0" />
<line x1="398.50" y1="221.86" x2="405.10" y2="221.86" stroke="#a2a2a2" stroke-width="1.0" />
<line x1="398.50" y1="224.14" x2="405.10" y2="224.14" stroke="#a2a2a2" stroke-width="1.0" />
<line x1="398.50" y1="226.46" x2="405.10" y2="226.46" stroke="#a2a2a2" stroke-width="1.0" />
<line x1="398.50" y1="228.83" x2="405.10" y2="228.83" stroke="#a2a2a2" stroke-width="1.0" />
<line x1="398.50" y1="231.28" x2="405.10" y2="231.28" stroke="#a2a2a2" stroke-width="1.0" />
<line x1="398.50" y1="233.82" x2="405.10" y2="233.82" stroke="#a2a2a2" stroke-width="1.0" />
<line x1="398.50" y1="236.46" x2="405.10" y2="236.46" stroke="#a2a2a2" stroke-width="1.0" />
<line x1="398.50" y1="239.24" x2="405.10" y2="239.24" stroke="#a2a2a2" stroke-width="1.0" />
<line x1="398.50" y1="242.00" x2="405.10" y2="242.00" stroke="#a2a2a2" stroke-width="1.0" />
<line x1="398.50" y1="245.30" x2="405.10" y2="245.30" stroke="#a2a2a2" stroke-width="1.0" />
<line x1="398.50" y1="248.60" x2="405.10" y2="248.60" stroke="#a2a2a2" stroke-width="1.0" />
<line x1="398.50" y1="251.20" x2="405.10" y2="251.20" stroke="#a2a2a2" stroke-width="1.0" />
<line x1="398.50" y1="254.50" x2="405.10" y2="254.50" stroke="#a2a2a2" stroke-width="1.0" />
<line x1="398.50" y1="257.80" x2="405.10" y2="257.80" stroke="#a2a2a2" stroke-width="1.0" />
<line x1="398.50" y1="261.10" x2="405.10" y2="261.10" stroke="#a2a2a2" stroke-width="1.0" />
<line x1="398.50" y1="265.40" x2="405.10" y2="265.40" stroke="#a2a2a2" stroke-width="1.0" />
<line x1="398.50" y1="270.60" x2="405.10" y2="270.60" stroke="#a2a2a2" stroke-width="1.0" />
<line x1="398.50" y1="276.30" x2="405.10" y2="276.30" stroke="#a2a2a2" stroke-width="1.0" />
<rect x="398.50" y="284.30" width="6.60" height="21.90" fill="#9010e0" />
<rect x="398.80" y="177.20" width="6.00" height="129.00" fill="none" stroke="#a3a3a3" stroke-width="0.6"/>
<text x="401.80" y="174.50" font-size="3.8" text-anchor="middle" font-weight="normal" fill="#333" >PB</text>
<line x1="380.90" y1="168.10" x2="403.70" y2="168.10" stroke="#222" stroke-width="1.1" />
<text x="393.40" y="164.80" font-size="3.8" text-anchor="middle" font-weight="normal" fill="#333" >MF32</text>
<rect x="409.90" y="176.90" width="6.60" height="129.30" fill="#d9d9d9" />
<rect x="409.90" y="176.90" width="6.60" height="23.10" fill="#bcbcbc" />
<line x1="409.90" y1="179.10" x2="416.50" y2="179.10" stroke="#a2a2a2" stroke-width="1.0" />
<line x1="409.90" y1="181.30" x2="416.50" y2="181.30" stroke="#a2a2a2" stroke-width="1.0" />
<line x1="409.90" y1="183.50" x2="416.50" y2="183.50" stroke="#a2a2a2" stroke-width="1.0" />
<line x1="409.90" y1="185.70" x2="416.50" y2="185.70" stroke="#a2a2a2" stroke-width="1.0" />
<line x1="409.90" y1="187.91" x2="416.50" y2="187.91" stroke="#a2a2a2" stroke-width="1.0" />
<line x1="409.90" y1="190.12" x2="416.50" y2="190.12" stroke="#a2a2a2" stroke-width="1.0" />
<line x1="409.90" y1="192.33" x2="416.50" y2="192.33" stroke="#a2a2a2" stroke-width="1.0" />
<line x1="409.90" y1="194.54" x2="416.50" y2="194.54" stroke="#a2a2a2" stroke-width="1.0" />
<line x1="409.90" y1="196.76" x2="416.50" y2="196.76" stroke="#a2a2a2" stroke-width="1.0" />
<line x1="409.90" y1="198.99" x2="416.50" y2="198.99" stroke="#a2a2a2" stroke-width="1.0" />
<line x1="409.90" y1="201.22" x2="416.50" y2="201.22" stroke="#a2a2a2" stroke-width="1.0" />
<line x1="409.90" y1="203.45" x2="416.50" y2="203.45" stroke="#a2a2a2" stroke-width="1.0" />
<line x1="409.90" y1="205.70" x2="416.50" y2="205.70" stroke="#a2a2a2" stroke-width="1.0" />
<line x1="409.90" y1="207.95" x2="416.50" y2="207.95" stroke="#a2a2a2" stroke-width="1.0" />
<line x1="409.90" y1="210.21" x2="416.50" y2="210.21" stroke="#a2a2a2" stroke-width="1.0" />
<line x1="409.90" y1="212.48" x2="416.50" y2="212.48" stroke="#a2a2a2" stroke-width="1.0" />
<line x1="409.90" y1="214.76" x2="416.50" y2="214.76" stroke="#a2a2a2" stroke-width="1.0" />
<line x1="409.90" y1="217.06" x2="416.50" y2="217.06" stroke="#a2a2a2" stroke-width="1.0" />
<line x1="409.90" y1="219.36" x2="416.50" y2="219.36" stroke="#a2a2a2" stroke-width="1.0" />
<line x1="409.90" y1="221.67" x2="416.50" y2="221.67" stroke="#a2a2a2" stroke-width="1.0" />
<line x1="409.90" y1="224.00" x2="416.50" y2="224.00" stroke="#a2a2a2" stroke-width="1.0" />
<line x1="409.90" y1="226.35" x2="416.50" y2="226.35" stroke="#a2a2a2" stroke-width="1.0" />
<line x1="409.90" y1="228.70" x2="416.50" y2="228.70" stroke="#a2a2a2" stroke-width="1.0" />
<line x1="409.90" y1="231.08" x2="416.50" y2="231.08" stroke="#a2a2a2" stroke-width="1.0" />
<line x1="409.90" y1="233.47" x2="416.50" y2="233.47" stroke="#a2a2a2" stroke-width="1.0" />
<line x1="409.90" y1="235.88" x2="416.50" y2="235.88" stroke="#a2a2a2" stroke-width="1.0" />
<line x1="409.90" y1="238.31" x2="416.50" y2="238.31" stroke="#a2a2a2" stroke-width="1.0" />
<line x1="409.90" y1="240.76" x2="416.50" y2="240.76" stroke="#a2a2a2" stroke-width="1.0" />
<line x1="409.90" y1="243.23" x2="416.50" y2="243.23" stroke="#a2a2a2" stroke-width="1.0" />
<line x1="409.90" y1="251.90" x2="416.50" y2="251.90" stroke="#a2a2a2" stroke-width="1.0" />
<line x1="409.90" y1="257.20" x2="416.50" y2="257.20" stroke="#a2a2a2" stroke-width="1.0" />
<line x1="409.90" y1="261.10" x2="416.50" y2="261.10" stroke="#a2a2a2" stroke-width="1.0" />
<line x1="409.90" y1="277.40" x2="416.50" y2="277.40" stroke="#a2a2a2" stroke-width="1.0" />
<line x1="409.90" y1="286.00" x2="416.50" y2="286.00" stroke="#a2a2a2" stroke-width="1.0" />
<line x1="409.90" y1="296.10" x2="416.50" y2="296.10" stroke="#a2a2a2" stroke-width="1.0" />
<rect x="409.90" y="245.30" width="6.60" height="5.00" fill="#0010f0" />
<rect x="409.90" y="263.80" width="6.60" height="6.80" fill="#9010e0" />
<rect x="410.20" y="177.20" width="6.00" height="129.00" fill="none" stroke="#a3a3a3" stroke-width="0.6"/>
<text x="413.20" y="174.50" font-size="3.8" text-anchor="middle" font-weight="normal" fill="#333" >P</text>
<rect x="418.20" y="176.90" width="6.60" height="129.30" fill="#d9d9d9" />
<rect x="418.20" y="176.90" width="6.60" height="26.80" fill="#a0a0a0" />
<line x1="418.20" y1="207.50" x2="424.80" y2="207.50" stroke="#a2a2a2" stroke-width="1.0" />
<line x1="418.20" y1="210.00" x2="424.80" y2="210.00" stroke="#a2a2a2" stroke-width="1.0" />
<line x1="418.20" y1="212.51" x2="424.80" y2="212.51" stroke="#a2a2a2" stroke-width="1.0" />
<line x1="418.20" y1="215.03" x2="424.80" y2="215.03" stroke="#a2a2a2" stroke-width="1.0" />
<line x1="418.20" y1="217.57" x2="424.80" y2="217.57" stroke="#a2a2a2" stroke-width="1.0" />
<line x1="418.20" y1="220.13" x2="424.80" y2="220.13" stroke="#a2a2a2" stroke-width="1.0" />
<line x1="418.20" y1="222.72" x2="424.80" y2="222.72" stroke="#a2a2a2" stroke-width="1.0" />
<line x1="418.20" y1="225.34" x2="424.80" y2="225.34" stroke="#a2a2a2" stroke-width="1.0" />
<line x1="418.20" y1="227.99" x2="424.80" y2="227.99" stroke="#a2a2a2" stroke-width="1.0" />
<line x1="418.20" y1="230.70" x2="424.80" y2="230.70" stroke="#a2a2a2" stroke-width="1.0" />
<line x1="418.20" y1="233.46" x2="424.80" y2="233.46" stroke="#a2a2a2" stroke-width="1.0" />
<line x1="418.20" y1="236.28" x2="424.80" y2="236.28" stroke="#a2a2a2" stroke-width="1.0" />
<line x1="418.20" y1="239.17" x2="424.80" y2="239.17" stroke="#a2a2a2" stroke-width="1.0" />
<line x1="418.20" y1="246.30" x2="424.80" y2="246.30" stroke="#a2a2a2" stroke-width="1.0" />
<line x1="418.20" y1="254.50" x2="424.80" y2="254.50" stroke="#a2a2a2" stroke-width="1.0" />
<rect x="418.20" y="264.80" width="6.60" height="13.90" fill="#9010e0" />
<rect x="418.50" y="177.20" width="6.00" height="129.00" fill="none" stroke="#a3a3a3" stroke-width="0.6"/>
<text x="421.50" y="174.50" font-size="3.8" text-anchor="middle" font-weight="normal" fill="#333" >T</text>
<rect x="426.50" y="176.90" width="6.60" height="129.30" fill="#d9d9d9" />
<rect x="426.50" y="176.90" width="6.60" height="28.10" fill="#ababab" />
<line x1="426.50" y1="208.50" x2="433.10" y2="208.50" stroke="#a2a2a2" stroke-width="1.0" />
<line x1="426.50" y1="211.00" x2="433.10" y2="211.00" stroke="#a2a2a2" stroke-width="1.0" />
<line x1="426.50" y1="213.51" x2="433.10" y2="213.51" stroke="#a2a2a2" stroke-width="1.0" />
<line x1="426.50" y1="216.03" x2="433.10" y2="216.03" stroke="#a2a2a2" stroke-width="1.0" />
<line x1="426.50" y1="218.57" x2="433.10" y2="218.57" stroke="#a2a2a2" stroke-width="1.0" />
<line x1="426.50" y1="221.14" x2="433.10" y2="221.14" stroke="#a2a2a2" stroke-width="1.0" />
<line x1="426.50" y1="223.73" x2="433.10" y2="223.73" stroke="#a2a2a2" stroke-width="1.0" />
<line x1="426.50" y1="226.36" x2="433.10" y2="226.36" stroke="#a2a2a2" stroke-width="1.0" />
<line x1="426.50" y1="229.03" x2="433.10" y2="229.03" stroke="#a2a2a2" stroke-width="1.0" />
<line x1="426.50" y1="231.74" x2="433.10" y2="231.74" stroke="#a2a2a2" stroke-width="1.0" />
<line x1="426.50" y1="234.52" x2="433.10" y2="234.52" stroke="#a2a2a2" stroke-width="1.0" />
<line x1="426.50" y1="237.36" x2="433.10" y2="237.36" stroke="#a2a2a2" stroke-width="1.0" />
<line x1="426.50" y1="243.30" x2="433.10" y2="243.30" stroke="#a2a2a2" stroke-width="1.0" />
<line x1="426.50" y1="247.30" x2="433.10" y2="247.30" stroke="#a2a2a2" stroke-width="1.0" />
<line x1="426.50" y1="252.20" x2="433.10" y2="252.20" stroke="#a2a2a2" stroke-width="1.0" />
<line x1="426.50" y1="256.50" x2="433.10" y2="256.50" stroke="#a2a2a2" stroke-width="1.0" />
<line x1="426.50" y1="261.10" x2="433.10" y2="261.10" stroke="#a2a2a2" stroke-width="1.0" />
<line x1="426.50" y1="280.30" x2="433.10" y2="280.30" stroke="#a2a2a2" stroke-width="1.0" />
<rect x="426.50" y="267.70" width="6.60" height="5.30" fill="#0010f0" />
<rect x="426.50" y="287.80" width="6.60" height="18.40" fill="#9010e0" />
<rect x="426.80" y="177.20" width="6.00" height="129.00" fill="none" stroke="#a3a3a3" stroke-width="0.6"/>
<text x="429.80" y="174.50" font-size="3.8" text-anchor="middle" font-weight="normal" fill="#333" >PB</text>
<line x1="408.90" y1="168.10" x2="431.70" y2="168.10" stroke="#222" stroke-width="1.1" />
<text x="421.40" y="164.80" font-size="3.8" text-anchor="middle" font-weight="normal" fill="#333" >MF38</text>
<rect x="437.90" y="176.90" width="6.60" height="129.30" fill="#d9d9d9" />
<rect x="437.90" y="176.90" width="6.60" height="33.40" fill="#a8a8a8" />
<line x1="437.90" y1="213.50" x2="444.50" y2="213.50" stroke="#a2a2a2" stroke-width="1.0" />
<line x1="437.90" y1="216.00" x2="444.50" y2="216.00" stroke="#a2a2a2" stroke-width="1.0" />
<line x1="437.90" y1="218.51" x2="444.50" y2="218.51" stroke="#a2a2a2" stroke-width="1.0" />
<line x1="437.90" y1="221.03" x2="444.50" y2="221.03" stroke="#a2a2a2" stroke-width="1.0" />
<line x1="437.90" y1="223.56" x2="444.50" y2="223.56" stroke="#a2a2a2" stroke-width="1.0" />
<line x1="437.90" y1="226.12" x2="444.50" y2="226.12" stroke="#a2a2a2" stroke-width="1.0" />
<line x1="437.90" y1="228.69" x2="444.50" y2="228.69" stroke="#a2a2a2" stroke-width="1.0" />
<line x1="437.90" y1="231.30" x2="444.50" y2="231.30" stroke="#a2a2a2" stroke-width="1.0" />
<line x1="437.90" y1="233.94" x2="444.50" y2="233.94" stroke="#a2a2a2" stroke-width="1.0" />
<line x1="437.90" y1="236.62" x2="444.50" y2="236.62" stroke="#a2a2a2" stroke-width="1.0" />
<line x1="437.90" y1="239.35" x2="444.50" y2="239.35" stroke="#a2a2a2" stroke-width="1.0" />
<line x1="437.90" y1="242.14" x2="444.50" y2="242.14" stroke="#a2a2a2" stroke-width="1.0" />
<line x1="437.90" y1="244.98" x2="444.50" y2="244.98" stroke="#a2a2a2" stroke-width="1.0" />
<line x1="437.90" y1="247.90" x2="444.50" y2="247.90" stroke="#a2a2a2" stroke-width="1.0" />
<line x1="437.90" y1="250.90" x2="444.50" y2="250.90" stroke="#a2a2a2" stroke-width="1.0" />
<line x1="437.90" y1="261.80" x2="444.50" y2="261.80" stroke="#a2a2a2" stroke-width="1.0" />
<line x1="437.90" y1="265.40" x2="444.50" y2="265.40" stroke="#a2a2a2" stroke-width="1.0" />
<line x1="437.90" y1="268.80" x2="444.50" y2="268.80" stroke="#a2a2a2" stroke-width="1.0" />
<line x1="437.90" y1="273.70" x2="444.50" y2="273.70" stroke="#a2a2a2" stroke-width="1.0" />
<line x1="437.90" y1="278.60" x2="444.50" y2="278.60" stroke="#a2a2a2" stroke-width="1.0" />
<line x1="437.90" y1="285.60" x2="444.50" y2="285.60" stroke="#a2a2a2" stroke-width="1.0" />
<rect x="437.90" y="255.20" width="6.60" height="3.60" fill="#0010f0" />
<rect x="437.90" y="293.50" width="6.60" height="12.70" fill="#9010e0" />
<rect x="438.20" y="177.20" width="6.00" height="129.00" fill="none" stroke="#a3a3a3" stroke-width="0.6"/>
<text x="441.20" y="174.50" font-size="3.8" text-anchor="middle" font-weight="normal" fill="#333" >P</text>
<rect x="446.20" y="176.90" width="6.60" height="129.30" fill="#d9d9d9" />
<rect x="446.20" y="176.90" width="6.60" height="28.80" fill="#a8a8a8" />
<line x1="446.20" y1="209.60" x2="452.80" y2="209.60" stroke="#a2a2a2" stroke-width="1.0" />
<line x1="446.20" y1="212.20" x2="452.80" y2="212.20" stroke="#a2a2a2" stroke-width="1.0" />
<line x1="446.20" y1="214.81" x2="452.80" y2="214.81" stroke="#a2a2a2" stroke-width="1.0" />
<line x1="446.20" y1="217.43" x2="452.80" y2="217.43" stroke="#a2a2a2" stroke-width="1.0" />
<line x1="446.20" y1="220.07" x2="452.80" y2="220.07" stroke="#a2a2a2" stroke-width="1.0" />
<line x1="446.20" y1="222.74" x2="452.80" y2="222.74" stroke="#a2a2a2" stroke-width="1.0" />
<line x1="446.20" y1="225.43" x2="452.80" y2="225.43" stroke="#a2a2a2" stroke-width="1.0" />
<line x1="446.20" y1="228.16" x2="452.80" y2="228.16" stroke="#a2a2a2" stroke-width="1.0" />
<line x1="446.20" y1="230.92" x2="452.80" y2="230.92" stroke="#a2a2a2" stroke-width="1.0" />
<line x1="446.20" y1="233.74" x2="452.80" y2="233.74" stroke="#a2a2a2" stroke-width="1.0" />
<line x1="446.20" y1="236.61" x2="452.80" y2="236.61" stroke="#a2a2a2" stroke-width="1.0" />
<line x1="446.20" y1="245.30" x2="452.80" y2="245.30" stroke="#a2a2a2" stroke-width="1.0" />
<line x1="446.20" y1="249.50" x2="452.80" y2="249.50" stroke="#a2a2a2" stroke-width="1.0" />
<line x1="446.20" y1="253.50" x2="452.80" y2="253.50" stroke="#a2a2a2" stroke-width="1.0" />
<line x1="446.20" y1="258.50" x2="452.80" y2="258.50" stroke="#a2a2a2" stroke-width="1.0" />
<line x1="446.20" y1="270.10" x2="452.80" y2="270.10" stroke="#a2a2a2" stroke-width="1.0" />
<rect x="446.20" y="239.10" width="6.60" height="2.50" fill="#e60000" />
<rect x="446.20" y="286.90" width="6.60" height="19.30" fill="#9010e0" />
<rect x="446.50" y="177.20" width="6.00" height="129.00" fill="none" stroke="#a3a3a3" stroke-width="0.6"/>
<text x="449.50" y="174.50" font-size="3.8" text-anchor="middle" font-weight="normal" fill="#333" >T</text>
<rect x="454.50" y="176.90" width="6.60" height="129.30" fill="#d9d9d9" />
<line x1="454.50" y1="179.50" x2="461.10" y2="179.50" stroke="#a2a2a2" stroke-width="1.0" />
<line x1="454.50" y1="182.10" x2="461.10" y2="182.10" stroke="#a2a2a2" stroke-width="1.0" />
<line x1="454.50" y1="184.70" x2="461.10" y2="184.70" stroke="#a2a2a2" stroke-width="1.0" />
<line x1="454.50" y1="187.31" x2="461.10" y2="187.31" stroke="#a2a2a2" stroke-width="1.0" />
<line x1="454.50" y1="189.92" x2="461.10" y2="189.92" stroke="#a2a2a2" stroke-width="1.0" />
<line x1="454.50" y1="192.54" x2="461.10" y2="192.54" stroke="#a2a2a2" stroke-width="1.0" />
<line x1="454.50" y1="195.16" x2="461.10" y2="195.16" stroke="#a2a2a2" stroke-width="1.0" />
<line x1="454.50" y1="197.79" x2="461.10" y2="197.79" stroke="#a2a2a2" stroke-width="1.0" />
<line x1="454.50" y1="200.43" x2="461.10" y2="200.43" stroke="#a2a2a2" stroke-width="1.0" />
<line x1="454.50" y1="203.09" x2="461.10" y2="203.09" stroke="#a2a2a2" stroke-width="1.0" />
<line x1="454.50" y1="205.76" x2="461.10" y2="205.76" stroke="#a2a2a2" stroke-width="1.0" />
<line x1="454.50" y1="208.44" x2="461.10" y2="208.44" stroke="#a2a2a2" stroke-width="1.0" />
<line x1="454.50" y1="211.13" x2="461.10" y2="211.13" stroke="#a2a2a2" stroke-width="1.0" />
<line x1="454.50" y1="213.85" x2="461.10" y2="213.85" stroke="#a2a2a2" stroke-width="1.0" />
<line x1="454.50" y1="216.59" x2="461.10" y2="216.59" stroke="#a2a2a2" stroke-width="1.0" />
<line x1="454.50" y1="219.34" x2="461.10" y2="219.34" stroke="#a2a2a2" stroke-width="1.0" />
<line x1="454.50" y1="226.00" x2="461.10" y2="226.00" stroke="#a2a2a2" stroke-width="1.0" />
<line x1="454.50" y1="230.00" x2="461.10" y2="230.00" stroke="#a2a2a2" stroke-width="1.0" />
<line x1="454.50" y1="242.60" x2="461.10" y2="242.60" stroke="#a2a2a2" stroke-width="1.0" />
<line x1="454.50" y1="246.60" x2="461.10" y2="246.60" stroke="#a2a2a2" stroke-width="1.0" />
<line x1="454.50" y1="251.90" x2="461.10" y2="251.90" stroke="#a2a2a2" stroke-width="1.0" />
<line x1="454.50" y1="255.90" x2="461.10" y2="255.90" stroke="#a2a2a2" stroke-width="1.0" />
<line x1="454.50" y1="261.10" x2="461.10" y2="261.10" stroke="#a2a2a2" stroke-width="1.0" />
<line x1="454.50" y1="265.10" x2="461.10" y2="265.10" stroke="#a2a2a2" stroke-width="1.0" />
<line x1="454.50" y1="269.30" x2="461.10" y2="269.30" stroke="#a2a2a2" stroke-width="1.0" />
<line x1="454.50" y1="284.70" x2="461.10" y2="284.70" stroke="#a2a2a2" stroke-width="1.0" />
<rect x="454.50" y="234.10" width="6.60" height="4.00" fill="#9010e0" />
<rect x="454.50" y="273.70" width="6.60" height="3.90" fill="#e60000" />
<rect x="454.50" y="293.10" width="6.60" height="13.10" fill="#0010f0" />
<rect x="454.80" y="177.20" width="6.00" height="129.00" fill="none" stroke="#a3a3a3" stroke-width="0.6"/>
<text x="457.80" y="174.50" font-size="3.8" text-anchor="middle" font-weight="normal" fill="#333" >PB</text>
<line x1="436.90" y1="168.10" x2="459.70" y2="168.10" stroke="#222" stroke-width="1.1" />
<text x="449.40" y="164.80" font-size="3.8" text-anchor="middle" font-weight="normal" fill="#333" >MF40</text>
<path d="M265.9 306.5h1.6M265.9 304.5h1.6M265.9 302.5h1.6M265.9 300.5h1.6M265.9 298.5h1.6M265.9 296.5h1.6M265.9 294.5h1.6M265.9 292.5h1.6M265.9 290.5h1.6M265.9 288.5h1.6M265.9 286.5h1.6M265.9 284.5h1.6M265.9 282.5h1.6M265.9 280.5h1.6M265.9 278.5h1.6M265.9 276.5h1.6M265.9 274.5h1.6M265.9 272.5h1.6M265.9 270.5h1.6M265.9 268.5h1.6M265.9 266.5h1.6M265.9 264.5h1.6M265.9 262.5h1.6M265.9 260.5h1.6M265.9 258.5h1.6M265.9 256.5h1.6M265.9 254.5h1.6M265.9 252.5h1.6M265.9 250.5h1.6M265.9 248.5h1.6M265.9 246.5h1.6M265.9 244.5h1.6M265.9 242.5h1.6M265.9 240.5h1.6M265.9 238.5h1.6M265.9 236.5h1.6M265.9 234.5h1.6M265.9 232.5h1.6M265.9 230.5h1.6M265.9 228.5h1.6M265.9 226.5h1.6M265.9 224.5h1.6M265.9 222.5h1.6M265.9 220.5h1.6M265.9 218.5h1.6M265.9 216.5h1.6M265.9 214.5h1.6M265.9 212.5h1.6M265.9 210.5h1.6M265.9 208.5h1.6M265.9 206.5h1.6M265.9 204.5h1.6M265.9 202.5h1.6M265.9 200.5h1.6M265.9 198.5h1.6M265.9 196.5h1.6M265.9 194.5h1.6M265.9 192.5h1.6M265.9 190.5h1.6M265.9 188.5h1.6M265.9 186.5h1.6M265.9 184.5h1.6M265.9 182.5h1.6M265.9 180.5h1.6M265.9 178.5h1.6" stroke="#000" stroke-width="1" fill="none"/>
<line x1="267.90" y1="174.20" x2="267.90" y2="306.80" stroke="#000" stroke-width="1.2" />
<line x1="264.70" y1="306.20" x2="267.90" y2="306.20" stroke="#000" stroke-width="0.8" />
<text x="262.00" y="307.70" font-size="5.5" text-anchor="end" font-weight="normal" fill="#222" >0</text>
<line x1="264.70" y1="280.34" x2="267.90" y2="280.34" stroke="#000" stroke-width="0.8" />
<text x="262.00" y="281.84" font-size="5.5" text-anchor="end" font-weight="normal" fill="#222" >20</text>
<line x1="264.70" y1="254.48" x2="267.90" y2="254.48" stroke="#000" stroke-width="0.8" />
<text x="262.00" y="255.98" font-size="5.5" text-anchor="end" font-weight="normal" fill="#222" >40</text>
<line x1="264.70" y1="228.62" x2="267.90" y2="228.62" stroke="#000" stroke-width="0.8" />
<text x="262.00" y="230.12" font-size="5.5" text-anchor="end" font-weight="normal" fill="#222" >60</text>
<line x1="264.70" y1="202.76" x2="267.90" y2="202.76" stroke="#000" stroke-width="0.8" />
<text x="262.00" y="204.26" font-size="5.5" text-anchor="end" font-weight="normal" fill="#222" >80</text>
<line x1="264.70" y1="176.90" x2="267.90" y2="176.90" stroke="#000" stroke-width="0.8" />
<text x="262.00" y="178.40" font-size="5.5" text-anchor="end" font-weight="normal" fill="#222" >100</text>
<line x1="267.30" y1="306.20" x2="462.40" y2="306.20" stroke="#000" stroke-width="1.2" />
<text x="247.50" y="240.80" font-size="7" text-anchor="middle" font-weight="normal" fill="#111" transform="rotate(-90 247.50 240.80)" textLength="70" lengthAdjust="spacingAndGlyphs" >TCRβ relative frequency %</text>
<rect x="267.90" y="312.40" width="10.00" height="6.00" fill="#e60000" stroke="#333" stroke-width="0.6"/>
<text x="281.10" y="316.60" font-size="4.6" text-anchor="start" font-weight="normal" fill="#222" textLength="23.7" lengthAdjust="spacingAndGlyphs" >Tumor to PB</text>
<rect x="314.20" y="312.40" width="10.00" height="6.00" fill="#0010f0" stroke="#333" stroke-width="0.6"/>
<text x="327.40" y="316.60" font-size="4.6" text-anchor="start" font-weight="normal" fill="#222" textLength="25" lengthAdjust="spacingAndGlyphs" >Plaque to PB</text>
<rect x="361.90" y="312.40" width="10.00" height="6.00" fill="#9010e0" stroke="#333" stroke-width="0.6"/>
<text x="375.10" y="316.60" font-size="4.6" text-anchor="start" font-weight="normal" fill="#222" textLength="37.2" lengthAdjust="spacingAndGlyphs" >Skin lesions and PB</text>
<rect x="422.00" y="312.40" width="10.00" height="6.00" fill="#d9d9d9" stroke="#333" stroke-width="0.6"/>
<text x="435.20" y="316.60" font-size="4.6" text-anchor="start" font-weight="normal" fill="#222" textLength="56.2" lengthAdjust="spacingAndGlyphs" >Non-overlapping clonotypes</text>
<rect x="270.90" y="351.90" width="6.40" height="136.70" fill="#d9d9d9" />
<line x1="270.90" y1="374.50" x2="277.30" y2="374.50" stroke="#a2a2a2" stroke-width="1.0" />
<line x1="270.90" y1="397.50" x2="277.30" y2="397.50" stroke="#a2a2a2" stroke-width="1.0" />
<line x1="270.90" y1="420.40" x2="277.30" y2="420.40" stroke="#a2a2a2" stroke-width="1.0" />
<line x1="270.90" y1="443.40" x2="277.30" y2="443.40" stroke="#a2a2a2" stroke-width="1.0" />
<rect x="271.20" y="352.20" width="5.80" height="136.40" fill="none" stroke="#a3a3a3" stroke-width="0.6"/>
<text x="274.10" y="349.20" font-size="3.9" text-anchor="middle" font-weight="normal" fill="#333" >P1</text>
<rect x="280.58" y="351.90" width="6.40" height="136.70" fill="#d9d9d9" />
<rect x="280.58" y="351.90" width="6.40" height="30.00" fill="#858585" />
<rect x="280.58" y="381.90" width="6.40" height="22.00" fill="#b0b0b0" />
<rect x="280.58" y="403.90" width="6.40" height="5.10" fill="#c4c4c4" />
<line x1="280.58" y1="413.50" x2="286.98" y2="413.50" stroke="#a2a2a2" stroke-width="1.0" />
<line x1="280.58" y1="419.50" x2="286.98" y2="419.50" stroke="#a2a2a2" stroke-width="1.0" />
<line x1="280.58" y1="421.50" x2="286.98" y2="421.50" stroke="#a2a2a2" stroke-width="1.0" />
<line x1="280.58" y1="423.50" x2="286.98" y2="423.50" stroke="#a2a2a2" stroke-width="1.0" />
<line x1="280.58" y1="435.00" x2="286.98" y2="435.00" stroke="#a2a2a2" stroke-width="1.0" />
<line x1="280.58" y1="441.50" x2="286.98" y2="441.50" stroke="#a2a2a2" stroke-width="1.0" />
<line x1="280.58" y1="445.50" x2="286.98" y2="445.50" stroke="#a2a2a2" stroke-width="1.0" />
<line x1="280.58" y1="462.40" x2="286.98" y2="462.40" stroke="#a2a2a2" stroke-width="1.0" />
<rect x="280.58" y="410.30" width="6.40" height="1.50" fill="#e88a2a" />
<rect x="280.58" y="415.50" width="6.40" height="1.80" fill="#0010f0" />
<rect x="280.58" y="426.40" width="6.40" height="6.30" fill="#e60000" />
<rect x="280.88" y="352.20" width="5.80" height="136.40" fill="none" stroke="#a3a3a3" stroke-width="0.6"/>
<text x="283.78" y="349.20" font-size="3.9" text-anchor="middle" font-weight="normal" fill="#333" >T2</text>
<rect x="290.26" y="351.90" width="6.40" height="136.70" fill="#d9d9d9" />
<rect x="290.26" y="351.90" width="6.40" height="36.10" fill="#999999" />
<rect x="290.26" y="388.00" width="6.40" height="15.90" fill="#c0c0c0" />
<line x1="290.26" y1="410.50" x2="296.66" y2="410.50" stroke="#a2a2a2" stroke-width="1.0" />
<line x1="290.26" y1="413.00" x2="296.66" y2="413.00" stroke="#a2a2a2" stroke-width="1.0" />
<line x1="290.26" y1="416.00" x2="296.66" y2="416.00" stroke="#a2a2a2" stroke-width="1.0" />
<line x1="290.26" y1="419.60" x2="296.66" y2="419.60" stroke="#a2a2a2" stroke-width="1.0" />
<line x1="290.26" y1="424.90" x2="296.66" y2="424.90" stroke="#a2a2a2" stroke-width="1.0" />
<line x1="290.26" y1="446.40" x2="296.66" y2="446.40" stroke="#a2a2a2" stroke-width="1.0" />
<rect x="290.26" y="405.90" width="6.40" height="2.70" fill="#a8f4f4" />
<rect x="290.26" y="426.90" width="6.40" height="7.30" fill="#e60000" />
<rect x="290.56" y="352.20" width="5.80" height="136.40" fill="none" stroke="#a3a3a3" stroke-width="0.6"/>
<text x="293.46" y="349.20" font-size="3.9" text-anchor="middle" font-weight="normal" fill="#333" >P3</text>
<rect x="299.94" y="351.90" width="6.40" height="136.70" fill="#d9d9d9" />
<line x1="299.94" y1="358.30" x2="306.34" y2="358.30" stroke="#a2a2a2" stroke-width="1.0" />
<line x1="299.94" y1="364.70" x2="306.34" y2="364.70" stroke="#a2a2a2" stroke-width="1.0" />
<line x1="299.94" y1="371.70" x2="306.34" y2="371.70" stroke="#a2a2a2" stroke-width="1.0" />
<line x1="299.94" y1="378.10" x2="306.34" y2="378.10" stroke="#a2a2a2" stroke-width="1.0" />
<line x1="299.94" y1="384.40" x2="306.34" y2="384.40" stroke="#a2a2a2" stroke-width="1.0" />
<line x1="299.94" y1="390.70" x2="306.34" y2="390.70" stroke="#a2a2a2" stroke-width="1.0" />
<line x1="299.94" y1="397.50" x2="306.34" y2="397.50" stroke="#a2a2a2" stroke-width="1.0" />
<line x1="299.94" y1="403.90" x2="306.34" y2="403.90" stroke="#a2a2a2" stroke-width="1.0" />
<line x1="299.94" y1="410.50" x2="306.34" y2="410.50" stroke="#a2a2a2" stroke-width="1.0" />
<line x1="299.94" y1="417.10" x2="306.34" y2="417.10" stroke="#a2a2a2" stroke-width="1.0" />
<line x1="299.94" y1="423.70" x2="306.34" y2="423.70" stroke="#a2a2a2" stroke-width="1.0" />
<line x1="299.94" y1="430.30" x2="306.34" y2="430.30" stroke="#a2a2a2" stroke-width="1.0" />
<line x1="299.94" y1="436.90" x2="306.34" y2="436.90" stroke="#a2a2a2" stroke-width="1.0" />
<line x1="299.94" y1="443.40" x2="306.34" y2="443.40" stroke="#a2a2a2" stroke-width="1.0" />
<line x1="299.94" y1="449.90" x2="306.34" y2="449.90" stroke="#a2a2a2" stroke-width="1.0" />
<line x1="299.94" y1="456.60" x2="306.34" y2="456.60" stroke="#a2a2a2" stroke-width="1.0" />
<line x1="299.94" y1="463.00" x2="306.34" y2="463.00" stroke="#a2a2a2" stroke-width="1.0" />
<line x1="299.94" y1="476.00" x2="306.34" y2="476.00" stroke="#a2a2a2" stroke-width="1.0" />
<rect x="300.24" y="352.20" width="5.80" height="136.40" fill="none" stroke="#a3a3a3" stroke-width="0.6"/>
<text x="303.14" y="349.20" font-size="3.9" text-anchor="middle" font-weight="normal" fill="#333" >P8</text>
<rect x="309.62" y="351.90" width="6.40" height="136.70" fill="#d9d9d9" />
<rect x="309.62" y="351.90" width="6.40" height="1.30" fill="#202020" />
<line x1="309.62" y1="355.10" x2="316.02" y2="355.10" stroke="#a2a2a2" stroke-width="1.0" />
<line x1="309.62" y1="356.72" x2="316.02" y2="356.72" stroke="#a2a2a2" stroke-width="1.0" />
<line x1="309.62" y1="358.38" x2="316.02" y2="358.38" stroke="#a2a2a2" stroke-width="1.0" />
<line x1="309.62" y1="360.15" x2="316.02" y2="360.15" stroke="#a2a2a2" stroke-width="1.0" />
<line x1="309.62" y1="362.06" x2="316.02" y2="362.06" stroke="#a2a2a2" stroke-width="1.0" />
<line x1="309.62" y1="365.50" x2="316.02" y2="365.50" stroke="#a2a2a2" stroke-width="1.0" />
<rect x="309.62" y="412.90" width="6.40" height="75.70" fill="#8a0000" />
<rect x="309.92" y="352.20" width="5.80" height="136.40" fill="none" stroke="#a3a3a3" stroke-width="0.6"/>
<text x="312.82" y="349.20" font-size="3.9" text-anchor="middle" font-weight="normal" fill="#333" >T4</text>
<rect x="319.30" y="351.90" width="6.40" height="136.70" fill="#d9d9d9" />
<rect x="319.30" y="351.90" width="6.40" height="7.70" fill="#8a8a8a" />
<rect x="319.30" y="359.60" width="6.40" height="11.40" fill="#aaaaaa" />
<rect x="319.30" y="371.00" width="6.40" height="6.50" fill="#c8c8c8" />
<line x1="319.30" y1="386.30" x2="325.70" y2="386.30" stroke="#a2a2a2" stroke-width="1.0" />
<rect x="319.30" y="362.00" width="6.40" height="1.40" fill="#f2e830" />
<rect x="319.30" y="371.20" width="6.40" height="2.00" fill="#5cb82e" />
<rect x="319.30" y="377.50" width="6.40" height="2.00" fill="#9010e0" />
<rect x="319.30" y="379.50" width="6.40" height="2.20" fill="#e60000" />
<rect x="319.30" y="381.70" width="6.40" height="0.80" fill="#a8f4f4" />
<rect x="319.60" y="352.20" width="5.80" height="136.40" fill="none" stroke="#a3a3a3" stroke-width="0.6"/>
<text x="322.50" y="349.20" font-size="3.9" text-anchor="middle" font-weight="normal" fill="#333" >P5</text>
<rect x="328.98" y="351.90" width="6.40" height="136.70" fill="#d9d9d9" />
<rect x="328.98" y="351.90" width="6.40" height="61.40" fill="#a8a8a8" />
<line x1="328.98" y1="416.50" x2="335.38" y2="416.50" stroke="#a2a2a2" stroke-width="1.0" />
<line x1="328.98" y1="419.00" x2="335.38" y2="419.00" stroke="#a2a2a2" stroke-width="1.0" />
<line x1="328.98" y1="421.51" x2="335.38" y2="421.51" stroke="#a2a2a2" stroke-width="1.0" />
<line x1="328.98" y1="424.02" x2="335.38" y2="424.02" stroke="#a2a2a2" stroke-width="1.0" />
<line x1="328.98" y1="426.54" x2="335.38" y2="426.54" stroke="#a2a2a2" stroke-width="1.0" />
<line x1="328.98" y1="429.07" x2="335.38" y2="429.07" stroke="#a2a2a2" stroke-width="1.0" />
<line x1="328.98" y1="431.62" x2="335.38" y2="431.62" stroke="#a2a2a2" stroke-width="1.0" />
<line x1="328.98" y1="434.18" x2="335.38" y2="434.18" stroke="#a2a2a2" stroke-width="1.0" />
<line x1="328.98" y1="436.77" x2="335.38" y2="436.77" stroke="#a2a2a2" stroke-width="1.0" />
<line x1="328.98" y1="439.38" x2="335.38" y2="439.38" stroke="#a2a2a2" stroke-width="1.0" />
<line x1="328.98" y1="442.02" x2="335.38" y2="442.02" stroke="#a2a2a2" stroke-width="1.0" />
<line x1="328.98" y1="444.68" x2="335.38" y2="444.68" stroke="#a2a2a2" stroke-width="1.0" />
<line x1="328.98" y1="447.39" x2="335.38" y2="447.39" stroke="#a2a2a2" stroke-width="1.0" />
<line x1="328.98" y1="450.13" x2="335.38" y2="450.13" stroke="#a2a2a2" stroke-width="1.0" />
<line x1="328.98" y1="452.91" x2="335.38" y2="452.91" stroke="#a2a2a2" stroke-width="1.0" />
<line x1="328.98" y1="455.75" x2="335.38" y2="455.75" stroke="#a2a2a2" stroke-width="1.0" />
<line x1="328.98" y1="458.63" x2="335.38" y2="458.63" stroke="#a2a2a2" stroke-width="1.0" />
<line x1="328.98" y1="461.58" x2="335.38" y2="461.58" stroke="#a2a2a2" stroke-width="1.0" />
<line x1="328.98" y1="464.59" x2="335.38" y2="464.59" stroke="#a2a2a2" stroke-width="1.0" />
<line x1="328.98" y1="467.68" x2="335.38" y2="467.68" stroke="#a2a2a2" stroke-width="1.0" />
<line x1="328.98" y1="470.86" x2="335.38" y2="470.86" stroke="#a2a2a2" stroke-width="1.0" />
<line x1="328.98" y1="474.12" x2="335.38" y2="474.12" stroke="#a2a2a2" stroke-width="1.0" />
<line x1="328.98" y1="477.49" x2="335.38" y2="477.49" stroke="#a2a2a2" stroke-width="1.0" />
<rect x="328.98" y="359.10" width="6.40" height="1.90" fill="#a8f4f4" />
<rect x="328.98" y="370.40" width="6.40" height="1.60" fill="url(#hr)" />
<rect x="328.98" y="424.50" width="6.40" height="1.90" fill="#5cb82e" />
<rect x="328.98" y="443.40" width="6.40" height="3.30" fill="#9010e0" />
<rect x="328.98" y="477.80" width="6.40" height="10.80" fill="#e60000" />
<rect x="329.28" y="352.20" width="5.80" height="136.40" fill="none" stroke="#a3a3a3" stroke-width="0.6"/>
<text x="332.18" y="349.20" font-size="3.9" text-anchor="middle" font-weight="normal" fill="#333" >PB1</text>
<rect x="338.66" y="351.90" width="6.40" height="136.70" fill="#d9d9d9" />
<rect x="338.66" y="351.90" width="6.40" height="31.00" fill="#a8a8a8" />
<line x1="338.66" y1="386.20" x2="345.06" y2="386.20" stroke="#a2a2a2" stroke-width="1.0" />
<line x1="338.66" y1="388.40" x2="345.06" y2="388.40" stroke="#a2a2a2" stroke-width="1.0" />
<line x1="338.66" y1="390.61" x2="345.06" y2="390.61" stroke="#a2a2a2" stroke-width="1.0" />
<line x1="338.66" y1="392.82" x2="345.06" y2="392.82" stroke="#a2a2a2" stroke-width="1.0" />
<line x1="338.66" y1="395.04" x2="345.06" y2="395.04" stroke="#a2a2a2" stroke-width="1.0" />
<line x1="338.66" y1="397.28" x2="345.06" y2="397.28" stroke="#a2a2a2" stroke-width="1.0" />
<line x1="338.66" y1="399.53" x2="345.06" y2="399.53" stroke="#a2a2a2" stroke-width="1.0" />
<line x1="338.66" y1="401.81" x2="345.06" y2="401.81" stroke="#a2a2a2" stroke-width="1.0" />
<line x1="338.66" y1="404.11" x2="345.06" y2="404.11" stroke="#a2a2a2" stroke-width="1.0" />
<line x1="338.66" y1="406.43" x2="345.06" y2="406.43" stroke="#a2a2a2" stroke-width="1.0" />
<line x1="338.66" y1="408.79" x2="345.06" y2="408.79" stroke="#a2a2a2" stroke-width="1.0" />
<line x1="338.66" y1="411.18" x2="345.06" y2="411.18" stroke="#a2a2a2" stroke-width="1.0" />
<line x1="338.66" y1="413.61" x2="345.06" y2="413.61" stroke="#a2a2a2" stroke-width="1.0" />
<line x1="338.66" y1="416.09" x2="345.06" y2="416.09" stroke="#a2a2a2" stroke-width="1.0" />
<line x1="338.66" y1="418.62" x2="345.06" y2="418.62" stroke="#a2a2a2" stroke-width="1.0" />
<line x1="338.66" y1="427.50" x2="345.06" y2="427.50" stroke="#a2a2a2" stroke-width="1.0" />
<rect x="338.66" y="455.50" width="6.40" height="0.90" fill="#a8f4f4" />
<rect x="338.66" y="413.80" width="6.40" height="1.90" fill="#f2e830" />
<rect x="338.66" y="419.10" width="6.40" height="3.70" fill="url(#hr)" />
<rect x="338.66" y="434.20" width="6.40" height="7.20" fill="url(#hg)" />
<rect x="338.66" y="456.40" width="6.40" height="32.20" fill="#e60000" />
<rect x="338.96" y="352.20" width="5.80" height="136.40" fill="none" stroke="#a3a3a3" stroke-width="0.6"/>
<text x="341.86" y="349.20" font-size="3.9" text-anchor="middle" font-weight="normal" fill="#333" >T6</text>
<rect x="348.34" y="351.90" width="6.40" height="136.70" fill="#d9d9d9" />
<rect x="348.34" y="351.90" width="6.40" height="12.00" fill="#777777" />
<rect x="348.34" y="363.90" width="6.40" height="12.10" fill="#b0b0b0" />
<line x1="348.34" y1="378.50" x2="354.74" y2="378.50" stroke="#a2a2a2" stroke-width="1.0" />
<line x1="348.34" y1="381.00" x2="354.74" y2="381.00" stroke="#a2a2a2" stroke-width="1.0" />
<line x1="348.34" y1="383.52" x2="354.74" y2="383.52" stroke="#a2a2a2" stroke-width="1.0" />
<line x1="348.34" y1="386.07" x2="354.74" y2="386.07" stroke="#a2a2a2" stroke-width="1.0" />
<line x1="348.34" y1="388.64" x2="354.74" y2="388.64" stroke="#a2a2a2" stroke-width="1.0" />
<line x1="348.34" y1="391.27" x2="354.74" y2="391.27" stroke="#a2a2a2" stroke-width="1.0" />
<line x1="348.34" y1="393.95" x2="354.74" y2="393.95" stroke="#a2a2a2" stroke-width="1.0" />
<line x1="348.34" y1="396.70" x2="354.74" y2="396.70" stroke="#a2a2a2" stroke-width="1.0" />
<line x1="348.34" y1="399.54" x2="354.74" y2="399.54" stroke="#a2a2a2" stroke-width="1.0" />
<rect x="348.34" y="383.30" width="6.40" height="1.70" fill="#f2e830" />
<rect x="348.34" y="400.70" width="6.40" height="87.90" fill="#e60000" />
<rect x="348.64" y="352.20" width="5.80" height="136.40" fill="none" stroke="#a3a3a3" stroke-width="0.6"/>
<text x="351.54" y="349.20" font-size="3.9" text-anchor="middle" font-weight="normal" fill="#333" >T7</text>
<rect x="358.02" y="351.90" width="6.40" height="136.70" fill="#d9d9d9" />
<rect x="358.02" y="351.90" width="6.40" height="59.90" fill="#a8a8a8" />
<rect x="358.02" y="411.80" width="6.40" height="26.80" fill="#bdbdbd" />
<line x1="358.02" y1="441.80" x2="364.42" y2="441.80" stroke="#a2a2a2" stroke-width="1.0" />
<line x1="358.02" y1="444.60" x2="364.42" y2="444.60" stroke="#a2a2a2" stroke-width="1.0" />
<line x1="358.02" y1="447.41" x2="364.42" y2="447.41" stroke="#a2a2a2" stroke-width="1.0" />
<line x1="358.02" y1="450.24" x2="364.42" y2="450.24" stroke="#a2a2a2" stroke-width="1.0" />
<line x1="358.02" y1="453.08" x2="364.42" y2="453.08" stroke="#a2a2a2" stroke-width="1.0" />
<line x1="358.02" y1="455.94" x2="364.42" y2="455.94" stroke="#a2a2a2" stroke-width="1.0" />
<line x1="358.02" y1="458.84" x2="364.42" y2="458.84" stroke="#a2a2a2" stroke-width="1.0" />
<line x1="358.02" y1="461.77" x2="364.42" y2="461.77" stroke="#a2a2a2" stroke-width="1.0" />
<line x1="358.02" y1="464.74" x2="364.42" y2="464.74" stroke="#a2a2a2" stroke-width="1.0" />
<line x1="358.02" y1="467.76" x2="364.42" y2="467.76" stroke="#a2a2a2" stroke-width="1.0" />
<line x1="358.02" y1="470.84" x2="364.42" y2="470.84" stroke="#a2a2a2" stroke-width="1.0" />
<line x1="358.02" y1="473.99" x2="364.42" y2="473.99" stroke="#a2a2a2" stroke-width="1.0" />
<line x1="358.02" y1="477.21" x2="364.42" y2="477.21" stroke="#a2a2a2" stroke-width="1.0" />
<line x1="358.02" y1="480.52" x2="364.42" y2="480.52" stroke="#a2a2a2" stroke-width="1.0" />
<rect x="358.02" y="375.10" width="6.40" height="1.20" fill="#5cb82e" />
<rect x="358.02" y="381.90" width="6.40" height="1.30" fill="#0010f0" />
<rect x="358.02" y="387.50" width="6.40" height="1.40" fill="#e88a2a" />
<rect x="358.02" y="439.00" width="6.40" height="1.30" fill="#8a0000" />
<rect x="358.02" y="452.80" width="6.40" height="2.80" fill="url(#hg)" />
<rect x="358.02" y="483.00" width="6.40" height="5.60" fill="#e60000" />
<rect x="358.32" y="352.20" width="5.80" height="136.40" fill="none" stroke="#a3a3a3" stroke-width="0.6"/>
<text x="361.22" y="349.20" font-size="3.9" text-anchor="middle" font-weight="normal" fill="#333" >PB4</text>
<rect x="377.38" y="351.90" width="6.40" height="136.70" fill="#d9d9d9" />
<line x1="377.38" y1="353.90" x2="383.78" y2="353.90" stroke="#a2a2a2" stroke-width="1.0" />
<line x1="377.38" y1="355.90" x2="383.78" y2="355.90" stroke="#a2a2a2" stroke-width="1.0" />
<line x1="377.38" y1="357.90" x2="383.78" y2="357.90" stroke="#a2a2a2" stroke-width="1.0" />
<line x1="377.38" y1="359.91" x2="383.78" y2="359.91" stroke="#a2a2a2" stroke-width="1.0" />
<line x1="377.38" y1="361.91" x2="383.78" y2="361.91" stroke="#a2a2a2" stroke-width="1.0" />
<line x1="377.38" y1="363.92" x2="383.78" y2="363.92" stroke="#a2a2a2" stroke-width="1.0" />
<line x1="377.38" y1="365.94" x2="383.78" y2="365.94" stroke="#a2a2a2" stroke-width="1.0" />
<line x1="377.38" y1="367.96" x2="383.78" y2="367.96" stroke="#a2a2a2" stroke-width="1.0" />
<line x1="377.38" y1="369.99" x2="383.78" y2="369.99" stroke="#a2a2a2" stroke-width="1.0" />
<line x1="377.38" y1="372.02" x2="383.78" y2="372.02" stroke="#a2a2a2" stroke-width="1.0" />
<line x1="377.38" y1="374.07" x2="383.78" y2="374.07" stroke="#a2a2a2" stroke-width="1.0" />
<line x1="377.38" y1="376.12" x2="383.78" y2="376.12" stroke="#a2a2a2" stroke-width="1.0" />
<line x1="377.38" y1="378.18" x2="383.78" y2="378.18" stroke="#a2a2a2" stroke-width="1.0" />
<line x1="377.38" y1="380.26" x2="383.78" y2="380.26" stroke="#a2a2a2" stroke-width="1.0" />
<line x1="377.38" y1="382.34" x2="383.78" y2="382.34" stroke="#a2a2a2" stroke-width="1.0" />
<line x1="377.38" y1="384.44" x2="383.78" y2="384.44" stroke="#a2a2a2" stroke-width="1.0" />
<line x1="377.38" y1="386.56" x2="383.78" y2="386.56" stroke="#a2a2a2" stroke-width="1.0" />
<line x1="377.38" y1="388.69" x2="383.78" y2="388.69" stroke="#a2a2a2" stroke-width="1.0" />
<line x1="377.38" y1="390.84" x2="383.78" y2="390.84" stroke="#a2a2a2" stroke-width="1.0" />
<line x1="377.38" y1="393.01" x2="383.78" y2="393.01" stroke="#a2a2a2" stroke-width="1.0" />
<line x1="377.38" y1="395.19" x2="383.78" y2="395.19" stroke="#a2a2a2" stroke-width="1.0" />
<line x1="377.38" y1="397.40" x2="383.78" y2="397.40" stroke="#a2a2a2" stroke-width="1.0" />
<line x1="377.38" y1="399.63" x2="383.78" y2="399.63" stroke="#a2a2a2" stroke-width="1.0" />
<line x1="377.38" y1="401.89" x2="383.78" y2="401.89" stroke="#a2a2a2" stroke-width="1.0" />
<line x1="377.38" y1="404.17" x2="383.78" y2="404.17" stroke="#a2a2a2" stroke-width="1.0" />
<line x1="377.38" y1="406.49" x2="383.78" y2="406.49" stroke="#a2a2a2" stroke-width="1.0" />
<line x1="377.38" y1="408.83" x2="383.78" y2="408.83" stroke="#a2a2a2" stroke-width="1.0" />
<line x1="377.38" y1="411.20" x2="383.78" y2="411.20" stroke="#a2a2a2" stroke-width="1.0" />
<line x1="377.38" y1="413.61" x2="383.78" y2="413.61" stroke="#a2a2a2" stroke-width="1.0" />
<line x1="377.38" y1="416.06" x2="383.78" y2="416.06" stroke="#a2a2a2" stroke-width="1.0" />
<line x1="377.38" y1="429.60" x2="383.78" y2="429.60" stroke="#a2a2a2" stroke-width="1.0" />
<line x1="377.38" y1="433.40" x2="383.78" y2="433.40" stroke="#a2a2a2" stroke-width="1.0" />
<line x1="377.38" y1="437.20" x2="383.78" y2="437.20" stroke="#a2a2a2" stroke-width="1.0" />
<line x1="377.38" y1="440.70" x2="383.78" y2="440.70" stroke="#a2a2a2" stroke-width="1.0" />
<line x1="377.38" y1="446.40" x2="383.78" y2="446.40" stroke="#a2a2a2" stroke-width="1.0" />
<line x1="377.38" y1="450.00" x2="383.78" y2="450.00" stroke="#a2a2a2" stroke-width="1.0" />
<rect x="377.38" y="418.60" width="6.40" height="3.40" fill="#f2e830" />
<rect x="377.38" y="422.00" width="6.40" height="3.90" fill="#5cb82e" />
<rect x="377.38" y="454.00" width="6.40" height="10.70" fill="#e60000" />
<rect x="377.68" y="352.20" width="5.80" height="136.40" fill="none" stroke="#a3a3a3" stroke-width="0.6"/>
<text x="380.58" y="349.20" font-size="3.9" text-anchor="middle" font-weight="normal" fill="#333" >P1</text>
<rect x="387.06" y="351.90" width="6.40" height="136.70" fill="#d9d9d9" />
<line x1="387.06" y1="353.70" x2="393.46" y2="353.70" stroke="#a2a2a2" stroke-width="1.0" />
<line x1="387.06" y1="355.50" x2="393.46" y2="355.50" stroke="#a2a2a2" stroke-width="1.0" />
<line x1="387.06" y1="357.30" x2="393.46" y2="357.30" stroke="#a2a2a2" stroke-width="1.0" />
<line x1="387.06" y1="359.11" x2="393.46" y2="359.11" stroke="#a2a2a2" stroke-width="1.0" />
<line x1="387.06" y1="360.91" x2="393.46" y2="360.91" stroke="#a2a2a2" stroke-width="1.0" />
<line x1="387.06" y1="362.73" x2="393.46" y2="362.73" stroke="#a2a2a2" stroke-width="1.0" />
<line x1="387.06" y1="364.54" x2="393.46" y2="364.54" stroke="#a2a2a2" stroke-width="1.0" />
<line x1="387.06" y1="366.37" x2="393.46" y2="366.37" stroke="#a2a2a2" stroke-width="1.0" />
<line x1="387.06" y1="368.20" x2="393.46" y2="368.20" stroke="#a2a2a2" stroke-width="1.0" />
<line x1="387.06" y1="370.04" x2="393.46" y2="370.04" stroke="#a2a2a2" stroke-width="1.0" />
<line x1="387.06" y1="371.89" x2="393.46" y2="371.89" stroke="#a2a2a2" stroke-width="1.0" />
<line x1="387.06" y1="373.75" x2="393.46" y2="373.75" stroke="#a2a2a2" stroke-width="1.0" />
<line x1="387.06" y1="375.62" x2="393.46" y2="375.62" stroke="#a2a2a2" stroke-width="1.0" />
<line x1="387.06" y1="377.51" x2="393.46" y2="377.51" stroke="#a2a2a2" stroke-width="1.0" />
<line x1="387.06" y1="379.41" x2="393.46" y2="379.41" stroke="#a2a2a2" stroke-width="1.0" />
<line x1="387.06" y1="381.33" x2="393.46" y2="381.33" stroke="#a2a2a2" stroke-width="1.0" />
<line x1="387.06" y1="383.26" x2="393.46" y2="383.26" stroke="#a2a2a2" stroke-width="1.0" />
<line x1="387.06" y1="385.21" x2="393.46" y2="385.21" stroke="#a2a2a2" stroke-width="1.0" />
<line x1="387.06" y1="387.19" x2="393.46" y2="387.19" stroke="#a2a2a2" stroke-width="1.0" />
<line x1="387.06" y1="389.18" x2="393.46" y2="389.18" stroke="#a2a2a2" stroke-width="1.0" />
<line x1="387.06" y1="391.20" x2="393.46" y2="391.20" stroke="#a2a2a2" stroke-width="1.0" />
<line x1="387.06" y1="393.25" x2="393.46" y2="393.25" stroke="#a2a2a2" stroke-width="1.0" />
<line x1="387.06" y1="395.32" x2="393.46" y2="395.32" stroke="#a2a2a2" stroke-width="1.0" />
<line x1="387.06" y1="397.43" x2="393.46" y2="397.43" stroke="#a2a2a2" stroke-width="1.0" />
<line x1="387.06" y1="399.57" x2="393.46" y2="399.57" stroke="#a2a2a2" stroke-width="1.0" />
<line x1="387.06" y1="401.74" x2="393.46" y2="401.74" stroke="#a2a2a2" stroke-width="1.0" />
<line x1="387.06" y1="403.95" x2="393.46" y2="403.95" stroke="#a2a2a2" stroke-width="1.0" />
<line x1="387.06" y1="406.21" x2="393.46" y2="406.21" stroke="#a2a2a2" stroke-width="1.0" />
<line x1="387.06" y1="408.50" x2="393.46" y2="408.50" stroke="#a2a2a2" stroke-width="1.0" />
<line x1="387.06" y1="410.85" x2="393.46" y2="410.85" stroke="#a2a2a2" stroke-width="1.0" />
<line x1="387.06" y1="413.25" x2="393.46" y2="413.25" stroke="#a2a2a2" stroke-width="1.0" />
<line x1="387.06" y1="415.71" x2="393.46" y2="415.71" stroke="#a2a2a2" stroke-width="1.0" />
<line x1="387.06" y1="418.24" x2="393.46" y2="418.24" stroke="#a2a2a2" stroke-width="1.0" />
<line x1="387.06" y1="420.83" x2="393.46" y2="420.83" stroke="#a2a2a2" stroke-width="1.0" />
<line x1="387.06" y1="423.50" x2="393.46" y2="423.50" stroke="#a2a2a2" stroke-width="1.0" />
<line x1="387.06" y1="426.26" x2="393.46" y2="426.26" stroke="#a2a2a2" stroke-width="1.0" />
<line x1="387.06" y1="429.10" x2="393.46" y2="429.10" stroke="#a2a2a2" stroke-width="1.0" />
<line x1="387.06" y1="432.05" x2="393.46" y2="432.05" stroke="#a2a2a2" stroke-width="1.0" />
<line x1="387.06" y1="435.12" x2="393.46" y2="435.12" stroke="#a2a2a2" stroke-width="1.0" />
<line x1="387.06" y1="438.32" x2="393.46" y2="438.32" stroke="#a2a2a2" stroke-width="1.0" />
<line x1="387.06" y1="441.67" x2="393.46" y2="441.67" stroke="#a2a2a2" stroke-width="1.0" />
<line x1="387.06" y1="445.18" x2="393.46" y2="445.18" stroke="#a2a2a2" stroke-width="1.0" />
<line x1="387.06" y1="448.88" x2="393.46" y2="448.88" stroke="#a2a2a2" stroke-width="1.0" />
<line x1="387.06" y1="450.50" x2="393.46" y2="450.50" stroke="#a2a2a2" stroke-width="1.0" />
<line x1="387.06" y1="458.40" x2="393.46" y2="458.40" stroke="#a2a2a2" stroke-width="1.0" />
<line x1="387.06" y1="466.60" x2="393.46" y2="466.60" stroke="#a2a2a2" stroke-width="1.0" />
<rect x="387.06" y="477.10" width="6.40" height="11.50" fill="#e60000" />
<rect x="387.36" y="352.20" width="5.80" height="136.40" fill="none" stroke="#a3a3a3" stroke-width="0.6"/>
<text x="390.26" y="349.20" font-size="3.9" text-anchor="middle" font-weight="normal" fill="#333" >P2</text>
<rect x="396.74" y="351.90" width="6.40" height="136.70" fill="#d9d9d9" />
<line x1="396.74" y1="359.50" x2="403.14" y2="359.50" stroke="#a2a2a2" stroke-width="1.0" />
<line x1="396.74" y1="367.90" x2="403.14" y2="367.90" stroke="#a2a2a2" stroke-width="1.0" />
<line x1="396.74" y1="375.80" x2="403.14" y2="375.80" stroke="#a2a2a2" stroke-width="1.0" />
<line x1="396.74" y1="384.00" x2="403.14" y2="384.00" stroke="#a2a2a2" stroke-width="1.0" />
<line x1="396.74" y1="391.70" x2="403.14" y2="391.70" stroke="#a2a2a2" stroke-width="1.0" />
<line x1="396.74" y1="400.30" x2="403.14" y2="400.30" stroke="#a2a2a2" stroke-width="1.0" />
<line x1="396.74" y1="408.40" x2="403.14" y2="408.40" stroke="#a2a2a2" stroke-width="1.0" />
<line x1="396.74" y1="416.60" x2="403.14" y2="416.60" stroke="#a2a2a2" stroke-width="1.0" />
<line x1="396.74" y1="424.40" x2="403.14" y2="424.40" stroke="#a2a2a2" stroke-width="1.0" />
<line x1="396.74" y1="432.50" x2="403.14" y2="432.50" stroke="#a2a2a2" stroke-width="1.0" />
<line x1="396.74" y1="440.30" x2="403.14" y2="440.30" stroke="#a2a2a2" stroke-width="1.0" />
<line x1="396.74" y1="448.30" x2="403.14" y2="448.30" stroke="#a2a2a2" stroke-width="1.0" />
<line x1="396.74" y1="456.50" x2="403.14" y2="456.50" stroke="#a2a2a2" stroke-width="1.0" />
<rect x="396.74" y="473.00" width="6.40" height="15.60" fill="#5cb82e" />
<rect x="397.04" y="352.20" width="5.80" height="136.40" fill="none" stroke="#a3a3a3" stroke-width="0.6"/>
<text x="399.94" y="349.20" font-size="3.9" text-anchor="middle" font-weight="normal" fill="#333" >P8</text>
<rect x="406.42" y="351.90" width="6.40" height="136.70" fill="#d9d9d9" />
<line x1="406.42" y1="353.90" x2="412.82" y2="353.90" stroke="#a2a2a2" stroke-width="1.0" />
<line x1="406.42" y1="355.90" x2="412.82" y2="355.90" stroke="#a2a2a2" stroke-width="1.0" />
<line x1="406.42" y1="357.90" x2="412.82" y2="357.90" stroke="#a2a2a2" stroke-width="1.0" />
<line x1="406.42" y1="359.91" x2="412.82" y2="359.91" stroke="#a2a2a2" stroke-width="1.0" />
<line x1="406.42" y1="361.93" x2="412.82" y2="361.93" stroke="#a2a2a2" stroke-width="1.0" />
<line x1="406.42" y1="363.95" x2="412.82" y2="363.95" stroke="#a2a2a2" stroke-width="1.0" />
<line x1="406.42" y1="365.99" x2="412.82" y2="365.99" stroke="#a2a2a2" stroke-width="1.0" />
<line x1="406.42" y1="368.03" x2="412.82" y2="368.03" stroke="#a2a2a2" stroke-width="1.0" />
<line x1="406.42" y1="370.09" x2="412.82" y2="370.09" stroke="#a2a2a2" stroke-width="1.0" />
<line x1="406.42" y1="372.17" x2="412.82" y2="372.17" stroke="#a2a2a2" stroke-width="1.0" />
<line x1="406.42" y1="374.27" x2="412.82" y2="374.27" stroke="#a2a2a2" stroke-width="1.0" />
<line x1="406.42" y1="376.39" x2="412.82" y2="376.39" stroke="#a2a2a2" stroke-width="1.0" />
<line x1="406.42" y1="378.54" x2="412.82" y2="378.54" stroke="#a2a2a2" stroke-width="1.0" />
<line x1="406.42" y1="380.71" x2="412.82" y2="380.71" stroke="#a2a2a2" stroke-width="1.0" />
<line x1="406.42" y1="382.91" x2="412.82" y2="382.91" stroke="#a2a2a2" stroke-width="1.0" />
<line x1="406.42" y1="385.15" x2="412.82" y2="385.15" stroke="#a2a2a2" stroke-width="1.0" />
<line x1="406.42" y1="387.42" x2="412.82" y2="387.42" stroke="#a2a2a2" stroke-width="1.0" />
<line x1="406.42" y1="389.74" x2="412.82" y2="389.74" stroke="#a2a2a2" stroke-width="1.0" />
<line x1="406.42" y1="392.11" x2="412.82" y2="392.11" stroke="#a2a2a2" stroke-width="1.0" />
<line x1="406.42" y1="394.52" x2="412.82" y2="394.52" stroke="#a2a2a2" stroke-width="1.0" />
<line x1="406.42" y1="396.99" x2="412.82" y2="396.99" stroke="#a2a2a2" stroke-width="1.0" />
<line x1="406.42" y1="399.53" x2="412.82" y2="399.53" stroke="#a2a2a2" stroke-width="1.0" />
<line x1="406.42" y1="402.13" x2="412.82" y2="402.13" stroke="#a2a2a2" stroke-width="1.0" />
<line x1="406.42" y1="404.82" x2="412.82" y2="404.82" stroke="#a2a2a2" stroke-width="1.0" />
<line x1="406.42" y1="407.59" x2="412.82" y2="407.59" stroke="#a2a2a2" stroke-width="1.0" />
<line x1="406.42" y1="410.46" x2="412.82" y2="410.46" stroke="#a2a2a2" stroke-width="1.0" />
<line x1="406.42" y1="413.44" x2="412.82" y2="413.44" stroke="#a2a2a2" stroke-width="1.0" />
<line x1="406.42" y1="416.55" x2="412.82" y2="416.55" stroke="#a2a2a2" stroke-width="1.0" />
<line x1="406.42" y1="419.81" x2="412.82" y2="419.81" stroke="#a2a2a2" stroke-width="1.0" />
<line x1="406.42" y1="423.23" x2="412.82" y2="423.23" stroke="#a2a2a2" stroke-width="1.0" />
<line x1="406.42" y1="426.85" x2="412.82" y2="426.85" stroke="#a2a2a2" stroke-width="1.0" />
<line x1="406.42" y1="453.80" x2="412.82" y2="453.80" stroke="#a2a2a2" stroke-width="1.0" />
<line x1="406.42" y1="464.20" x2="412.82" y2="464.20" stroke="#a2a2a2" stroke-width="1.0" />
<line x1="406.42" y1="476.40" x2="412.82" y2="476.40" stroke="#a2a2a2" stroke-width="1.0" />
<rect x="406.42" y="429.40" width="6.40" height="7.00" fill="#0010f0" />
<rect x="406.42" y="436.60" width="6.40" height="8.30" fill="#e60000" />
<rect x="406.72" y="352.20" width="5.80" height="136.40" fill="none" stroke="#a3a3a3" stroke-width="0.6"/>
<text x="409.62" y="349.20" font-size="3.9" text-anchor="middle" font-weight="normal" fill="#333" >P3</text>
<rect x="416.10" y="351.90" width="6.40" height="136.70" fill="#d9d9d9" />
<rect x="416.10" y="351.90" width="6.40" height="35.00" fill="#8c8c8c" />
<rect x="416.10" y="386.90" width="6.40" height="34.00" fill="#b0b0b0" />
<line x1="416.10" y1="423.00" x2="422.50" y2="423.00" stroke="#a2a2a2" stroke-width="1.0" />
<line x1="416.10" y1="425.00" x2="422.50" y2="425.00" stroke="#a2a2a2" stroke-width="1.0" />
<line x1="416.10" y1="427.00" x2="422.50" y2="427.00" stroke="#a2a2a2" stroke-width="1.0" />
<line x1="416.10" y1="429.01" x2="422.50" y2="429.01" stroke="#a2a2a2" stroke-width="1.0" />
<line x1="416.10" y1="431.02" x2="422.50" y2="431.02" stroke="#a2a2a2" stroke-width="1.0" />
<line x1="416.10" y1="433.03" x2="422.50" y2="433.03" stroke="#a2a2a2" stroke-width="1.0" />
<line x1="416.10" y1="435.05" x2="422.50" y2="435.05" stroke="#a2a2a2" stroke-width="1.0" />
<line x1="416.10" y1="437.08" x2="422.50" y2="437.08" stroke="#a2a2a2" stroke-width="1.0" />
<line x1="416.10" y1="439.12" x2="422.50" y2="439.12" stroke="#a2a2a2" stroke-width="1.0" />
<line x1="416.10" y1="441.16" x2="422.50" y2="441.16" stroke="#a2a2a2" stroke-width="1.0" />
<line x1="416.10" y1="443.22" x2="422.50" y2="443.22" stroke="#a2a2a2" stroke-width="1.0" />
<line x1="416.10" y1="445.29" x2="422.50" y2="445.29" stroke="#a2a2a2" stroke-width="1.0" />
<line x1="416.10" y1="447.38" x2="422.50" y2="447.38" stroke="#a2a2a2" stroke-width="1.0" />
<line x1="416.10" y1="449.48" x2="422.50" y2="449.48" stroke="#a2a2a2" stroke-width="1.0" />
<line x1="416.10" y1="451.60" x2="422.50" y2="451.60" stroke="#a2a2a2" stroke-width="1.0" />
<line x1="416.10" y1="453.73" x2="422.50" y2="453.73" stroke="#a2a2a2" stroke-width="1.0" />
<line x1="416.10" y1="455.89" x2="422.50" y2="455.89" stroke="#a2a2a2" stroke-width="1.0" />
<line x1="416.10" y1="458.07" x2="422.50" y2="458.07" stroke="#a2a2a2" stroke-width="1.0" />
<line x1="416.10" y1="460.27" x2="422.50" y2="460.27" stroke="#a2a2a2" stroke-width="1.0" />
<line x1="416.10" y1="462.50" x2="422.50" y2="462.50" stroke="#a2a2a2" stroke-width="1.0" />
<line x1="416.10" y1="464.76" x2="422.50" y2="464.76" stroke="#a2a2a2" stroke-width="1.0" />
<line x1="416.10" y1="467.05" x2="422.50" y2="467.05" stroke="#a2a2a2" stroke-width="1.0" />
<line x1="416.10" y1="469.37" x2="422.50" y2="469.37" stroke="#a2a2a2" stroke-width="1.0" />
<line x1="416.10" y1="471.73" x2="422.50" y2="471.73" stroke="#a2a2a2" stroke-width="1.0" />
<line x1="416.10" y1="474.13" x2="422.50" y2="474.13" stroke="#a2a2a2" stroke-width="1.0" />
<line x1="416.10" y1="476.57" x2="422.50" y2="476.57" stroke="#a2a2a2" stroke-width="1.0" />
<line x1="416.10" y1="479.05" x2="422.50" y2="479.05" stroke="#a2a2a2" stroke-width="1.0" />
<line x1="416.10" y1="481.59" x2="422.50" y2="481.59" stroke="#a2a2a2" stroke-width="1.0" />
<rect x="416.10" y="363.90" width="6.40" height="0.80" fill="#2a2ab0" />
<rect x="416.10" y="446.00" width="6.40" height="1.50" fill="#f2e830" />
<rect x="416.10" y="482.20" width="6.40" height="6.40" fill="#e60000" />
<rect x="416.40" y="352.20" width="5.80" height="136.40" fill="none" stroke="#a3a3a3" stroke-width="0.6"/>
<text x="419.30" y="349.20" font-size="3.9" text-anchor="middle" font-weight="normal" fill="#333" >PB1</text>
<rect x="435.46" y="351.90" width="6.40" height="136.70" fill="#d9d9d9" />
<rect x="435.46" y="351.90" width="6.40" height="33.20" fill="#ababab" />
<line x1="435.46" y1="388.50" x2="441.86" y2="388.50" stroke="#a2a2a2" stroke-width="1.0" />
<line x1="435.46" y1="391.00" x2="441.86" y2="391.00" stroke="#a2a2a2" stroke-width="1.0" />
<line x1="435.46" y1="393.51" x2="441.86" y2="393.51" stroke="#a2a2a2" stroke-width="1.0" />
<line x1="435.46" y1="396.02" x2="441.86" y2="396.02" stroke="#a2a2a2" stroke-width="1.0" />
<line x1="435.46" y1="398.54" x2="441.86" y2="398.54" stroke="#a2a2a2" stroke-width="1.0" />
<line x1="435.46" y1="401.07" x2="441.86" y2="401.07" stroke="#a2a2a2" stroke-width="1.0" />
<line x1="435.46" y1="403.62" x2="441.86" y2="403.62" stroke="#a2a2a2" stroke-width="1.0" />
<line x1="435.46" y1="406.18" x2="441.86" y2="406.18" stroke="#a2a2a2" stroke-width="1.0" />
<line x1="435.46" y1="408.77" x2="441.86" y2="408.77" stroke="#a2a2a2" stroke-width="1.0" />
<line x1="435.46" y1="411.37" x2="441.86" y2="411.37" stroke="#a2a2a2" stroke-width="1.0" />
<line x1="435.46" y1="414.01" x2="441.86" y2="414.01" stroke="#a2a2a2" stroke-width="1.0" />
<line x1="435.46" y1="416.67" x2="441.86" y2="416.67" stroke="#a2a2a2" stroke-width="1.0" />
<line x1="435.46" y1="419.37" x2="441.86" y2="419.37" stroke="#a2a2a2" stroke-width="1.0" />
<line x1="435.46" y1="422.11" x2="441.86" y2="422.11" stroke="#a2a2a2" stroke-width="1.0" />
<line x1="435.46" y1="424.89" x2="441.86" y2="424.89" stroke="#a2a2a2" stroke-width="1.0" />
<line x1="435.46" y1="427.72" x2="441.86" y2="427.72" stroke="#a2a2a2" stroke-width="1.0" />
<line x1="435.46" y1="430.60" x2="441.86" y2="430.60" stroke="#a2a2a2" stroke-width="1.0" />
<line x1="435.46" y1="433.53" x2="441.86" y2="433.53" stroke="#a2a2a2" stroke-width="1.0" />
<line x1="435.46" y1="436.54" x2="441.86" y2="436.54" stroke="#a2a2a2" stroke-width="1.0" />
<line x1="435.46" y1="439.62" x2="441.86" y2="439.62" stroke="#a2a2a2" stroke-width="1.0" />
<line x1="435.46" y1="442.78" x2="441.86" y2="442.78" stroke="#a2a2a2" stroke-width="1.0" />
<line x1="435.46" y1="446.03" x2="441.86" y2="446.03" stroke="#a2a2a2" stroke-width="1.0" />
<line x1="435.46" y1="449.38" x2="441.86" y2="449.38" stroke="#a2a2a2" stroke-width="1.0" />
<line x1="435.46" y1="452.84" x2="441.86" y2="452.84" stroke="#a2a2a2" stroke-width="1.0" />
<line x1="435.46" y1="456.44" x2="441.86" y2="456.44" stroke="#a2a2a2" stroke-width="1.0" />
<line x1="435.46" y1="460.18" x2="441.86" y2="460.18" stroke="#a2a2a2" stroke-width="1.0" />
<rect x="435.46" y="463.90" width="6.40" height="5.80" fill="#e60000" />
<rect x="435.76" y="352.20" width="5.80" height="136.40" fill="none" stroke="#a3a3a3" stroke-width="0.6"/>
<text x="438.66" y="349.20" font-size="3.9" text-anchor="middle" font-weight="normal" fill="#333" >T1</text>
<rect x="445.14" y="351.90" width="6.40" height="136.70" fill="#d9d9d9" />
<rect x="445.14" y="351.90" width="6.40" height="31.80" fill="#ababab" />
<line x1="445.14" y1="388.00" x2="451.54" y2="388.00" stroke="#a2a2a2" stroke-width="1.0" />
<line x1="445.14" y1="391.00" x2="451.54" y2="391.00" stroke="#a2a2a2" stroke-width="1.0" />
<line x1="445.14" y1="394.01" x2="451.54" y2="394.01" stroke="#a2a2a2" stroke-width="1.0" />
<line x1="445.14" y1="397.04" x2="451.54" y2="397.04" stroke="#a2a2a2" stroke-width="1.0" />
<line x1="445.14" y1="400.08" x2="451.54" y2="400.08" stroke="#a2a2a2" stroke-width="1.0" />
<line x1="445.14" y1="403.14" x2="451.54" y2="403.14" stroke="#a2a2a2" stroke-width="1.0" />
<line x1="445.14" y1="406.24" x2="451.54" y2="406.24" stroke="#a2a2a2" stroke-width="1.0" />
<line x1="445.14" y1="409.37" x2="451.54" y2="409.37" stroke="#a2a2a2" stroke-width="1.0" />
<line x1="445.14" y1="412.55" x2="451.54" y2="412.55" stroke="#a2a2a2" stroke-width="1.0" />
<line x1="445.14" y1="415.77" x2="451.54" y2="415.77" stroke="#a2a2a2" stroke-width="1.0" />
<line x1="445.14" y1="419.06" x2="451.54" y2="419.06" stroke="#a2a2a2" stroke-width="1.0" />
<line x1="445.14" y1="422.41" x2="451.54" y2="422.41" stroke="#a2a2a2" stroke-width="1.0" />
<line x1="445.14" y1="425.84" x2="451.54" y2="425.84" stroke="#a2a2a2" stroke-width="1.0" />
<line x1="445.14" y1="429.35" x2="451.54" y2="429.35" stroke="#a2a2a2" stroke-width="1.0" />
<line x1="445.14" y1="432.97" x2="451.54" y2="432.97" stroke="#a2a2a2" stroke-width="1.0" />
<line x1="445.14" y1="436.71" x2="451.54" y2="436.71" stroke="#a2a2a2" stroke-width="1.0" />
<rect x="445.14" y="439.90" width="6.40" height="9.40" fill="#e60000" />
<rect x="445.44" y="352.20" width="5.80" height="136.40" fill="none" stroke="#a3a3a3" stroke-width="0.6"/>
<text x="448.34" y="349.20" font-size="3.9" text-anchor="middle" font-weight="normal" fill="#333" >P1</text>
<rect x="454.82" y="351.90" width="6.40" height="136.70" fill="#d9d9d9" />
<rect x="454.82" y="351.90" width="6.40" height="36.10" fill="#ababab" />
<line x1="454.82" y1="392.00" x2="461.22" y2="392.00" stroke="#a2a2a2" stroke-width="1.0" />
<line x1="454.82" y1="395.00" x2="461.22" y2="395.00" stroke="#a2a2a2" stroke-width="1.0" />
<line x1="454.82" y1="398.02" x2="461.22" y2="398.02" stroke="#a2a2a2" stroke-width="1.0" />
<line x1="454.82" y1="401.05" x2="461.22" y2="401.05" stroke="#a2a2a2" stroke-width="1.0" />
<line x1="454.82" y1="404.10" x2="461.22" y2="404.10" stroke="#a2a2a2" stroke-width="1.0" />
<line x1="454.82" y1="407.18" x2="461.22" y2="407.18" stroke="#a2a2a2" stroke-width="1.0" />
<line x1="454.82" y1="410.30" x2="461.22" y2="410.30" stroke="#a2a2a2" stroke-width="1.0" />
<line x1="454.82" y1="413.47" x2="461.22" y2="413.47" stroke="#a2a2a2" stroke-width="1.0" />
<line x1="454.82" y1="416.69" x2="461.22" y2="416.69" stroke="#a2a2a2" stroke-width="1.0" />
<line x1="454.82" y1="419.98" x2="461.22" y2="419.98" stroke="#a2a2a2" stroke-width="1.0" />
<line x1="454.82" y1="423.35" x2="461.22" y2="423.35" stroke="#a2a2a2" stroke-width="1.0" />
<line x1="454.82" y1="426.81" x2="461.22" y2="426.81" stroke="#a2a2a2" stroke-width="1.0" />
<line x1="454.82" y1="430.37" x2="461.22" y2="430.37" stroke="#a2a2a2" stroke-width="1.0" />
<line x1="454.82" y1="434.05" x2="461.22" y2="434.05" stroke="#a2a2a2" stroke-width="1.0" />
<line x1="454.82" y1="437.88" x2="461.22" y2="437.88" stroke="#a2a2a2" stroke-width="1.0" />
<line x1="454.82" y1="441.87" x2="461.22" y2="441.87" stroke="#a2a2a2" stroke-width="1.0" />
<line x1="454.82" y1="446.07" x2="461.22" y2="446.07" stroke="#a2a2a2" stroke-width="1.0" />
<line x1="454.82" y1="450.51" x2="461.22" y2="450.51" stroke="#a2a2a2" stroke-width="1.0" />
<line x1="454.82" y1="455.23" x2="461.22" y2="455.23" stroke="#a2a2a2" stroke-width="1.0" />
<line x1="454.82" y1="460.31" x2="461.22" y2="460.31" stroke="#a2a2a2" stroke-width="1.0" />
<rect x="454.82" y="408.40" width="6.40" height="5.10" fill="#5cb82e" />
<rect x="454.82" y="465.10" width="6.40" height="23.50" fill="#e60000" />
<rect x="455.12" y="352.20" width="5.80" height="136.40" fill="none" stroke="#a3a3a3" stroke-width="0.6"/>
<text x="458.02" y="349.20" font-size="3.9" text-anchor="middle" font-weight="normal" fill="#333" >T2</text>
<rect x="464.50" y="351.90" width="6.40" height="136.70" fill="#d9d9d9" />
<rect x="464.50" y="351.90" width="6.40" height="42.50" fill="#c8c8c8" />
<line x1="464.50" y1="354.40" x2="470.90" y2="354.40" stroke="#a2a2a2" stroke-width="1.0" />
<line x1="464.50" y1="356.90" x2="470.90" y2="356.90" stroke="#a2a2a2" stroke-width="1.0" />
<line x1="464.50" y1="359.40" x2="470.90" y2="359.40" stroke="#a2a2a2" stroke-width="1.0" />
<line x1="464.50" y1="361.90" x2="470.90" y2="361.90" stroke="#a2a2a2" stroke-width="1.0" />
<line x1="464.50" y1="364.40" x2="470.90" y2="364.40" stroke="#a2a2a2" stroke-width="1.0" />
<line x1="464.50" y1="366.90" x2="470.90" y2="366.90" stroke="#a2a2a2" stroke-width="1.0" />
<line x1="464.50" y1="369.40" x2="470.90" y2="369.40" stroke="#a2a2a2" stroke-width="1.0" />
<line x1="464.50" y1="371.90" x2="470.90" y2="371.90" stroke="#a2a2a2" stroke-width="1.0" />
<line x1="464.50" y1="374.40" x2="470.90" y2="374.40" stroke="#a2a2a2" stroke-width="1.0" />
<line x1="464.50" y1="376.90" x2="470.90" y2="376.90" stroke="#a2a2a2" stroke-width="1.0" />
<line x1="464.50" y1="379.40" x2="470.90" y2="379.40" stroke="#a2a2a2" stroke-width="1.0" />
<line x1="464.50" y1="381.90" x2="470.90" y2="381.90" stroke="#a2a2a2" stroke-width="1.0" />
<line x1="464.50" y1="384.40" x2="470.90" y2="384.40" stroke="#a2a2a2" stroke-width="1.0" />
<line x1="464.50" y1="386.90" x2="470.90" y2="386.90" stroke="#a2a2a2" stroke-width="1.0" />
<line x1="464.50" y1="389.40" x2="470.90" y2="389.40" stroke="#a2a2a2" stroke-width="1.0" />
<line x1="464.50" y1="391.90" x2="470.90" y2="391.90" stroke="#a2a2a2" stroke-width="1.0" />
<line x1="464.50" y1="402.00" x2="470.90" y2="402.00" stroke="#a2a2a2" stroke-width="1.0" />
<line x1="464.50" y1="406.01" x2="470.90" y2="406.01" stroke="#a2a2a2" stroke-width="1.0" />
<line x1="464.50" y1="410.04" x2="470.90" y2="410.04" stroke="#a2a2a2" stroke-width="1.0" />
<line x1="464.50" y1="414.11" x2="470.90" y2="414.11" stroke="#a2a2a2" stroke-width="1.0" />
<line x1="464.50" y1="418.23" x2="470.90" y2="418.23" stroke="#a2a2a2" stroke-width="1.0" />
<line x1="464.50" y1="422.43" x2="470.90" y2="422.43" stroke="#a2a2a2" stroke-width="1.0" />
<line x1="464.50" y1="426.72" x2="470.90" y2="426.72" stroke="#a2a2a2" stroke-width="1.0" />
<line x1="464.50" y1="431.13" x2="470.90" y2="431.13" stroke="#a2a2a2" stroke-width="1.0" />
<line x1="464.50" y1="435.68" x2="470.90" y2="435.68" stroke="#a2a2a2" stroke-width="1.0" />
<line x1="464.50" y1="440.40" x2="470.90" y2="440.40" stroke="#a2a2a2" stroke-width="1.0" />
<line x1="464.50" y1="445.34" x2="470.90" y2="445.34" stroke="#a2a2a2" stroke-width="1.0" />
<line x1="464.50" y1="450.55" x2="470.90" y2="450.55" stroke="#a2a2a2" stroke-width="1.0" />
<line x1="464.50" y1="456.08" x2="470.90" y2="456.08" stroke="#a2a2a2" stroke-width="1.0" />
<line x1="464.50" y1="462.03" x2="470.90" y2="462.03" stroke="#a2a2a2" stroke-width="1.0" />
<rect x="464.50" y="394.40" width="6.40" height="3.50" fill="#5cb82e" />
<rect x="464.50" y="467.00" width="6.40" height="21.60" fill="#e60000" />
<rect x="464.80" y="352.20" width="5.80" height="136.40" fill="none" stroke="#a3a3a3" stroke-width="0.6"/>
<text x="467.70" y="349.20" font-size="3.9" text-anchor="middle" font-weight="normal" fill="#333" >PB1</text>
<line x1="270.00" y1="341.30" x2="366.00" y2="341.30" stroke="#222" stroke-width="1.0" />
<text x="318.00" y="337.10" font-size="3.9" text-anchor="middle" font-weight="normal" fill="#333" >MF6</text>
<line x1="377.20" y1="341.30" x2="421.90" y2="341.30" stroke="#222" stroke-width="1.0" />
<text x="399.55" y="337.10" font-size="3.9" text-anchor="middle" font-weight="normal" fill="#333" >MF11</text>
<line x1="435.60" y1="341.30" x2="471.70" y2="341.30" stroke="#222" stroke-width="1.0" />
<text x="453.65" y="337.10" font-size="3.9" text-anchor="middle" font-weight="normal" fill="#333" >MF36</text>
<path d="M265.9 489.5h1.6M265.9 487.5h1.6M265.9 485.5h1.6M265.9 483.5h1.6M265.9 481.5h1.6M265.9 479.5h1.6M265.9 477.5h1.6M265.9 475.5h1.6M265.9 473.5h1.6M265.9 471.5h1.6M265.9 469.5h1.6M265.9 467.5h1.6M265.9 465.5h1.6M265.9 463.5h1.6M265.9 461.5h1.6M265.9 459.5h1.6M265.9 457.5h1.6M265.9 455.5h1.6M265.9 453.5h1.6M265.9 451.5h1.6M265.9 449.5h1.6M265.9 447.5h1.6M265.9 445.5h1.6M265.9 443.5h1.6M265.9 441.5h1.6M265.9 439.5h1.6M265.9 437.5h1.6M265.9 435.5h1.6M265.9 433.5h1.6M265.9 431.5h1.6M265.9 429.5h1.6M265.9 427.5h1.6M265.9 425.5h1.6M265.9 423.5h1.6M265.9 421.5h1.6M265.9 419.5h1.6M265.9 417.5h1.6M265.9 415.5h1.6M265.9 413.5h1.6M265.9 411.5h1.6M265.9 409.5h1.6M265.9 407.5h1.6M265.9 405.5h1.6M265.9 403.5h1.6M265.9 401.5h1.6M265.9 399.5h1.6M265.9 397.5h1.6M265.9 395.5h1.6M265.9 393.5h1.6M265.9 391.5h1.6M265.9 389.5h1.6M265.9 387.5h1.6M265.9 385.5h1.6M265.9 383.5h1.6M265.9 381.5h1.6M265.9 379.5h1.6M265.9 377.5h1.6M265.9 375.5h1.6M265.9 373.5h1.6M265.9 371.5h1.6M265.9 369.5h1.6M265.9 367.5h1.6M265.9 365.5h1.6M265.9 363.5h1.6M265.9 361.5h1.6M265.9 359.5h1.6M265.9 357.5h1.6M265.9 355.5h1.6M265.9 353.5h1.6" stroke="#000" stroke-width="1" fill="none"/>
<line x1="267.90" y1="348.90" x2="267.90" y2="489.20" stroke="#000" stroke-width="1.2" />
<line x1="264.70" y1="488.60" x2="267.90" y2="488.60" stroke="#000" stroke-width="0.8" />
<text x="262.80" y="490.10" font-size="5.5" text-anchor="end" font-weight="normal" fill="#222" >0</text>
<line x1="264.70" y1="461.26" x2="267.90" y2="461.26" stroke="#000" stroke-width="0.8" />
<text x="262.80" y="462.76" font-size="5.5" text-anchor="end" font-weight="normal" fill="#222" >20</text>
<line x1="264.70" y1="433.92" x2="267.90" y2="433.92" stroke="#000" stroke-width="0.8" />
<text x="262.80" y="435.42" font-size="5.5" text-anchor="end" font-weight="normal" fill="#222" >40</text>
<line x1="264.70" y1="406.58" x2="267.90" y2="406.58" stroke="#000" stroke-width="0.8" />
<text x="262.80" y="408.08" font-size="5.5" text-anchor="end" font-weight="normal" fill="#222" >60</text>
<line x1="264.70" y1="379.24" x2="267.90" y2="379.24" stroke="#000" stroke-width="0.8" />
<text x="262.80" y="380.74" font-size="5.5" text-anchor="end" font-weight="normal" fill="#222" >80</text>
<line x1="264.70" y1="351.90" x2="267.90" y2="351.90" stroke="#000" stroke-width="0.8" />
<text x="262.80" y="353.40" font-size="5.5" text-anchor="end" font-weight="normal" fill="#222" >100</text>
<line x1="267.30" y1="488.60" x2="473.70" y2="488.60" stroke="#000" stroke-width="1.2" />
<text x="247.60" y="418.00" font-size="7" text-anchor="middle" font-weight="normal" fill="#111" transform="rotate(-90 247.60 418.00)" textLength="73" lengthAdjust="spacingAndGlyphs" >TCRβ relative frequency %</text>
<rect x="267.50" y="495.50" width="10.00" height="4.50" fill="#e60000" stroke="#333" stroke-width="0.6"/>
<text x="280.50" y="499.10" font-size="4.6" text-anchor="start" font-weight="normal" fill="#222" >First</text>
<rect x="305.00" y="495.50" width="10.00" height="4.50" fill="#5cb82e" stroke="#333" stroke-width="0.6"/>
<text x="318.00" y="499.10" font-size="4.6" text-anchor="start" font-weight="normal" fill="#222" >Second</text>
<rect x="342.00" y="495.50" width="10.00" height="4.50" fill="#f2e830" stroke="#333" stroke-width="0.6"/>
<text x="355.00" y="499.10" font-size="4.6" text-anchor="start" font-weight="normal" fill="#222" >Third</text>
<rect x="374.50" y="495.50" width="10.00" height="4.50" fill="#0010f0" stroke="#333" stroke-width="0.6"/>
<text x="387.50" y="499.10" font-size="4.6" text-anchor="start" font-weight="normal" fill="#222" >Fourth</text>
<rect x="409.50" y="495.50" width="10.00" height="4.50" fill="#e88a2a" stroke="#333" stroke-width="0.6"/>
<text x="422.50" y="499.10" font-size="4.6" text-anchor="start" font-weight="normal" fill="#222" >Fifth</text>
<rect x="439.50" y="495.50" width="10.00" height="4.50" fill="#a8f4f4" stroke="#333" stroke-width="0.6"/>
<text x="452.50" y="499.10" font-size="4.6" text-anchor="start" font-weight="normal" fill="#222" >Sixth</text>
<rect x="267.50" y="503.50" width="10.00" height="4.50" fill="#8a0000" stroke="#333" stroke-width="0.6"/>
<text x="280.50" y="507.10" font-size="4.6" text-anchor="start" font-weight="normal" fill="#222" >Seventh</text>
<rect x="305.00" y="503.50" width="10.00" height="4.50" fill="#9010e0" stroke="#333" stroke-width="0.6"/>
<text x="318.00" y="507.10" font-size="4.6" text-anchor="start" font-weight="normal" fill="#222" >Eight</text>
<rect x="342.00" y="503.50" width="10.00" height="4.50" fill="#5a0a0a" stroke="#333" stroke-width="0.6"/>
<text x="355.00" y="507.10" font-size="4.6" text-anchor="start" font-weight="normal" fill="#222" >Ninth</text>
<rect x="374.50" y="503.50" width="10.00" height="4.50" fill="#3e8a22" stroke="#333" stroke-width="0.6"/>
<text x="387.50" y="507.10" font-size="4.6" text-anchor="start" font-weight="normal" fill="#222" >Tenth</text>
<rect x="409.50" y="503.50" width="10.00" height="4.50" fill="#d9d9d9" stroke="#333" stroke-width="0.6"/>
<text x="422.50" y="507.10" font-size="4.6" text-anchor="start" font-weight="normal" fill="#222" >Non-overlapping clonotypes</text>
<rect x="0.5" y="0.5" width="519" height="514" fill="none" stroke="#000" stroke-width="1.2"/>
</svg>
</body></html>
